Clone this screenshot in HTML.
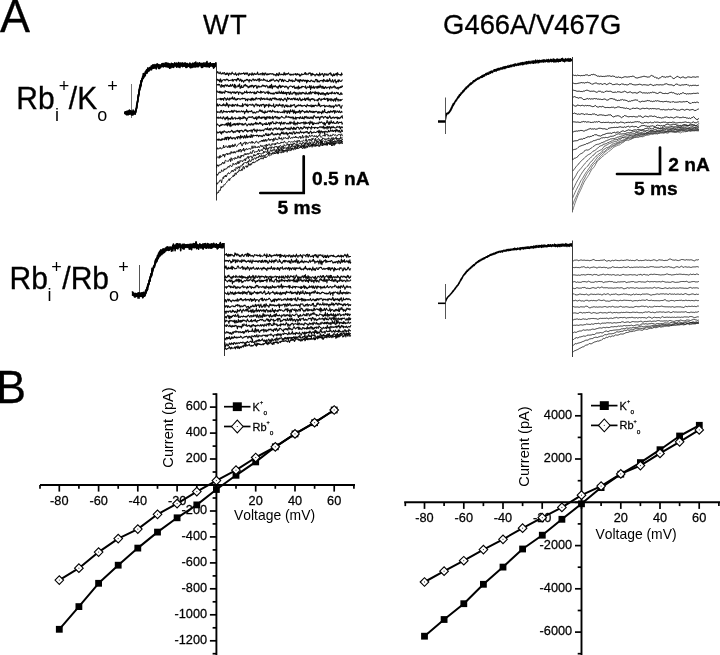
<!DOCTYPE html>
<html><head><meta charset="utf-8"><title>Figure</title>
<style>
html,body{margin:0;padding:0;background:#fff;}
body{width:720px;height:655px;overflow:hidden;position:relative;font-family:"Liberation Sans", sans-serif;}
svg{will-change:transform;position:absolute;left:0;top:0;display:block;}
svg text{font-family:"Liberation Sans", sans-serif;fill:#000;font-kerning:none;}
</style></head>
<body>
<svg width="720" height="655" viewBox="0 0 720 655">
<rect x="0" y="0" width="720" height="655" fill="#fff"/>
<line x1="131.5" y1="84" x2="131.5" y2="118" stroke="#777" stroke-width="1.0"/>
<path d="M124.5 113 L124.8 113.3 L125.2 112.7 L125.5 112 L125.8 112.5 L126.1 111.9 L126.5 113.1 L126.8 114.5 L127.1 112.4 L127.5 112.3 L127.8 113.6 L128.1 113.4 L128.5 113.1 L128.8 111.9 L129.1 113 L129.4 113.8 L129.8 111.5 L130.1 112.5 L130.4 110.8 L130.8 111.5 L131.1 110.9 L131.4 112.7 L131.8 111.5 L132.1 113.3 L132.4 113.2 L132.7 112.8 L133.1 110.1 L133.4 112.4 L133.7 112.9 L134.1 113.1 L134.4 111.2 L134.7 112.5 L135.1 111.9 L135.4 111.5 L135.7 112.6 L136 109 L136.4 108.2 L136.7 107.7 L137 104.2 L137.4 102.7 L137.7 100.7 L138 98.4 L138.4 94.9 L138.7 94.5 L139 94.1 L139.3 89 L139.7 90 L140 87.6 L140.3 85.2 L140.7 86.9 L141 84.1 L141.3 80.6 L141.7 81 L142 80.6 L142.3 78.8 L142.6 79 L143 77.3 L143.3 77.4 L143.6 77.7 L144 74.6 L144.3 75 L144.6 73.7 L145 73.9 L145.3 71.9 L145.6 72.1 L145.9 72.1 L146.3 72.9 L146.6 72.8 L146.9 69.5 L147.3 69.8 L147.6 71.1 L147.9 67.7 L148.3 69.2 L148.6 69.3 L148.9 70.6 L149.2 69.7 L149.6 68.3 L149.9 68 L150.2 68 L150.6 69.8 L150.9 67.4 L151.2 67.4 L151.6 68 L151.9 67.3 L152.2 67.1 L152.5 65.9 L152.9 67.1 L153.2 66.5 L153.5 68.2 L153.9 67.5 L154.2 66.7 L154.5 67.4 L154.9 66.2 L155.2 67.7 L155.5 66.4 L155.8 67 L156.2 64.8 L156.5 66.6 L156.8 64.2 L157.2 63.8 L157.5 65.7 L157.8 65 L158.2 66.2 L158.5 68.5 L158.8 64.9 L159.1 65.1 L159.5 66.1 L159.8 66.3 L160.1 65.5 L160.5 65.5 L160.8 66.5 L161.1 66.2 L161.5 64.4 L161.8 65.5 L162.1 65.6 L162.4 64.3 L162.8 65.8 L163.1 64.5 L163.4 66.6 L163.8 65.7 L164.1 65.6 L164.4 64.8 L164.8 65.3 L165.1 63.1 L165.4 64.1 L165.7 65.8 L166.1 62.9 L166.4 66.4 L166.7 63.4 L167.1 66.2 L167.4 64.4 L167.7 66.2 L168.1 65.5 L168.4 63.6 L168.7 66.8 L169 67 L169.4 65.2 L169.7 65 L170 65.1 L170.4 64.2 L170.7 66.5 L171 64.6 L171.4 65.2 L171.7 64.3 L172 64.5 L172.3 63.8 L172.7 66.7 L173 65 L173.3 66.3 L173.7 65.2 L174 64.4 L174.3 64.8 L174.7 64.6 L175 65.2 L175.3 64.8 L175.6 64.9 L176 63.6 L176.3 64.3 L176.6 67.1 L177 64.4 L177.3 64 L177.6 65.6 L178 66.8 L178.3 63.5 L178.6 65 L178.9 64.5 L179.3 63.2 L179.6 66 L179.9 65.2 L180.3 65.3 L180.6 64.3 L180.9 65.7 L181.3 64.6 L181.6 65 L181.9 63.9 L182.2 63.8 L182.6 66.7 L182.9 64.6 L183.2 65.5 L183.6 65.2 L183.9 64.7 L184.2 64.6 L184.6 65.9 L184.9 64.9 L185.2 65 L185.5 65.2 L185.9 66.6 L186.2 66 L186.5 65.6 L186.9 64.6 L187.2 63.6 L187.5 66.3 L187.9 66.3 L188.2 65 L188.5 65.8 L188.8 66.1 L189.2 66.2 L189.5 66.3 L189.8 64.7 L190.2 66.9 L190.5 63.8 L190.8 66.2 L191.2 65.8 L191.5 66.2 L191.8 67.4 L192.1 66.9 L192.5 63.9 L192.8 63.3 L193.1 66.1 L193.5 64 L193.8 65.2 L194.1 66.2 L194.5 63.3 L194.8 62.8 L195.1 65.5 L195.4 65.3 L195.8 64.9 L196.1 65.2 L196.4 64.2 L196.8 63.5 L197.1 65 L197.4 64.1 L197.8 63.3 L198.1 65.8 L198.4 65.1 L198.7 65.7 L199.1 64.1 L199.4 64.4 L199.7 64.1 L200.1 64.2 L200.4 65.4 L200.7 64.3 L201.1 65.6 L201.4 65.6 L201.7 67.5 L202 63.6 L202.4 66.2 L202.7 65.1 L203 65.2 L203.4 63.5 L203.7 64.7 L204 66.1 L204.4 65.1 L204.7 65.3 L205 64.9 L205.3 66.5 L205.7 65.2 L206 62.7 L206.3 64.4 L206.7 62.9 L207 61.5 L207.3 64.6 L207.7 66.7 L208 65.3 L208.3 63.9 L208.6 64.1 L209 66.5 L209.3 65.4 L209.6 65.3 L210 65.1 L210.3 65.2 L210.6 66.1 L211 65.8 L211.3 65.4 L211.6 64 L211.9 65.8 L212.3 64.4 L212.6 66.5 L212.9 63.7 L213.3 65 L213.6 65.2 L213.9 63.7 L214.3 67.2 L214.6 66.9 L214.9 64.7 L215.2 66.1 L215.6 65.6 L215.9 62.2" fill="none" stroke="#000" stroke-width="1.6" stroke-linejoin="round" />
<path d="M124.5 112.9 L124.8 113.1 L125.2 111.8 L125.5 112.7 L125.8 112.8 L126.1 114.4 L126.5 113.4 L126.8 113 L127.1 114.8 L127.5 112.4 L127.8 112.6 L128.1 110.9 L128.5 114.8 L128.8 114.1 L129.1 114.1 L129.4 113.8 L129.8 113.1 L130.1 113.2 L130.4 112.7 L130.8 112.8 L131.1 113.1 L131.4 114.7 L131.8 113.6 L132.1 112.9 L132.4 112.3 L132.7 112.3 L133.1 114.8 L133.4 113.6 L133.7 113.1 L134.1 112.6 L134.4 111.7 L134.7 112.9 L135.1 114 L135.4 112 L135.7 111.1 L136 109.7 L136.4 108.4 L136.7 104.8 L137 104.6 L137.4 101.8 L137.7 101.6 L138 97.5 L138.4 97 L138.7 96.2 L139 92.2 L139.3 90.1 L139.7 89.3 L140 87.5 L140.3 84.8 L140.7 85.1 L141 85.6 L141.3 81.7 L141.7 80.7 L142 78.7 L142.3 79.4 L142.6 76.7 L143 76.1 L143.3 78.2 L143.6 75 L144 76.6 L144.3 76.6 L144.6 74.5 L145 74.4 L145.3 75.5 L145.6 72.5 L145.9 71.6 L146.3 70.3 L146.6 71.5 L146.9 72.8 L147.3 71.8 L147.6 69.3 L147.9 69 L148.3 69.2 L148.6 69.8 L148.9 69 L149.2 69.2 L149.6 69 L149.9 68.1 L150.2 68.2 L150.6 68.3 L150.9 67.8 L151.2 68.3 L151.6 69.7 L151.9 68.1 L152.2 67.4 L152.5 65.3 L152.9 67.5 L153.2 64.7 L153.5 65.3 L153.9 67.8 L154.2 67.5 L154.5 66.5 L154.9 64.6 L155.2 66 L155.5 65.6 L155.8 67.1 L156.2 68.9 L156.5 66.5 L156.8 65.3 L157.2 64.8 L157.5 66 L157.8 65.8 L158.2 64.7 L158.5 66.1 L158.8 64.6 L159.1 67.1 L159.5 67 L159.8 67 L160.1 65.2 L160.5 66.3 L160.8 65.5 L161.1 65.2 L161.5 65.2 L161.8 64.1 L162.1 63.9 L162.4 66.5 L162.8 65.3 L163.1 65.8 L163.4 66.6 L163.8 63.5 L164.1 64.6 L164.4 65.7 L164.8 65.9 L165.1 65 L165.4 66.6 L165.7 65.7 L166.1 64 L166.4 64.3 L166.7 66.3 L167.1 65.9 L167.4 63.2 L167.7 66.9 L168.1 66 L168.4 66.9 L168.7 64.9 L169 65 L169.4 64 L169.7 68.2 L170 65.1 L170.4 67.1 L170.7 64.5 L171 65.4 L171.4 63.3 L171.7 64.8 L172 66.4 L172.3 63.8 L172.7 66.5 L173 65.6 L173.3 64 L173.7 64.6 L174 64.7 L174.3 65.2 L174.7 64.6 L175 64.3 L175.3 64.9 L175.6 64 L176 63.7 L176.3 65.1 L176.6 66.2 L177 63.4 L177.3 65.2 L177.6 64.5 L178 64.1 L178.3 66.2 L178.6 64.6 L178.9 66.9 L179.3 64.3 L179.6 65.6 L179.9 64.9 L180.3 64.3 L180.6 65.9 L180.9 65 L181.3 65.9 L181.6 65.1 L181.9 64 L182.2 65.1 L182.6 65.3 L182.9 66.3 L183.2 64.2 L183.6 65.2 L183.9 63.2 L184.2 65.9 L184.6 64 L184.9 63.1 L185.2 65.1 L185.5 66.5 L185.9 63.4 L186.2 63.9 L186.5 64.3 L186.9 63.9 L187.2 65.6 L187.5 64.3 L187.9 64.4 L188.2 65.9 L188.5 64.3 L188.8 65.7 L189.2 64.1 L189.5 63.8 L189.8 63.1 L190.2 67.3 L190.5 64.8 L190.8 65.5 L191.2 65.2 L191.5 65.4 L191.8 65.3 L192.1 67.4 L192.5 64 L192.8 63.4 L193.1 64 L193.5 63.7 L193.8 66.1 L194.1 66.1 L194.5 64.1 L194.8 63.6 L195.1 64.8 L195.4 66.8 L195.8 62 L196.1 65.8 L196.4 64 L196.8 66.4 L197.1 64 L197.4 64.9 L197.8 63.5 L198.1 64.1 L198.4 66.8 L198.7 66.1 L199.1 64.7 L199.4 64.2 L199.7 63 L200.1 64.7 L200.4 65.2 L200.7 65.1 L201.1 65.1 L201.4 63.9 L201.7 65.1 L202 65.2 L202.4 66.7 L202.7 67.3 L203 65 L203.4 64.3 L203.7 65.1 L204 64.5 L204.4 64.3 L204.7 65.1 L205 64 L205.3 65.9 L205.7 65.1 L206 65.5 L206.3 65 L206.7 64.4 L207 64.1 L207.3 64.9 L207.7 64.6 L208 65.5 L208.3 65.2 L208.6 63.6 L209 65.3 L209.3 63.7 L209.6 64.5 L210 64.9 L210.3 62.8 L210.6 65.3 L211 65.4 L211.3 65 L211.6 64.7 L211.9 64.8 L212.3 64.1 L212.6 64.9 L212.9 64.6 L213.3 65.3 L213.6 63.8 L213.9 65.5 L214.3 65.4 L214.6 65 L214.9 64.7 L215.2 65.8 L215.6 63.3 L215.9 65.7" fill="none" stroke="#000" stroke-width="1.6" stroke-linejoin="round" />
<path d="M124.5 113.3 L124.8 113.4 L125.2 112.2 L125.5 112.7 L125.8 113.7 L126.1 113.5 L126.5 113.2 L126.8 111.3 L127.1 113.6 L127.5 114.3 L127.8 114.2 L128.1 113.3 L128.5 111.2 L128.8 114.1 L129.1 112.8 L129.4 110.1 L129.8 113.4 L130.1 111.3 L130.4 111.5 L130.8 112.3 L131.1 114.5 L131.4 112.6 L131.8 113.3 L132.1 115 L132.4 114.8 L132.7 112.9 L133.1 112.7 L133.4 111.5 L133.7 112.2 L134.1 113.5 L134.4 113.5 L134.7 113.1 L135.1 114.1 L135.4 111.6 L135.7 111.3 L136 110.8 L136.4 108.9 L136.7 107.9 L137 105.3 L137.4 102.4 L137.7 101 L138 97.2 L138.4 94.5 L138.7 95.1 L139 92.5 L139.3 91.1 L139.7 87.1 L140 87 L140.3 85.3 L140.7 83.6 L141 80.7 L141.3 81.6 L141.7 82 L142 80.4 L142.3 78.3 L142.6 78.1 L143 78.3 L143.3 73.5 L143.6 75.9 L144 76 L144.3 75.6 L144.6 76.2 L145 75 L145.3 73.6 L145.6 73.1 L145.9 73.2 L146.3 71.3 L146.6 71.4 L146.9 72.1 L147.3 72.9 L147.6 70.2 L147.9 70 L148.3 70 L148.6 71 L148.9 69.2 L149.2 70.6 L149.6 67.6 L149.9 68.3 L150.2 68 L150.6 69 L150.9 69.1 L151.2 66 L151.6 66.5 L151.9 67.8 L152.2 66.6 L152.5 65.4 L152.9 68.3 L153.2 67.6 L153.5 67.5 L153.9 66.2 L154.2 67.9 L154.5 66.3 L154.9 67.8 L155.2 65.4 L155.5 65.4 L155.8 66.6 L156.2 65.5 L156.5 67 L156.8 66.5 L157.2 65.1 L157.5 66.2 L157.8 65.6 L158.2 67 L158.5 65.2 L158.8 65.4 L159.1 67.2 L159.5 68.4 L159.8 68.1 L160.1 65.8 L160.5 66 L160.8 67.4 L161.1 65.5 L161.5 64.5 L161.8 65.7 L162.1 66.1 L162.4 64.6 L162.8 63.6 L163.1 63.9 L163.4 66.3 L163.8 64.6 L164.1 65.3 L164.4 65.7 L164.8 66.2 L165.1 65 L165.4 66 L165.7 64.4 L166.1 65 L166.4 64.2 L166.7 66.7 L167.1 65.3 L167.4 64.5 L167.7 64.9 L168.1 65.1 L168.4 66.1 L168.7 63.5 L169 64.1 L169.4 64.9 L169.7 68.2 L170 66.4 L170.4 65.1 L170.7 66.1 L171 67.6 L171.4 65 L171.7 64.8 L172 66.6 L172.3 65.8 L172.7 66 L173 64.6 L173.3 67.4 L173.7 67.2 L174 65.9 L174.3 66 L174.7 62.9 L175 65.9 L175.3 65 L175.6 65.7 L176 66 L176.3 64.8 L176.6 63.3 L177 65.6 L177.3 64.3 L177.6 64.8 L178 64.5 L178.3 64.8 L178.6 62.5 L178.9 66.6 L179.3 65.5 L179.6 66.5 L179.9 67.5 L180.3 65.2 L180.6 63.1 L180.9 64.2 L181.3 63.8 L181.6 64.6 L181.9 65.3 L182.2 62.9 L182.6 65.6 L182.9 63.5 L183.2 65.5 L183.6 65.1 L183.9 64.8 L184.2 65.1 L184.6 64.6 L184.9 64.5 L185.2 63.3 L185.5 65.2 L185.9 67.3 L186.2 67.5 L186.5 66.7 L186.9 66 L187.2 64.4 L187.5 66.9 L187.9 65.1 L188.2 65.1 L188.5 64.9 L188.8 65.3 L189.2 64.7 L189.5 65.1 L189.8 64 L190.2 64.8 L190.5 67.8 L190.8 65.1 L191.2 64.9 L191.5 65.8 L191.8 66 L192.1 63.9 L192.5 65 L192.8 66.3 L193.1 65.5 L193.5 65.3 L193.8 67 L194.1 64.4 L194.5 65.3 L194.8 64.6 L195.1 66.9 L195.4 63 L195.8 64.4 L196.1 64.6 L196.4 66 L196.8 65.9 L197.1 66.8 L197.4 63.4 L197.8 66.1 L198.1 64.9 L198.4 64.4 L198.7 65.8 L199.1 64.1 L199.4 62.8 L199.7 64.8 L200.1 63.5 L200.4 64.5 L200.7 65.6 L201.1 65.6 L201.4 67 L201.7 65 L202 63.4 L202.4 64.3 L202.7 64.1 L203 63.8 L203.4 65.7 L203.7 64.5 L204 62.9 L204.4 66 L204.7 65.1 L205 65.6 L205.3 65.3 L205.7 65.9 L206 65.2 L206.3 66.6 L206.7 65.7 L207 65.7 L207.3 65.7 L207.7 63.5 L208 65 L208.3 64.9 L208.6 65.4 L209 63.6 L209.3 67.1 L209.6 65.3 L210 63.8 L210.3 63.2 L210.6 64.9 L211 65.1 L211.3 64.4 L211.6 65.3 L211.9 64.5 L212.3 65.8 L212.6 64.4 L212.9 65.2 L213.3 66.3 L213.6 68.2 L213.9 64 L214.3 64.7 L214.6 64.2 L214.9 66.1 L215.2 63.9 L215.6 64.6 L215.9 65.2" fill="none" stroke="#000" stroke-width="1.6" stroke-linejoin="round" />
<line x1="216.5" y1="63.5" x2="216.5" y2="200.5" stroke="#333" stroke-width="1.0"/>
<path d="M216.6 72.6 L217.1 73 L217.6 71.6 L218.1 72.2 L218.6 73.1 L219.1 73.6 L219.6 73.3 L220.1 71.9 L220.6 73.1 L221.1 74.1 L221.6 73.9 L222.1 73.4 L222.6 72.7 L223.1 74 L223.6 73 L224.1 72.5 L224.6 72.8 L225.1 74.7 L225.6 73.7 L226.1 74.5 L226.6 73.1 L227.1 74.3 L227.6 73 L228.1 73.4 L228.6 75.7 L229.1 74.2 L229.6 73.1 L230.1 73.5 L230.6 73.9 L231.1 74.6 L231.6 73.2 L232.1 72.1 L232.6 73.4 L233.1 73.6 L233.6 73.7 L234.1 74.8 L234.6 73.9 L235.1 74.3 L235.6 72.7 L236.1 74.4 L236.6 75.4 L237.1 74.3 L237.6 73.9 L238.1 73.8 L238.6 75.2 L239.1 72.9 L239.6 73.6 L240.1 74.1 L240.6 74.3 L241.1 73.3 L241.6 74 L242.1 73.5 L242.6 73.8 L243.1 73.6 L243.6 72.8 L244.1 73.7 L244.6 74.5 L245.1 72.9 L245.6 73.6 L246.1 74.3 L246.6 72.9 L247.1 73.9 L247.6 72.9 L248.1 74.8 L248.6 75.8 L249.1 75.5 L249.6 73.6 L250.1 74.5 L250.6 73.9 L251.1 73.9 L251.6 75.2 L252.1 72.7 L252.6 74.8 L253.1 73.8 L253.6 75.1 L254.1 74 L254.6 73.3 L255.1 74.1 L255.6 74.5 L256.1 73.9 L256.6 74.3 L257.1 73.5 L257.6 72.1 L258.1 74.7 L258.6 74.5 L259.1 74.1 L259.6 74 L260.1 74.8 L260.6 73.6 L261.1 73.4 L261.6 73.8 L262.1 75 L262.6 72.8 L263.1 75 L263.6 73.4 L264.1 73.1 L264.6 75.1 L265.1 73.9 L265.6 72.9 L266.1 73.7 L266.6 74.8 L267.1 75 L267.6 73.7 L268.1 74.4 L268.6 74.6 L269.1 73.5 L269.6 74.3 L270.1 74 L270.6 73.6 L271.1 73.6 L271.6 74.1 L272.1 74.1 L272.6 73.6 L273.1 73.7 L273.6 75 L274.1 74.3 L274.6 74.9 L275.1 75.1 L275.6 74.6 L276.1 76 L276.6 73.4 L277.1 74.8 L277.6 73.9 L278.1 75.7 L278.6 75.6 L279.1 72.5 L279.6 73.3 L280.1 74.7 L280.6 74.8 L281.1 74.8 L281.6 74.1 L282.1 74.6 L282.6 74.7 L283.1 74.1 L283.6 75.1 L284.1 72.3 L284.6 74.7 L285.1 73.3 L285.6 75 L286.1 74 L286.6 73.5 L287.1 74.5 L287.6 73.5 L288.1 73.5 L288.6 72.9 L289.1 74.2 L289.6 74.7 L290.1 75.1 L290.6 74.1 L291.1 75.2 L291.6 74.3 L292.1 74.2 L292.6 74.8 L293.1 75.2 L293.6 74 L294.1 74.1 L294.6 74.2 L295.1 74.4 L295.6 73.5 L296.1 75.2 L296.6 74 L297.1 74.7 L297.6 73.6 L298.1 74.6 L298.6 74.7 L299.1 74 L299.6 76.1 L300.1 74.7 L300.6 75.9 L301.1 75.2 L301.6 73.8 L302.1 74 L302.6 74.7 L303.1 74.4 L303.6 74.4 L304.1 74.1 L304.6 72.9 L305.1 74.2 L305.6 72.5 L306.1 74.7 L306.6 73.8 L307.1 73.8 L307.6 74.2 L308.1 74.7 L308.6 73.2 L309.1 72.9 L309.6 73.5 L310.1 72.7 L310.6 73.6 L311.1 75.8 L311.6 73.6 L312.1 75 L312.6 73.3 L313.1 74.7 L313.6 74.2 L314.1 74.4 L314.6 75 L315.1 76 L315.6 74.6 L316.1 74.6 L316.6 73.7 L317.1 75 L317.6 74.3 L318.1 75.2 L318.6 74.5 L319.1 76 L319.6 72.8 L320.1 74.3 L320.6 75.3 L321.1 74.2 L321.6 73.9 L322.1 74.3 L322.6 73.4 L323.1 74.6 L323.6 76.6 L324.1 75.5 L324.6 73.6 L325.1 73.8 L325.6 74.2 L326.1 75.4 L326.6 73.9 L327.1 74 L327.6 75.3 L328.1 75.3 L328.6 74.3 L329.1 73.6 L329.6 73.3 L330.1 74 L330.6 72.7 L331.1 75.2 L331.6 74.1 L332.1 75 L332.6 76.2 L333.1 75.6 L333.6 73.7 L334.1 75.4 L334.6 75.6 L335.1 74 L335.6 73.8 L336.1 74.6 L336.6 73.3 L337.1 75.9 L337.6 72.6 L338.1 73.7 L338.6 74.4 L339.1 74.5 L339.6 74.8 L340.1 74.9 L340.6 74.5 L341.1 75.7 L341.6 72.9 L342.1 74.7 L342.6 74.1" fill="none" stroke="#0a0a0a" stroke-width="1.05" stroke-linejoin="round" />
<path d="M216.6 80.2 L217.1 79.2 L217.6 79.5 L218.1 80.7 L218.6 80.3 L219.1 79.4 L219.6 81.8 L220.1 82 L220.6 78.8 L221.1 80.3 L221.6 82.2 L222.1 80.7 L222.6 80.2 L223.1 79.9 L223.6 79.6 L224.1 79.9 L224.6 79.6 L225.1 80.7 L225.6 79.7 L226.1 79.7 L226.6 79.1 L227.1 80 L227.6 79.3 L228.1 79.9 L228.6 81 L229.1 80.4 L229.6 80.5 L230.1 80.4 L230.6 80.2 L231.1 80 L231.6 79.9 L232.1 80.8 L232.6 79.2 L233.1 81.3 L233.6 80.2 L234.1 79.5 L234.6 79.7 L235.1 79.6 L235.6 80.3 L236.1 79.5 L236.6 81.1 L237.1 79.5 L237.6 78.2 L238.1 79.6 L238.6 78.5 L239.1 80.1 L239.6 81.1 L240.1 80.7 L240.6 79.1 L241.1 79.5 L241.6 81.7 L242.1 80.5 L242.6 80.2 L243.1 81.1 L243.6 82.3 L244.1 81.3 L244.6 80.3 L245.1 80.5 L245.6 80.8 L246.1 79.7 L246.6 79.3 L247.1 80.3 L247.6 79.4 L248.1 80.2 L248.6 80.3 L249.1 82.2 L249.6 79.5 L250.1 80.2 L250.6 80.1 L251.1 80.6 L251.6 81.2 L252.1 79.9 L252.6 79.6 L253.1 78.9 L253.6 79.5 L254.1 80.7 L254.6 80.3 L255.1 79.4 L255.6 80 L256.1 80.3 L256.6 80.7 L257.1 79.8 L257.6 80.1 L258.1 78.8 L258.6 79.3 L259.1 81.7 L259.6 78.5 L260.1 80 L260.6 80.5 L261.1 80 L261.6 79.7 L262.1 80.3 L262.6 80.3 L263.1 80.3 L263.6 78.8 L264.1 80.2 L264.6 79.6 L265.1 79.9 L265.6 80.6 L266.1 80.9 L266.6 81.1 L267.1 80 L267.6 81.2 L268.1 81.4 L268.6 81.4 L269.1 81.6 L269.6 80.3 L270.1 80.3 L270.6 81.1 L271.1 79.2 L271.6 80.6 L272.1 80 L272.6 80.1 L273.1 78.9 L273.6 79.7 L274.1 80.4 L274.6 81.2 L275.1 81.3 L275.6 80.4 L276.1 80.3 L276.6 79.7 L277.1 80.8 L277.6 80.2 L278.1 81 L278.6 81.9 L279.1 80.4 L279.6 79.2 L280.1 79.7 L280.6 79.2 L281.1 79.5 L281.6 81.6 L282.1 80.7 L282.6 79.2 L283.1 81 L283.6 81.6 L284.1 80.2 L284.6 79.9 L285.1 80.2 L285.6 80.7 L286.1 81 L286.6 81.5 L287.1 81.5 L287.6 81.5 L288.1 81.7 L288.6 81.1 L289.1 79.2 L289.6 80.4 L290.1 80.8 L290.6 80.2 L291.1 81.3 L291.6 80.2 L292.1 79.8 L292.6 81.8 L293.1 81.1 L293.6 80.7 L294.1 81.3 L294.6 81.5 L295.1 80.8 L295.6 78.5 L296.1 80 L296.6 80.2 L297.1 79.7 L297.6 80.7 L298.1 81.6 L298.6 80.2 L299.1 79.6 L299.6 82.3 L300.1 80.2 L300.6 79.5 L301.1 80.8 L301.6 81 L302.1 80 L302.6 81.3 L303.1 80.2 L303.6 79.8 L304.1 80.8 L304.6 81.3 L305.1 80.1 L305.6 80.9 L306.1 80.5 L306.6 83 L307.1 80 L307.6 81.8 L308.1 80.6 L308.6 80.5 L309.1 81.2 L309.6 81.4 L310.1 81.7 L310.6 80.9 L311.1 80.1 L311.6 80.2 L312.1 81.1 L312.6 81.1 L313.1 81.8 L313.6 81 L314.1 81.6 L314.6 82 L315.1 80.8 L315.6 79.4 L316.1 79.7 L316.6 79.4 L317.1 82 L317.6 80 L318.1 81.7 L318.6 81.2 L319.1 82.1 L319.6 81.5 L320.1 80.6 L320.6 80.5 L321.1 80.8 L321.6 80.8 L322.1 80.2 L322.6 80.7 L323.1 82.1 L323.6 79.3 L324.1 80.9 L324.6 79.9 L325.1 80.9 L325.6 81.4 L326.1 80.7 L326.6 81.4 L327.1 79.4 L327.6 81.7 L328.1 80.2 L328.6 81.3 L329.1 80.9 L329.6 78.5 L330.1 80.1 L330.6 80.9 L331.1 82.1 L331.6 81 L332.1 81 L332.6 79.6 L333.1 82 L333.6 82.3 L334.1 80.8 L334.6 80.6 L335.1 79.4 L335.6 81.5 L336.1 83.1 L336.6 81.4 L337.1 81.8 L337.6 81.2 L338.1 79.9 L338.6 81.9 L339.1 79.7 L339.6 80.6 L340.1 81 L340.6 81.5 L341.1 81.1 L341.6 81.1 L342.1 80.1 L342.6 79.7" fill="none" stroke="#0a0a0a" stroke-width="1.05" stroke-linejoin="round" />
<path d="M216.6 85.1 L217.1 84.6 L217.6 84.6 L218.1 85.3 L218.6 84.2 L219.1 84.6 L219.6 84.4 L220.1 85.9 L220.6 86.1 L221.1 87.5 L221.6 84.5 L222.1 85.2 L222.6 86.6 L223.1 85.6 L223.6 85.5 L224.1 87.3 L224.6 85.6 L225.1 84.9 L225.6 84.7 L226.1 86.2 L226.6 86.1 L227.1 84.7 L227.6 85.1 L228.1 86.4 L228.6 86.4 L229.1 85.4 L229.6 86.5 L230.1 86.4 L230.6 84.4 L231.1 85.7 L231.6 86.3 L232.1 85.5 L232.6 84.2 L233.1 85.7 L233.6 86.6 L234.1 87.3 L234.6 84.2 L235.1 88.2 L235.6 85.1 L236.1 86.9 L236.6 87.1 L237.1 86.9 L237.6 86.2 L238.1 85.1 L238.6 86.6 L239.1 85.5 L239.6 83.9 L240.1 88.5 L240.6 86.7 L241.1 87.7 L241.6 85.4 L242.1 87.4 L242.6 87.5 L243.1 87.5 L243.6 86.1 L244.1 85.1 L244.6 86 L245.1 84.3 L245.6 84.7 L246.1 86.3 L246.6 85.4 L247.1 86.1 L247.6 86.1 L248.1 87.9 L248.6 87.3 L249.1 86.2 L249.6 87.3 L250.1 85.6 L250.6 86 L251.1 87 L251.6 85.2 L252.1 86.1 L252.6 85.2 L253.1 86.4 L253.6 87.7 L254.1 85.7 L254.6 86.5 L255.1 85.6 L255.6 85.4 L256.1 85.3 L256.6 87.6 L257.1 88.4 L257.6 86.8 L258.1 85.8 L258.6 87 L259.1 86.1 L259.6 87.1 L260.1 86.7 L260.6 86.7 L261.1 86.9 L261.6 85.9 L262.1 86.1 L262.6 85 L263.1 86.1 L263.6 85.3 L264.1 86.3 L264.6 85.7 L265.1 86.6 L265.6 86.9 L266.1 85.3 L266.6 85.8 L267.1 85.7 L267.6 87.2 L268.1 88 L268.6 87.3 L269.1 86.2 L269.6 87.8 L270.1 85.3 L270.6 87.8 L271.1 86 L271.6 84.2 L272.1 88.8 L272.6 87.9 L273.1 85.7 L273.6 86.7 L274.1 86.4 L274.6 86.7 L275.1 85.4 L275.6 86 L276.1 87 L276.6 86.8 L277.1 87.7 L277.6 86.7 L278.1 88.7 L278.6 86.1 L279.1 86.9 L279.6 85.1 L280.1 85.6 L280.6 87.8 L281.1 85.9 L281.6 87.2 L282.1 86.7 L282.6 85.8 L283.1 86.4 L283.6 86.3 L284.1 86.3 L284.6 87.4 L285.1 87.3 L285.6 86.3 L286.1 86 L286.6 87 L287.1 86.7 L287.6 87.7 L288.1 89 L288.6 87.5 L289.1 86.8 L289.6 86.7 L290.1 86.1 L290.6 86.1 L291.1 86 L291.6 86.5 L292.1 86.5 L292.6 87.5 L293.1 86.5 L293.6 86.7 L294.1 85.8 L294.6 88.3 L295.1 87.3 L295.6 88.4 L296.1 87.6 L296.6 88.2 L297.1 86.7 L297.6 87.5 L298.1 89.2 L298.6 85.9 L299.1 87.9 L299.6 88.4 L300.1 87.3 L300.6 87.6 L301.1 88 L301.6 86.4 L302.1 87.3 L302.6 86.2 L303.1 86.4 L303.6 86.4 L304.1 86.9 L304.6 87.1 L305.1 87.4 L305.6 85.8 L306.1 88.7 L306.6 88 L307.1 87.7 L307.6 86.7 L308.1 87 L308.6 87.5 L309.1 87.4 L309.6 85.6 L310.1 87.7 L310.6 89.6 L311.1 85.5 L311.6 87.9 L312.1 87.4 L312.6 87 L313.1 88.3 L313.6 86.1 L314.1 87.2 L314.6 88.4 L315.1 86.9 L315.6 86.8 L316.1 87.2 L316.6 86.7 L317.1 88.5 L317.6 86.3 L318.1 87.9 L318.6 86.1 L319.1 87.7 L319.6 87.1 L320.1 84.9 L320.6 87.2 L321.1 86.2 L321.6 86.8 L322.1 88.5 L322.6 86.2 L323.1 86.3 L323.6 88.5 L324.1 87.3 L324.6 88.6 L325.1 87.5 L325.6 86.5 L326.1 87.2 L326.6 88.3 L327.1 88.1 L327.6 87.2 L328.1 87.3 L328.6 87.2 L329.1 86.8 L329.6 89 L330.1 87.3 L330.6 86.3 L331.1 86.9 L331.6 87.9 L332.1 87.9 L332.6 87.2 L333.1 86.7 L333.6 87.3 L334.1 85.8 L334.6 86.2 L335.1 88 L335.6 86.9 L336.1 87.7 L336.6 88.4 L337.1 87.9 L337.6 87.4 L338.1 89.2 L338.6 87.9 L339.1 87.1 L339.6 88 L340.1 87.7 L340.6 86.6 L341.1 87.4 L341.6 87.2 L342.1 85.7 L342.6 87.2" fill="none" stroke="#0a0a0a" stroke-width="1.05" stroke-linejoin="round" />
<path d="M216.6 91.9 L217.1 90.9 L217.6 92 L218.1 92.3 L218.6 92.4 L219.1 91.3 L219.6 92.9 L220.1 91.3 L220.6 92.2 L221.1 93.5 L221.6 91.8 L222.1 91.9 L222.6 93.3 L223.1 92 L223.6 92.1 L224.1 92.6 L224.6 93.3 L225.1 90.5 L225.6 91.7 L226.1 91.5 L226.6 91.5 L227.1 91.7 L227.6 91.7 L228.1 92.7 L228.6 91.7 L229.1 92.6 L229.6 92.8 L230.1 91.8 L230.6 92.6 L231.1 93.9 L231.6 92.8 L232.1 91.9 L232.6 92.4 L233.1 91.7 L233.6 92.7 L234.1 93.3 L234.6 91.8 L235.1 92.3 L235.6 93.5 L236.1 92.1 L236.6 92.7 L237.1 91.7 L237.6 91.8 L238.1 92.1 L238.6 94.4 L239.1 92.2 L239.6 92.1 L240.1 92.1 L240.6 92.4 L241.1 93.2 L241.6 92.8 L242.1 94.4 L242.6 92.8 L243.1 93.8 L243.6 92.9 L244.1 93.1 L244.6 91.4 L245.1 92.5 L245.6 92.6 L246.1 92.4 L246.6 90.8 L247.1 93.4 L247.6 92.3 L248.1 92.3 L248.6 92.5 L249.1 92.5 L249.6 93 L250.1 91.6 L250.6 91.9 L251.1 93 L251.6 92.8 L252.1 92.4 L252.6 92.2 L253.1 92 L253.6 92.7 L254.1 93.7 L254.6 91.8 L255.1 94 L255.6 93.5 L256.1 92.4 L256.6 93.4 L257.1 91.5 L257.6 91.3 L258.1 91.7 L258.6 92.4 L259.1 92.5 L259.6 92.4 L260.1 92.9 L260.6 91 L261.1 93.2 L261.6 91.6 L262.1 92.3 L262.6 92.5 L263.1 91.8 L263.6 91.7 L264.1 92 L264.6 92.8 L265.1 93.4 L265.6 93.3 L266.1 92 L266.6 92.2 L267.1 92.1 L267.6 93.3 L268.1 91.1 L268.6 93.9 L269.1 92.5 L269.6 92.2 L270.1 93.2 L270.6 93.8 L271.1 93.2 L271.6 93.8 L272.1 93 L272.6 94 L273.1 94 L273.6 92.9 L274.1 94.2 L274.6 93.1 L275.1 93 L275.6 92.2 L276.1 92.7 L276.6 93.6 L277.1 91.9 L277.6 93.5 L278.1 93.3 L278.6 93.2 L279.1 91.1 L279.6 92.9 L280.1 93.5 L280.6 92.4 L281.1 93.1 L281.6 91 L282.1 93.6 L282.6 92.5 L283.1 93.8 L283.6 91.5 L284.1 93.6 L284.6 92.8 L285.1 93.7 L285.6 92.3 L286.1 92.5 L286.6 95 L287.1 92.4 L287.6 92.5 L288.1 92.8 L288.6 92.2 L289.1 94.1 L289.6 94.5 L290.1 92.5 L290.6 91.6 L291.1 94.1 L291.6 94 L292.1 93.8 L292.6 94.1 L293.1 92.4 L293.6 93 L294.1 91.9 L294.6 91.9 L295.1 94 L295.6 92.6 L296.1 95.1 L296.6 93.2 L297.1 92.6 L297.6 93.8 L298.1 94.7 L298.6 93.6 L299.1 92.1 L299.6 93.5 L300.1 94.3 L300.6 92.8 L301.1 92.5 L301.6 94.1 L302.1 93.3 L302.6 92.3 L303.1 92.9 L303.6 92.6 L304.1 93.5 L304.6 93.3 L305.1 94.2 L305.6 93.8 L306.1 91.9 L306.6 93.6 L307.1 94 L307.6 93.6 L308.1 94.1 L308.6 92.8 L309.1 92.4 L309.6 94 L310.1 92.4 L310.6 91.4 L311.1 94.1 L311.6 92.7 L312.1 93 L312.6 92.1 L313.1 92.2 L313.6 92.3 L314.1 93 L314.6 93.6 L315.1 91.3 L315.6 93.9 L316.1 92.3 L316.6 92.4 L317.1 93.9 L317.6 93.3 L318.1 92 L318.6 94.9 L319.1 92.6 L319.6 93.5 L320.1 93.5 L320.6 94.5 L321.1 93 L321.6 94.2 L322.1 92.7 L322.6 94.3 L323.1 92.7 L323.6 93.1 L324.1 95 L324.6 93.6 L325.1 93.5 L325.6 95.3 L326.1 93.7 L326.6 92.7 L327.1 94 L327.6 92.4 L328.1 94.4 L328.6 94.4 L329.1 92.9 L329.6 92.9 L330.1 93.6 L330.6 93.4 L331.1 92.6 L331.6 93.9 L332.1 91.7 L332.6 93.1 L333.1 93.1 L333.6 93.2 L334.1 93.7 L334.6 92.4 L335.1 93.9 L335.6 93.3 L336.1 92.9 L336.6 92.3 L337.1 92.5 L337.6 93.8 L338.1 92.6 L338.6 93.5 L339.1 94.4 L339.6 94.4 L340.1 94.8 L340.6 93.2 L341.1 92.6 L341.6 94.4 L342.1 93.8 L342.6 94.5" fill="none" stroke="#0a0a0a" stroke-width="1.05" stroke-linejoin="round" />
<path d="M216.6 99.6 L217.1 99.3 L217.6 99.2 L218.1 99 L218.6 99 L219.1 98.8 L219.6 98.8 L220.1 99.5 L220.6 98.2 L221.1 100.1 L221.6 98.6 L222.1 99.5 L222.6 98.6 L223.1 98.5 L223.6 100.4 L224.1 98.4 L224.6 97.6 L225.1 98.1 L225.6 98.4 L226.1 100.5 L226.6 98.9 L227.1 99.5 L227.6 97.9 L228.1 99 L228.6 99.3 L229.1 100.3 L229.6 98.1 L230.1 99.3 L230.6 99 L231.1 97.9 L231.6 98.7 L232.1 98.5 L232.6 96.8 L233.1 99.3 L233.6 99.2 L234.1 98.4 L234.6 97.6 L235.1 100 L235.6 99 L236.1 99.7 L236.6 100 L237.1 98.4 L237.6 99.5 L238.1 98.6 L238.6 98.8 L239.1 98.8 L239.6 98.8 L240.1 99.8 L240.6 98.9 L241.1 98.7 L241.6 98.6 L242.1 99.1 L242.6 98.1 L243.1 98.4 L243.6 98.8 L244.1 98.4 L244.6 98.8 L245.1 98.4 L245.6 100.6 L246.1 100 L246.6 99.3 L247.1 98.9 L247.6 100.8 L248.1 99.2 L248.6 98.8 L249.1 99.2 L249.6 99.2 L250.1 100.1 L250.6 98.9 L251.1 100.7 L251.6 98.2 L252.1 99.5 L252.6 98.1 L253.1 100.5 L253.6 98.7 L254.1 98.9 L254.6 99.8 L255.1 100 L255.6 98 L256.1 98.7 L256.6 97.8 L257.1 99.1 L257.6 98.9 L258.1 98.7 L258.6 98.4 L259.1 98.7 L259.6 98.4 L260.1 99.5 L260.6 100.3 L261.1 97.4 L261.6 98.9 L262.1 98.7 L262.6 99.5 L263.1 98.2 L263.6 98.9 L264.1 98.2 L264.6 99.6 L265.1 99.1 L265.6 98.9 L266.1 99.4 L266.6 98.9 L267.1 97.8 L267.6 99.6 L268.1 99.3 L268.6 99 L269.1 99.9 L269.6 100.1 L270.1 98.2 L270.6 98.4 L271.1 100.4 L271.6 100.3 L272.1 98.5 L272.6 98.1 L273.1 98.6 L273.6 98.7 L274.1 97.8 L274.6 99.2 L275.1 98.1 L275.6 98.1 L276.1 99.9 L276.6 98.6 L277.1 99.1 L277.6 99.7 L278.1 99.9 L278.6 98.9 L279.1 99.2 L279.6 98.5 L280.1 100.7 L280.6 99.7 L281.1 98.3 L281.6 99.2 L282.1 99.8 L282.6 99.6 L283.1 100.8 L283.6 100.4 L284.1 98.8 L284.6 99.1 L285.1 98.1 L285.6 99.4 L286.1 99.4 L286.6 101.5 L287.1 99.3 L287.6 97.5 L288.1 98.7 L288.6 99.3 L289.1 98.2 L289.6 98.5 L290.1 98.9 L290.6 99.6 L291.1 99.1 L291.6 98.5 L292.1 99.9 L292.6 98.8 L293.1 98.9 L293.6 98.1 L294.1 98.6 L294.6 99.8 L295.1 97.9 L295.6 99.2 L296.1 99.9 L296.6 99 L297.1 99.5 L297.6 98.4 L298.1 100.4 L298.6 100.3 L299.1 99.5 L299.6 97.8 L300.1 98.4 L300.6 100.2 L301.1 100.8 L301.6 99.6 L302.1 100.4 L302.6 98.8 L303.1 99.2 L303.6 99.4 L304.1 99.7 L304.6 98.1 L305.1 100.2 L305.6 100.5 L306.1 98.4 L306.6 98.2 L307.1 99.7 L307.6 98.8 L308.1 97.4 L308.6 100.1 L309.1 99.5 L309.6 99 L310.1 101.2 L310.6 99.5 L311.1 98.8 L311.6 99.5 L312.1 98.5 L312.6 98.8 L313.1 99.7 L313.6 98.9 L314.1 99 L314.6 100.8 L315.1 100.2 L315.6 100.1 L316.1 99.9 L316.6 99.9 L317.1 100.7 L317.6 99.4 L318.1 101 L318.6 98.6 L319.1 99.2 L319.6 98.3 L320.1 99.2 L320.6 99.9 L321.1 100.7 L321.6 98.9 L322.1 99.5 L322.6 99.2 L323.1 98.9 L323.6 98.5 L324.1 99.5 L324.6 98 L325.1 99.6 L325.6 99.5 L326.1 98.9 L326.6 98.6 L327.1 98.3 L327.6 101.1 L328.1 98.4 L328.6 100.8 L329.1 100 L329.6 99.2 L330.1 98.5 L330.6 100.4 L331.1 101 L331.6 98.7 L332.1 99.3 L332.6 100.4 L333.1 99.8 L333.6 101.2 L334.1 99.1 L334.6 100 L335.1 98.5 L335.6 101.3 L336.1 98.9 L336.6 97.7 L337.1 99.5 L337.6 99.5 L338.1 101.2 L338.6 99.3 L339.1 99.6 L339.6 100.1 L340.1 100.9 L340.6 99.5 L341.1 100.5 L341.6 100 L342.1 99.3 L342.6 99.7" fill="none" stroke="#0a0a0a" stroke-width="1.05" stroke-linejoin="round" />
<path d="M216.6 104.2 L217.1 106 L217.6 103.8 L218.1 106 L218.6 105.8 L219.1 104.9 L219.6 104.4 L220.1 104.8 L220.6 105.4 L221.1 105.7 L221.6 105.3 L222.1 105.9 L222.6 104.6 L223.1 105.3 L223.6 103.7 L224.1 105.7 L224.6 105.2 L225.1 104.7 L225.6 106.1 L226.1 105.7 L226.6 102.7 L227.1 105.1 L227.6 103.9 L228.1 106 L228.6 107.2 L229.1 104.7 L229.6 105.2 L230.1 104.9 L230.6 105.4 L231.1 105.7 L231.6 106.2 L232.1 104.3 L232.6 106.5 L233.1 104.4 L233.6 105.4 L234.1 106.2 L234.6 105.8 L235.1 104.4 L235.6 104.6 L236.1 104.8 L236.6 105.2 L237.1 106.2 L237.6 104.1 L238.1 105.6 L238.6 105.7 L239.1 105.7 L239.6 105.6 L240.1 106.5 L240.6 105.7 L241.1 106 L241.6 105.7 L242.1 106.8 L242.6 103.6 L243.1 106.4 L243.6 105 L244.1 105 L244.6 104.5 L245.1 103.7 L245.6 105 L246.1 104.7 L246.6 105.7 L247.1 104.1 L247.6 106.5 L248.1 105.5 L248.6 105.1 L249.1 104.7 L249.6 104.7 L250.1 104.4 L250.6 104.9 L251.1 105.3 L251.6 105.2 L252.1 104.1 L252.6 105.1 L253.1 104.6 L253.6 105.5 L254.1 106.9 L254.6 105.9 L255.1 105.1 L255.6 104 L256.1 104.2 L256.6 104 L257.1 106 L257.6 104.7 L258.1 105.5 L258.6 104.9 L259.1 105.5 L259.6 106.6 L260.1 104.8 L260.6 105.1 L261.1 104.7 L261.6 106.2 L262.1 104.6 L262.6 104.5 L263.1 104.3 L263.6 104.2 L264.1 105.9 L264.6 107.6 L265.1 104.6 L265.6 106.3 L266.1 105.7 L266.6 104.5 L267.1 105.2 L267.6 105.3 L268.1 104.9 L268.6 107.1 L269.1 103.9 L269.6 105.8 L270.1 105.8 L270.6 105 L271.1 105.6 L271.6 106.3 L272.1 105.6 L272.6 105.9 L273.1 106.1 L273.6 103.8 L274.1 106.8 L274.6 107.5 L275.1 106.4 L275.6 106.4 L276.1 104.4 L276.6 105.5 L277.1 104.9 L277.6 105.1 L278.1 106.4 L278.6 104.9 L279.1 105.5 L279.6 104 L280.1 105.4 L280.6 105.7 L281.1 105 L281.6 105 L282.1 107.2 L282.6 104.6 L283.1 104.7 L283.6 104.9 L284.1 106.6 L284.6 107.4 L285.1 105.9 L285.6 105 L286.1 105.3 L286.6 106.5 L287.1 104.9 L287.6 106.9 L288.1 106.8 L288.6 105.7 L289.1 106.2 L289.6 106.3 L290.1 107 L290.6 104.8 L291.1 106.7 L291.6 105.3 L292.1 105 L292.6 105.8 L293.1 105.5 L293.6 104.8 L294.1 104.3 L294.6 104.9 L295.1 106.9 L295.6 107.4 L296.1 106.3 L296.6 106.7 L297.1 105.3 L297.6 105.6 L298.1 106 L298.6 104.8 L299.1 104.9 L299.6 105.8 L300.1 105.5 L300.6 104.8 L301.1 106.1 L301.6 105.5 L302.1 106.6 L302.6 105.7 L303.1 105.5 L303.6 105.9 L304.1 105.6 L304.6 105.2 L305.1 105.4 L305.6 106.4 L306.1 106.3 L306.6 106.9 L307.1 104.3 L307.6 105.4 L308.1 105.4 L308.6 105.9 L309.1 105.4 L309.6 105.4 L310.1 106.5 L310.6 106 L311.1 104.8 L311.6 106.9 L312.1 106.7 L312.6 105.3 L313.1 106.5 L313.6 105.2 L314.1 106.8 L314.6 105.6 L315.1 105.1 L315.6 105.5 L316.1 105.2 L316.6 106 L317.1 106 L317.6 105.9 L318.1 105.4 L318.6 102.7 L319.1 105.9 L319.6 104.2 L320.1 106.1 L320.6 106.8 L321.1 106.1 L321.6 105.5 L322.1 105.7 L322.6 105.8 L323.1 105.4 L323.6 105.4 L324.1 105.1 L324.6 106.9 L325.1 105.9 L325.6 106.7 L326.1 105.7 L326.6 106 L327.1 105.8 L327.6 106.3 L328.1 106.6 L328.6 106.1 L329.1 105.3 L329.6 105.3 L330.1 107.3 L330.6 105.7 L331.1 105.7 L331.6 107.2 L332.1 106.9 L332.6 106.4 L333.1 105.6 L333.6 107.9 L334.1 106.3 L334.6 106.4 L335.1 105.8 L335.6 104.8 L336.1 104.8 L336.6 106.3 L337.1 106.3 L337.6 105.8 L338.1 105 L338.6 104.7 L339.1 105.7 L339.6 104.7 L340.1 106.7 L340.6 107 L341.1 108.4 L341.6 106.7 L342.1 105.5 L342.6 105.3" fill="none" stroke="#0a0a0a" stroke-width="1.05" stroke-linejoin="round" />
<path d="M216.6 111.1 L217.1 111.5 L217.6 112.4 L218.1 112.1 L218.6 112.1 L219.1 111.8 L219.6 112.2 L220.1 112.8 L220.6 110.7 L221.1 111.2 L221.6 110.4 L222.1 113 L222.6 112.7 L223.1 112.3 L223.6 110.6 L224.1 111.8 L224.6 111.4 L225.1 111.7 L225.6 111.5 L226.1 112.1 L226.6 111.3 L227.1 112.4 L227.6 111.8 L228.1 111.4 L228.6 111.5 L229.1 111.3 L229.6 112.3 L230.1 111.4 L230.6 111.9 L231.1 111.3 L231.6 110.4 L232.1 112.4 L232.6 110.7 L233.1 112.2 L233.6 112 L234.1 110.2 L234.6 110.8 L235.1 111.2 L235.6 110.9 L236.1 110.6 L236.6 112.3 L237.1 111.4 L237.6 112 L238.1 111.3 L238.6 111.9 L239.1 111 L239.6 111.6 L240.1 112.1 L240.6 111.7 L241.1 111.3 L241.6 110.7 L242.1 111.8 L242.6 111.9 L243.1 111.4 L243.6 111 L244.1 112.1 L244.6 113.8 L245.1 111.4 L245.6 111.9 L246.1 112 L246.6 109.5 L247.1 111.8 L247.6 111.1 L248.1 112.8 L248.6 111.5 L249.1 111 L249.6 111.5 L250.1 111.8 L250.6 111.2 L251.1 111.6 L251.6 110.5 L252.1 111.5 L252.6 112.3 L253.1 113.3 L253.6 112.3 L254.1 111.9 L254.6 112.7 L255.1 112.5 L255.6 113.1 L256.1 112.6 L256.6 111.6 L257.1 111.9 L257.6 111.8 L258.1 111.9 L258.6 111.9 L259.1 111 L259.6 109.9 L260.1 111.1 L260.6 110 L261.1 111.7 L261.6 111.7 L262.1 110.3 L262.6 112.3 L263.1 112.4 L263.6 111.8 L264.1 113.1 L264.6 113.3 L265.1 110.7 L265.6 112.6 L266.1 112.1 L266.6 112.1 L267.1 112.5 L267.6 111.1 L268.1 111.2 L268.6 111 L269.1 111.1 L269.6 111.6 L270.1 110.5 L270.6 110.8 L271.1 112.2 L271.6 111.6 L272.1 112 L272.6 110.1 L273.1 111 L273.6 111.2 L274.1 111.7 L274.6 111.2 L275.1 112.5 L275.6 111.7 L276.1 111.7 L276.6 111.7 L277.1 112.3 L277.6 111.3 L278.1 112.7 L278.6 112.1 L279.1 111.9 L279.6 111.8 L280.1 112.2 L280.6 112.6 L281.1 112.5 L281.6 112 L282.1 112.5 L282.6 111.8 L283.1 112.8 L283.6 111.7 L284.1 110 L284.6 112.9 L285.1 111.8 L285.6 110.7 L286.1 111.6 L286.6 111 L287.1 113.5 L287.6 112.2 L288.1 110.4 L288.6 112.2 L289.1 111.4 L289.6 113.4 L290.1 110.8 L290.6 109.8 L291.1 111.8 L291.6 111.4 L292.1 111.4 L292.6 109.9 L293.1 112.1 L293.6 113.2 L294.1 110.1 L294.6 112.7 L295.1 111.3 L295.6 113.7 L296.1 112.1 L296.6 111.6 L297.1 112.7 L297.6 112.2 L298.1 111.2 L298.6 112.4 L299.1 111.3 L299.6 110.2 L300.1 113.5 L300.6 111.5 L301.1 111.2 L301.6 112 L302.1 110.4 L302.6 110.6 L303.1 111.3 L303.6 111.3 L304.1 111.8 L304.6 112.7 L305.1 111.4 L305.6 112.2 L306.1 112.3 L306.6 110.8 L307.1 112 L307.6 111 L308.1 112.7 L308.6 112.1 L309.1 111.8 L309.6 110.6 L310.1 111.9 L310.6 111.1 L311.1 112.4 L311.6 111.7 L312.1 111.1 L312.6 112.6 L313.1 112.4 L313.6 111.3 L314.1 112.8 L314.6 111.5 L315.1 111.5 L315.6 111.9 L316.1 111.1 L316.6 111.4 L317.1 111.6 L317.6 113.1 L318.1 113 L318.6 111.6 L319.1 113.1 L319.6 111.7 L320.1 112.1 L320.6 112.5 L321.1 112 L321.6 113.8 L322.1 112 L322.6 110.8 L323.1 112.9 L323.6 111.4 L324.1 111.5 L324.6 109.2 L325.1 112.6 L325.6 112.5 L326.1 112.5 L326.6 112.6 L327.1 113.2 L327.6 111.7 L328.1 112.6 L328.6 111.2 L329.1 111.5 L329.6 112.7 L330.1 112.1 L330.6 110.7 L331.1 112.1 L331.6 111.6 L332.1 111.1 L332.6 112.2 L333.1 111.4 L333.6 110.5 L334.1 110.8 L334.6 113.3 L335.1 110.5 L335.6 112 L336.1 112.3 L336.6 112.3 L337.1 110.8 L337.6 111.5 L338.1 111.9 L338.6 112.5 L339.1 111.2 L339.6 110.8 L340.1 112.6 L340.6 112.7 L341.1 112.1 L341.6 111.3 L342.1 112.1 L342.6 111.9" fill="none" stroke="#0a0a0a" stroke-width="1.05" stroke-linejoin="round" />
<path d="M216.6 116.9 L217.1 118.1 L217.6 117.9 L218.1 117 L218.6 118.2 L219.1 118 L219.6 117.6 L220.1 118.3 L220.6 116.8 L221.1 117.9 L221.6 118.3 L222.1 118.2 L222.6 118.9 L223.1 116.9 L223.6 116.7 L224.1 118.2 L224.6 118.3 L225.1 119.8 L225.6 118.5 L226.1 117.2 L226.6 118.6 L227.1 117.2 L227.6 116.7 L228.1 120.1 L228.6 118.2 L229.1 118.5 L229.6 118.4 L230.1 119.5 L230.6 118.2 L231.1 119 L231.6 117 L232.1 116.7 L232.6 119.1 L233.1 119.2 L233.6 118.3 L234.1 118.1 L234.6 118 L235.1 117.3 L235.6 119.2 L236.1 118.4 L236.6 118.3 L237.1 118.2 L237.6 118.8 L238.1 118.3 L238.6 118.5 L239.1 116.9 L239.6 118.3 L240.1 119.7 L240.6 117.4 L241.1 117.8 L241.6 118.6 L242.1 118.7 L242.6 118.4 L243.1 116.5 L243.6 118.3 L244.1 116.8 L244.6 117.1 L245.1 118.3 L245.6 117.6 L246.1 118.5 L246.6 120.5 L247.1 118.5 L247.6 118.4 L248.1 117.1 L248.6 117.3 L249.1 116.9 L249.6 117.4 L250.1 116.9 L250.6 117.3 L251.1 117.6 L251.6 117 L252.1 116.6 L252.6 116.6 L253.1 118.2 L253.6 117.9 L254.1 118.7 L254.6 118.7 L255.1 117.5 L255.6 118.4 L256.1 116.6 L256.6 119.7 L257.1 118.8 L257.6 117.6 L258.1 116.8 L258.6 118.1 L259.1 116.2 L259.6 117.1 L260.1 118.4 L260.6 117.8 L261.1 117.3 L261.6 118.6 L262.1 116.9 L262.6 118 L263.1 117.3 L263.6 117 L264.1 118.1 L264.6 116.9 L265.1 119.4 L265.6 117.3 L266.1 119.4 L266.6 116.8 L267.1 118.3 L267.6 116.7 L268.1 116.6 L268.6 117.9 L269.1 118.3 L269.6 116.6 L270.1 118.7 L270.6 117 L271.1 117.8 L271.6 118 L272.1 118.2 L272.6 116.2 L273.1 119.1 L273.6 118.2 L274.1 117.4 L274.6 116.8 L275.1 116.3 L275.6 116.5 L276.1 118.2 L276.6 117.4 L277.1 116.7 L277.6 117.3 L278.1 119 L278.6 117.4 L279.1 117.2 L279.6 118.8 L280.1 118.1 L280.6 117.7 L281.1 117.2 L281.6 116.4 L282.1 116.7 L282.6 117.3 L283.1 117.5 L283.6 118 L284.1 118.1 L284.6 117.9 L285.1 117.9 L285.6 116.8 L286.1 115.8 L286.6 117.2 L287.1 116.9 L287.6 117.1 L288.1 117.4 L288.6 116.6 L289.1 116.7 L289.6 117.6 L290.1 117.8 L290.6 117.1 L291.1 118.1 L291.6 117.5 L292.1 116.8 L292.6 117.7 L293.1 119.2 L293.6 117.1 L294.1 118.6 L294.6 118.8 L295.1 118.9 L295.6 116.9 L296.1 119.3 L296.6 117.7 L297.1 117.4 L297.6 117.4 L298.1 118.1 L298.6 117.7 L299.1 117.5 L299.6 118.7 L300.1 117 L300.6 116.7 L301.1 118.3 L301.6 118.2 L302.1 118.5 L302.6 116.7 L303.1 118.5 L303.6 118 L304.1 119.1 L304.6 116.5 L305.1 117.8 L305.6 117.4 L306.1 116.2 L306.6 117 L307.1 118.6 L307.6 117.2 L308.1 117 L308.6 118.3 L309.1 118.4 L309.6 118.4 L310.1 116.9 L310.6 117.5 L311.1 118.5 L311.6 117 L312.1 116.9 L312.6 118.3 L313.1 118.9 L313.6 116.6 L314.1 115.4 L314.6 116.3 L315.1 116.7 L315.6 117.5 L316.1 118.1 L316.6 117.4 L317.1 117 L317.6 117.7 L318.1 116.7 L318.6 117.5 L319.1 117 L319.6 119.8 L320.1 118.3 L320.6 116.8 L321.1 116.7 L321.6 117.2 L322.1 116.2 L322.6 116.9 L323.1 116.9 L323.6 118.3 L324.1 117.2 L324.6 116.9 L325.1 116.4 L325.6 116.5 L326.1 117.5 L326.6 117.4 L327.1 118.5 L327.6 117 L328.1 118.4 L328.6 117.8 L329.1 117.5 L329.6 115.8 L330.1 116.4 L330.6 118.2 L331.1 118.7 L331.6 117.7 L332.1 118.2 L332.6 117.2 L333.1 117.2 L333.6 117 L334.1 118.4 L334.6 117.8 L335.1 117.3 L335.6 117.2 L336.1 118 L336.6 117.8 L337.1 116.8 L337.6 119 L338.1 117.7 L338.6 117.5 L339.1 118.8 L339.6 118.4 L340.1 117.4 L340.6 118 L341.1 116.6 L341.6 117 L342.1 115.6 L342.6 118.5" fill="none" stroke="#0a0a0a" stroke-width="1.05" stroke-linejoin="round" />
<path d="M216.6 125.6 L217.1 124.3 L217.6 124.1 L218.1 124.8 L218.6 125.2 L219.1 125.4 L219.6 126.4 L220.1 125.2 L220.6 125.6 L221.1 124.3 L221.6 125.4 L222.1 125 L222.6 124.4 L223.1 124.7 L223.6 124.7 L224.1 124.9 L224.6 125.1 L225.1 124.3 L225.6 124.1 L226.1 125.3 L226.6 123.2 L227.1 124.1 L227.6 126 L228.1 122.3 L228.6 124 L229.1 125.2 L229.6 123.2 L230.1 126.8 L230.6 122.4 L231.1 125.8 L231.6 125.9 L232.1 125.3 L232.6 124.3 L233.1 124.8 L233.6 123.7 L234.1 125.1 L234.6 123.5 L235.1 124.2 L235.6 125.3 L236.1 123.5 L236.6 124.1 L237.1 124.5 L237.6 123.2 L238.1 125.3 L238.6 124.6 L239.1 123 L239.6 124.3 L240.1 123.6 L240.6 123.7 L241.1 124.3 L241.6 123.7 L242.1 125.1 L242.6 123.6 L243.1 125.1 L243.6 124.2 L244.1 124.9 L244.6 123.7 L245.1 123.7 L245.6 123.2 L246.1 124.6 L246.6 124.9 L247.1 125.9 L247.6 125.2 L248.1 124.3 L248.6 123.9 L249.1 124.4 L249.6 124 L250.1 125.3 L250.6 124.8 L251.1 123.3 L251.6 123.4 L252.1 125.2 L252.6 124.2 L253.1 123.8 L253.6 125 L254.1 123.6 L254.6 123.7 L255.1 123.5 L255.6 122.2 L256.1 124.6 L256.6 122.9 L257.1 123.4 L257.6 123.2 L258.1 124.5 L258.6 123.8 L259.1 123.8 L259.6 122.4 L260.1 123.7 L260.6 122.5 L261.1 124 L261.6 124.1 L262.1 123.7 L262.6 125.5 L263.1 124.2 L263.6 124.2 L264.1 123.8 L264.6 123.5 L265.1 124.5 L265.6 124.6 L266.1 122.6 L266.6 124.6 L267.1 124.1 L267.6 124.5 L268.1 124 L268.6 122.6 L269.1 122.6 L269.6 125.2 L270.1 123.8 L270.6 122.4 L271.1 123.9 L271.6 123.3 L272.1 122 L272.6 121.6 L273.1 122.2 L273.6 123.8 L274.1 123.5 L274.6 123.3 L275.1 123.7 L275.6 124 L276.1 121.7 L276.6 123.2 L277.1 122.7 L277.6 122.4 L278.1 123 L278.6 123.3 L279.1 123.2 L279.6 122.2 L280.1 123 L280.6 125.1 L281.1 122.5 L281.6 121.9 L282.1 123.6 L282.6 123.9 L283.1 123.7 L283.6 122.4 L284.1 124.2 L284.6 122.6 L285.1 122.3 L285.6 122.8 L286.1 123.2 L286.6 123.9 L287.1 123.8 L287.6 123.2 L288.1 124 L288.6 123.3 L289.1 124 L289.6 122 L290.1 121.9 L290.6 123.9 L291.1 122 L291.6 122.9 L292.1 123.1 L292.6 122.8 L293.1 122.8 L293.6 124.3 L294.1 121 L294.6 123.9 L295.1 125.1 L295.6 123.1 L296.1 123.1 L296.6 123.7 L297.1 124.7 L297.6 122.1 L298.1 123.2 L298.6 122.9 L299.1 123.5 L299.6 123.2 L300.1 123.6 L300.6 122.7 L301.1 123.1 L301.6 122.5 L302.1 122.5 L302.6 122.9 L303.1 122.9 L303.6 122 L304.1 124.3 L304.6 122.9 L305.1 121.8 L305.6 123.9 L306.1 122.3 L306.6 123.4 L307.1 122.9 L307.6 123.2 L308.1 123.1 L308.6 122.4 L309.1 123 L309.6 124.6 L310.1 121 L310.6 123 L311.1 123.3 L311.6 122 L312.1 121.7 L312.6 124.7 L313.1 122.5 L313.6 124.6 L314.1 123.3 L314.6 122.9 L315.1 123.2 L315.6 123.4 L316.1 123.8 L316.6 123.2 L317.1 122.9 L317.6 123 L318.1 123.9 L318.6 123.5 L319.1 121.9 L319.6 122.2 L320.1 123 L320.6 122.2 L321.1 122.4 L321.6 121.9 L322.1 122.5 L322.6 123.1 L323.1 123.6 L323.6 122.7 L324.1 124.5 L324.6 122.6 L325.1 125.4 L325.6 123.6 L326.1 123.1 L326.6 122.3 L327.1 120.3 L327.6 122.5 L328.1 122.8 L328.6 124.3 L329.1 121.5 L329.6 124.3 L330.1 122.4 L330.6 123.3 L331.1 120.5 L331.6 122.7 L332.1 122.3 L332.6 123.2 L333.1 122.7 L333.6 121.6 L334.1 123.4 L334.6 123.2 L335.1 123.1 L335.6 123.4 L336.1 123.5 L336.6 122.6 L337.1 121.4 L337.6 121.4 L338.1 123.7 L338.6 123.2 L339.1 122.6 L339.6 122.2 L340.1 122.6 L340.6 122.5 L341.1 122.2 L341.6 121.9 L342.1 124.3 L342.6 122.7" fill="none" stroke="#0a0a0a" stroke-width="1.05" stroke-linejoin="round" />
<path d="M216.6 131.4 L217.1 131.8 L217.6 133 L218.1 133 L218.6 132.2 L219.1 132.4 L219.6 132 L220.1 131.3 L220.6 133.3 L221.1 132.5 L221.6 134.2 L222.1 131.4 L222.6 131.9 L223.1 132.8 L223.6 131.8 L224.1 130.8 L224.6 131.1 L225.1 132 L225.6 132.1 L226.1 131.7 L226.6 132.6 L227.1 132.6 L227.6 132 L228.1 131.7 L228.6 131.4 L229.1 132.1 L229.6 132.3 L230.1 131.6 L230.6 131.9 L231.1 131.2 L231.6 130.2 L232.1 130.5 L232.6 132 L233.1 131.7 L233.6 132.7 L234.1 131.3 L234.6 132 L235.1 132.3 L235.6 132 L236.1 130.6 L236.6 131 L237.1 131.2 L237.6 130.2 L238.1 131.4 L238.6 131.9 L239.1 130.5 L239.6 132.6 L240.1 130.6 L240.6 130.7 L241.1 130.6 L241.6 130.2 L242.1 131.1 L242.6 130.8 L243.1 132.1 L243.6 131.2 L244.1 131.1 L244.6 130.4 L245.1 129.4 L245.6 130.5 L246.1 129.8 L246.6 131.3 L247.1 130.5 L247.6 131.9 L248.1 131.1 L248.6 131.1 L249.1 130.6 L249.6 130.5 L250.1 130.9 L250.6 131.1 L251.1 129.7 L251.6 130.7 L252.1 132.4 L252.6 130.1 L253.1 129.9 L253.6 129.5 L254.1 128.9 L254.6 131.1 L255.1 130.1 L255.6 130.3 L256.1 131.6 L256.6 132.1 L257.1 129.2 L257.6 130.8 L258.1 130.4 L258.6 130.2 L259.1 130.3 L259.6 129.8 L260.1 131.1 L260.6 130.3 L261.1 130 L261.6 130.8 L262.1 130.5 L262.6 130.1 L263.1 129.9 L263.6 131.1 L264.1 130 L264.6 129.5 L265.1 128.8 L265.6 129.2 L266.1 128.6 L266.6 129.6 L267.1 129.7 L267.6 127.7 L268.1 129.4 L268.6 129.9 L269.1 129.5 L269.6 128.5 L270.1 130.4 L270.6 128.7 L271.1 128.2 L271.6 128.3 L272.1 129.2 L272.6 130.1 L273.1 130.2 L273.6 129.3 L274.1 128.1 L274.6 128.6 L275.1 128.3 L275.6 128.9 L276.1 127.6 L276.6 129.1 L277.1 129.6 L277.6 128.9 L278.1 129.4 L278.6 128.2 L279.1 127.7 L279.6 128.4 L280.1 129.9 L280.6 129.8 L281.1 128.5 L281.6 129.9 L282.1 128.5 L282.6 130.1 L283.1 129.2 L283.6 128.4 L284.1 129.4 L284.6 128.1 L285.1 127.9 L285.6 127.4 L286.1 128.9 L286.6 128.6 L287.1 128.6 L287.6 128.3 L288.1 129.8 L288.6 128.2 L289.1 127.9 L289.6 129.6 L290.1 129.7 L290.6 128.8 L291.1 127 L291.6 127.9 L292.1 129 L292.6 128.4 L293.1 129.7 L293.6 127.2 L294.1 128.9 L294.6 127.8 L295.1 129.5 L295.6 128.2 L296.1 129.2 L296.6 127.7 L297.1 127.1 L297.6 127.3 L298.1 127.7 L298.6 127.3 L299.1 129.2 L299.6 129.3 L300.1 128.4 L300.6 127.3 L301.1 128 L301.6 127.5 L302.1 129.3 L302.6 128.3 L303.1 128.5 L303.6 127.7 L304.1 126.3 L304.6 127.4 L305.1 127 L305.6 128.3 L306.1 128 L306.6 127.3 L307.1 127.6 L307.6 129.3 L308.1 127.1 L308.6 127.1 L309.1 127.7 L309.6 127.3 L310.1 127.5 L310.6 128.3 L311.1 129.3 L311.6 126.3 L312.1 127.8 L312.6 127.8 L313.1 127.7 L313.6 127.6 L314.1 127.4 L314.6 128.6 L315.1 127.3 L315.6 127.6 L316.1 127.7 L316.6 127.7 L317.1 127.5 L317.6 128.5 L318.1 127.6 L318.6 127.7 L319.1 127.5 L319.6 126.7 L320.1 126.9 L320.6 126.7 L321.1 127.7 L321.6 126.9 L322.1 126.6 L322.6 127.7 L323.1 127.9 L323.6 126 L324.1 128.9 L324.6 127.5 L325.1 127.3 L325.6 128.3 L326.1 127.5 L326.6 126.9 L327.1 129.2 L327.6 126.4 L328.1 127.3 L328.6 128.1 L329.1 126.4 L329.6 127.2 L330.1 127.6 L330.6 129.3 L331.1 126.5 L331.6 127.2 L332.1 127.8 L332.6 127.3 L333.1 126.2 L333.6 127.6 L334.1 127.3 L334.6 127.6 L335.1 128.1 L335.6 128 L336.1 127.5 L336.6 127.4 L337.1 126.2 L337.6 127 L338.1 127.3 L338.6 126.8 L339.1 127.2 L339.6 126.4 L340.1 128.4 L340.6 128.9 L341.1 126.7 L341.6 127.4 L342.1 126.8 L342.6 128.1" fill="none" stroke="#0a0a0a" stroke-width="1.05" stroke-linejoin="round" />
<path d="M216.6 140.1 L217.1 139.7 L217.6 140 L218.1 139 L218.6 140.3 L219.1 139.1 L219.6 140.1 L220.1 139.7 L220.6 140.4 L221.1 139.4 L221.6 140.2 L222.1 138.5 L222.6 139.7 L223.1 139 L223.6 139.3 L224.1 139.1 L224.6 139.8 L225.1 137.2 L225.6 139.1 L226.1 137.5 L226.6 139.8 L227.1 137 L227.6 137.8 L228.1 137.1 L228.6 139.9 L229.1 137.4 L229.6 138.5 L230.1 137.9 L230.6 136.8 L231.1 137.9 L231.6 138.7 L232.1 138 L232.6 138.9 L233.1 137.7 L233.6 138 L234.1 137.6 L234.6 138.1 L235.1 139.4 L235.6 138 L236.1 137.8 L236.6 137.1 L237.1 136.9 L237.6 138.8 L238.1 136.5 L238.6 136.6 L239.1 137.3 L239.6 136.9 L240.1 138.9 L240.6 135.2 L241.1 137.5 L241.6 137.7 L242.1 136.1 L242.6 136.5 L243.1 137.3 L243.6 138.3 L244.1 136.1 L244.6 135.5 L245.1 137.6 L245.6 138 L246.1 136.4 L246.6 134.7 L247.1 137.8 L247.6 136.4 L248.1 137.4 L248.6 136.4 L249.1 136.1 L249.6 136 L250.1 137.5 L250.6 137.5 L251.1 134.4 L251.6 135.4 L252.1 137.6 L252.6 135.8 L253.1 134.9 L253.6 136 L254.1 135.8 L254.6 135.8 L255.1 135.4 L255.6 135.5 L256.1 135.4 L256.6 136 L257.1 135 L257.6 135.4 L258.1 135.5 L258.6 136.7 L259.1 135.8 L259.6 135.4 L260.1 135.9 L260.6 135.7 L261.1 136.3 L261.6 135.7 L262.1 136.8 L262.6 136.4 L263.1 135.2 L263.6 134.8 L264.1 135.9 L264.6 135.5 L265.1 135 L265.6 133.7 L266.1 133.4 L266.6 135.2 L267.1 135.5 L267.6 135.5 L268.1 133.7 L268.6 135.6 L269.1 134.3 L269.6 135 L270.1 135 L270.6 133.9 L271.1 134.1 L271.6 132.8 L272.1 133.7 L272.6 132.9 L273.1 134.8 L273.6 134.5 L274.1 135.1 L274.6 134.6 L275.1 133.8 L275.6 134.6 L276.1 133.9 L276.6 134.7 L277.1 134.4 L277.6 133.3 L278.1 134.1 L278.6 134.1 L279.1 133.8 L279.6 134.8 L280.1 135.4 L280.6 133.6 L281.1 133.6 L281.6 132 L282.1 133.7 L282.6 133.4 L283.1 131.9 L283.6 134 L284.1 134.2 L284.6 133.1 L285.1 133.3 L285.6 132.8 L286.1 134.2 L286.6 132.3 L287.1 133.3 L287.6 135.1 L288.1 133.5 L288.6 133.8 L289.1 133.3 L289.6 132.4 L290.1 133.3 L290.6 133.7 L291.1 132.4 L291.6 133.5 L292.1 134.3 L292.6 134.1 L293.1 131.8 L293.6 132.3 L294.1 131.7 L294.6 134 L295.1 133.6 L295.6 133.6 L296.1 132.3 L296.6 132 L297.1 133 L297.6 133 L298.1 132.2 L298.6 133 L299.1 133.4 L299.6 133 L300.1 131.9 L300.6 131 L301.1 132.5 L301.6 132.9 L302.1 132.5 L302.6 132.3 L303.1 132 L303.6 133.2 L304.1 132.5 L304.6 132.7 L305.1 131.7 L305.6 132 L306.1 132.6 L306.6 131.6 L307.1 131.4 L307.6 132.1 L308.1 133.4 L308.6 132.5 L309.1 133.6 L309.6 132.2 L310.1 132 L310.6 131.1 L311.1 131.8 L311.6 133.4 L312.1 132.5 L312.6 132.8 L313.1 132.8 L313.6 132.1 L314.1 131.9 L314.6 132.2 L315.1 132.6 L315.6 132.4 L316.1 132.4 L316.6 132.1 L317.1 131.3 L317.6 131.7 L318.1 131.1 L318.6 132.8 L319.1 130.1 L319.6 131.7 L320.1 133.9 L320.6 131.5 L321.1 130.8 L321.6 131.8 L322.1 132.9 L322.6 131.6 L323.1 132.2 L323.6 131.8 L324.1 131.4 L324.6 134.3 L325.1 131.7 L325.6 131.2 L326.1 131.2 L326.6 131.9 L327.1 131.9 L327.6 132.2 L328.1 131.6 L328.6 130.3 L329.1 131.9 L329.6 131.2 L330.1 131.2 L330.6 130.2 L331.1 130.9 L331.6 130.8 L332.1 131.3 L332.6 130.1 L333.1 131.4 L333.6 131.4 L334.1 130.4 L334.6 130.8 L335.1 130.5 L335.6 132 L336.1 129.1 L336.6 130.9 L337.1 129.8 L337.6 130.8 L338.1 131.9 L338.6 130.6 L339.1 131.2 L339.6 130.4 L340.1 132.7 L340.6 131.9 L341.1 132 L341.6 129.9 L342.1 130.1 L342.6 131.9" fill="none" stroke="#0a0a0a" stroke-width="1.05" stroke-linejoin="round" />
<path d="M216.6 148.8 L217.1 149.2 L217.6 147.7 L218.1 149.3 L218.6 148.6 L219.1 148.8 L219.6 147.7 L220.1 148.6 L220.6 147.5 L221.1 148.8 L221.6 148.8 L222.1 148.5 L222.6 148.1 L223.1 148.1 L223.6 145.1 L224.1 148 L224.6 147 L225.1 147.2 L225.6 146.8 L226.1 145.7 L226.6 146.3 L227.1 147.3 L227.6 147.8 L228.1 146 L228.6 145.6 L229.1 147.5 L229.6 145.4 L230.1 147.9 L230.6 146 L231.1 145.1 L231.6 146.6 L232.1 147.1 L232.6 144.4 L233.1 146.8 L233.6 145.2 L234.1 146.6 L234.6 144.9 L235.1 143.8 L235.6 145.5 L236.1 145.7 L236.6 146.6 L237.1 146.2 L237.6 145.3 L238.1 144.4 L238.6 144.1 L239.1 144.2 L239.6 143.6 L240.1 144 L240.6 142 L241.1 144.2 L241.6 144 L242.1 146.1 L242.6 144.5 L243.1 143.3 L243.6 144.1 L244.1 142.5 L244.6 143 L245.1 141.8 L245.6 144.6 L246.1 143.8 L246.6 142.2 L247.1 143 L247.6 143.8 L248.1 143.4 L248.6 143.2 L249.1 142.1 L249.6 142.2 L250.1 142.7 L250.6 143.3 L251.1 141.8 L251.6 141.5 L252.1 143.3 L252.6 141.5 L253.1 143.1 L253.6 142.3 L254.1 142.8 L254.6 143.5 L255.1 142.5 L255.6 142.5 L256.1 141 L256.6 141.1 L257.1 142.2 L257.6 142.9 L258.1 142.7 L258.6 143.4 L259.1 141.6 L259.6 141.5 L260.1 142.1 L260.6 141.2 L261.1 141 L261.6 140.1 L262.1 141.8 L262.6 140 L263.1 141.3 L263.6 139.6 L264.1 141.6 L264.6 139.8 L265.1 141.3 L265.6 139.2 L266.1 140.1 L266.6 141.4 L267.1 139.7 L267.6 140.3 L268.1 139.8 L268.6 138.2 L269.1 140.4 L269.6 140.4 L270.1 139 L270.6 140.4 L271.1 139.2 L271.6 139 L272.1 139.8 L272.6 139.1 L273.1 141.6 L273.6 138.3 L274.1 140.2 L274.6 140.3 L275.1 137.7 L275.6 137.9 L276.1 139.8 L276.6 138.9 L277.1 139.5 L277.6 140.1 L278.1 138.8 L278.6 138.2 L279.1 136.7 L279.6 139.1 L280.1 138.1 L280.6 139.1 L281.1 139 L281.6 137.6 L282.1 140.2 L282.6 139.6 L283.1 139.3 L283.6 137.6 L284.1 138.2 L284.6 138 L285.1 138.1 L285.6 137.4 L286.1 138.7 L286.6 138.5 L287.1 138.5 L287.6 137.8 L288.1 139.2 L288.6 138.3 L289.1 135.7 L289.6 137.5 L290.1 137.9 L290.6 138.7 L291.1 137.6 L291.6 137.6 L292.1 137.2 L292.6 138.3 L293.1 137.3 L293.6 137.1 L294.1 137 L294.6 138 L295.1 137.1 L295.6 136.1 L296.1 138 L296.6 136.8 L297.1 137.7 L297.6 137.6 L298.1 138.3 L298.6 138.1 L299.1 136.7 L299.6 137 L300.1 136 L300.6 138.5 L301.1 137.4 L301.6 138.2 L302.1 136.7 L302.6 135.2 L303.1 138.2 L303.6 136.9 L304.1 136.9 L304.6 136.8 L305.1 137.3 L305.6 137.2 L306.1 135.3 L306.6 137.6 L307.1 136.2 L307.6 136.2 L308.1 138 L308.6 137.3 L309.1 136.2 L309.6 134.9 L310.1 136.5 L310.6 136.8 L311.1 136.3 L311.6 135.2 L312.1 135.6 L312.6 135.2 L313.1 136.4 L313.6 136.9 L314.1 137 L314.6 135.5 L315.1 136.3 L315.6 136.5 L316.1 135.6 L316.6 135.9 L317.1 137.8 L317.6 136.1 L318.1 136.6 L318.6 135.5 L319.1 135.9 L319.6 134.3 L320.1 135.7 L320.6 136.8 L321.1 137.5 L321.6 136.7 L322.1 136.2 L322.6 135.7 L323.1 135.1 L323.6 135.4 L324.1 136.1 L324.6 134.8 L325.1 136.3 L325.6 134.6 L326.1 133.9 L326.6 134.5 L327.1 134 L327.6 134.2 L328.1 136.3 L328.6 135.1 L329.1 135.5 L329.6 136.2 L330.1 136.3 L330.6 134.8 L331.1 136.3 L331.6 135.5 L332.1 135.1 L332.6 135.5 L333.1 133.9 L333.6 134.4 L334.1 134.9 L334.6 135.5 L335.1 134.6 L335.6 134.8 L336.1 135.7 L336.6 136.1 L337.1 135.5 L337.6 135.9 L338.1 134.5 L338.6 134.5 L339.1 135 L339.6 134.5 L340.1 134.3 L340.6 136.1 L341.1 134.5 L341.6 133.8 L342.1 135.1 L342.6 136.2" fill="none" stroke="#0a0a0a" stroke-width="0.9" stroke-linejoin="round" />
<path d="M216.6 158.7 L217.1 157.1 L217.6 156.9 L218.1 156.6 L218.6 156.9 L219.1 158.4 L219.6 155.7 L220.1 157.9 L220.6 155.5 L221.1 155.9 L221.6 156.7 L222.1 156.4 L222.6 155.9 L223.1 154.1 L223.6 155.6 L224.1 154.3 L224.6 157.2 L225.1 154.7 L225.6 154.9 L226.1 153.6 L226.6 154 L227.1 153.1 L227.6 154.9 L228.1 153.7 L228.6 154.3 L229.1 153.1 L229.6 153.1 L230.1 154.4 L230.6 152.4 L231.1 151.5 L231.6 153.3 L232.1 151.8 L232.6 152.3 L233.1 153.3 L233.6 151.7 L234.1 153 L234.6 151.5 L235.1 153.2 L235.6 152.9 L236.1 151.3 L236.6 151.4 L237.1 150.7 L237.6 151.5 L238.1 152.1 L238.6 149.8 L239.1 151.7 L239.6 149.7 L240.1 149.9 L240.6 149 L241.1 152.2 L241.6 150.3 L242.1 150.4 L242.6 149.5 L243.1 150.8 L243.6 148 L244.1 149.7 L244.6 151.4 L245.1 149.1 L245.6 149.4 L246.1 149.8 L246.6 148.4 L247.1 149 L247.6 149.7 L248.1 148.9 L248.6 149 L249.1 148.3 L249.6 148.7 L250.1 148.4 L250.6 149.5 L251.1 148.8 L251.6 147.8 L252.1 145.8 L252.6 148.4 L253.1 148.4 L253.6 146.8 L254.1 145.8 L254.6 146.4 L255.1 148.1 L255.6 146.3 L256.1 146.7 L256.6 147.2 L257.1 148 L257.6 146.8 L258.1 146.7 L258.6 146.2 L259.1 147.9 L259.6 147.4 L260.1 146.3 L260.6 145.1 L261.1 145.5 L261.6 146.6 L262.1 145.4 L262.6 146.7 L263.1 146.1 L263.6 146 L264.1 146.2 L264.6 146 L265.1 144.8 L265.6 145.1 L266.1 147.3 L266.6 144.2 L267.1 144.8 L267.6 146 L268.1 144.9 L268.6 144.2 L269.1 143.7 L269.6 145.2 L270.1 145.5 L270.6 145.8 L271.1 144.6 L271.6 145.3 L272.1 143.5 L272.6 144.4 L273.1 143.6 L273.6 144.3 L274.1 144.7 L274.6 144.9 L275.1 143.1 L275.6 144.9 L276.1 143.4 L276.6 142.8 L277.1 143.5 L277.6 142.3 L278.1 143.5 L278.6 143.7 L279.1 143.2 L279.6 143.7 L280.1 143 L280.6 143.2 L281.1 141.9 L281.6 143.1 L282.1 142.2 L282.6 142.5 L283.1 142.7 L283.6 142.9 L284.1 141.3 L284.6 141.3 L285.1 142.3 L285.6 142.9 L286.1 142.8 L286.6 143.1 L287.1 143.4 L287.6 142.7 L288.1 142.2 L288.6 141.3 L289.1 141.3 L289.6 141.6 L290.1 142.2 L290.6 142.1 L291.1 141.9 L291.6 141.7 L292.1 142.3 L292.6 141.9 L293.1 141.9 L293.6 141.8 L294.1 141.1 L294.6 140.6 L295.1 141.8 L295.6 141.7 L296.1 141.1 L296.6 140.9 L297.1 143.1 L297.6 140.5 L298.1 140.9 L298.6 141.3 L299.1 140 L299.6 141.1 L300.1 142.4 L300.6 141.6 L301.1 141.3 L301.6 141.3 L302.1 140.8 L302.6 141.5 L303.1 140.5 L303.6 140.2 L304.1 140.6 L304.6 141.2 L305.1 140.7 L305.6 141 L306.1 138.6 L306.6 141.3 L307.1 142.2 L307.6 141.3 L308.1 139.9 L308.6 139.4 L309.1 140.3 L309.6 139.2 L310.1 140.6 L310.6 139.5 L311.1 140.7 L311.6 141 L312.1 138.1 L312.6 140 L313.1 139.1 L313.6 138.5 L314.1 139.1 L314.6 139.4 L315.1 140.5 L315.6 138.2 L316.1 140.4 L316.6 141.2 L317.1 139.9 L317.6 139.9 L318.1 139.3 L318.6 138.3 L319.1 139.7 L319.6 139.6 L320.1 139.8 L320.6 141.4 L321.1 139.7 L321.6 139.5 L322.1 140.4 L322.6 137.9 L323.1 138 L323.6 138.6 L324.1 138.4 L324.6 139.5 L325.1 138.6 L325.6 140.3 L326.1 140.1 L326.6 139.4 L327.1 138.4 L327.6 139.2 L328.1 139.3 L328.6 137.7 L329.1 138.9 L329.6 139.2 L330.1 138.7 L330.6 139.8 L331.1 139.5 L331.6 137.7 L332.1 138.5 L332.6 137.7 L333.1 138.8 L333.6 137.6 L334.1 139.1 L334.6 138.6 L335.1 139.1 L335.6 138.1 L336.1 136.9 L336.6 139.6 L337.1 138 L337.6 139.3 L338.1 138.4 L338.6 138.6 L339.1 139.6 L339.6 138.3 L340.1 139.1 L340.6 136.7 L341.1 138.6 L341.6 137.7 L342.1 137.7 L342.6 137.8" fill="none" stroke="#0a0a0a" stroke-width="0.9" stroke-linejoin="round" />
<path d="M216.6 167.8 L217.1 164.6 L217.6 165.9 L218.1 165 L218.6 166.4 L219.1 164.8 L219.6 165.3 L220.1 164.3 L220.6 164.9 L221.1 165 L221.6 163.5 L222.1 163.7 L222.6 162.2 L223.1 163.4 L223.6 163.7 L224.1 162.2 L224.6 163.4 L225.1 160.5 L225.6 160.4 L226.1 160.6 L226.6 161.2 L227.1 161.4 L227.6 161.1 L228.1 160.9 L228.6 161.3 L229.1 160.1 L229.6 159.2 L230.1 159 L230.6 161.7 L231.1 157.7 L231.6 159.3 L232.1 160.5 L232.6 159.5 L233.1 158.2 L233.6 158.7 L234.1 159.2 L234.6 159.3 L235.1 157.3 L235.6 158.6 L236.1 157.9 L236.6 158.5 L237.1 158.5 L237.6 156.9 L238.1 155.8 L238.6 157.2 L239.1 158.2 L239.6 157.1 L240.1 156.5 L240.6 158.2 L241.1 155.1 L241.6 156.6 L242.1 155.1 L242.6 155.5 L243.1 155.4 L243.6 156.4 L244.1 154.2 L244.6 154.3 L245.1 153.3 L245.6 154.9 L246.1 153.9 L246.6 154.5 L247.1 153.1 L247.6 153.6 L248.1 154.6 L248.6 153.4 L249.1 153.9 L249.6 153.7 L250.1 152.8 L250.6 151.7 L251.1 153.7 L251.6 152.8 L252.1 153.4 L252.6 150.7 L253.1 150.9 L253.6 150.3 L254.1 151.3 L254.6 152.8 L255.1 152.2 L255.6 151.6 L256.1 151.6 L256.6 152 L257.1 151 L257.6 151.4 L258.1 151.1 L258.6 149 L259.1 150.4 L259.6 151.8 L260.1 150.1 L260.6 150.2 L261.1 149.7 L261.6 149.7 L262.1 151 L262.6 149.7 L263.1 148.9 L263.6 147 L264.1 149.1 L264.6 147.8 L265.1 147.8 L265.6 149.9 L266.1 149.7 L266.6 147.4 L267.1 149.6 L267.6 149.2 L268.1 148 L268.6 149.2 L269.1 147.1 L269.6 147.3 L270.1 147 L270.6 147.2 L271.1 148.8 L271.6 146.8 L272.1 146.9 L272.6 147 L273.1 147.8 L273.6 147.3 L274.1 148.2 L274.6 146.8 L275.1 146.2 L275.6 146.8 L276.1 147.1 L276.6 146.2 L277.1 147.2 L277.6 148.4 L278.1 146.2 L278.6 146.7 L279.1 147.7 L279.6 145.9 L280.1 145.7 L280.6 145.4 L281.1 146.6 L281.6 146.6 L282.1 145.9 L282.6 146 L283.1 147 L283.6 146.5 L284.1 144.5 L284.6 145.6 L285.1 145.7 L285.6 146.1 L286.1 145.2 L286.6 144.8 L287.1 144.9 L287.6 143.7 L288.1 145.1 L288.6 144.5 L289.1 145.4 L289.6 144 L290.1 144.5 L290.6 143.9 L291.1 143.8 L291.6 145.2 L292.1 144.1 L292.6 144.9 L293.1 143.5 L293.6 144.4 L294.1 142.8 L294.6 143.8 L295.1 143.7 L295.6 144.6 L296.1 144.2 L296.6 143.8 L297.1 144.6 L297.6 144 L298.1 144.2 L298.6 144.3 L299.1 143.6 L299.6 143.3 L300.1 143.8 L300.6 143.1 L301.1 143.7 L301.6 144.3 L302.1 144 L302.6 142.9 L303.1 142.1 L303.6 143.1 L304.1 142.9 L304.6 143.9 L305.1 142.6 L305.6 142.7 L306.1 143.5 L306.6 142.4 L307.1 142.6 L307.6 144.1 L308.1 143.9 L308.6 143.1 L309.1 142.8 L309.6 141.7 L310.1 142.9 L310.6 142.4 L311.1 142.5 L311.6 141.8 L312.1 142.2 L312.6 142 L313.1 142.4 L313.6 143.3 L314.1 142.4 L314.6 140.6 L315.1 141.1 L315.6 140.6 L316.1 141.2 L316.6 142.3 L317.1 142.1 L317.6 141.2 L318.1 141.9 L318.6 141 L319.1 140.4 L319.6 140.4 L320.1 140.8 L320.6 142.7 L321.1 140.3 L321.6 142.4 L322.1 142.5 L322.6 141.2 L323.1 141.2 L323.6 140.7 L324.1 141.2 L324.6 141.7 L325.1 141.1 L325.6 141.9 L326.1 142.1 L326.6 141.3 L327.1 141.2 L327.6 140.9 L328.1 141.2 L328.6 139.9 L329.1 141.2 L329.6 141 L330.1 140 L330.6 142.5 L331.1 139.9 L331.6 139.9 L332.1 140.9 L332.6 138.9 L333.1 139.9 L333.6 139.2 L334.1 139.7 L334.6 140.3 L335.1 140.7 L335.6 141.3 L336.1 141 L336.6 141.3 L337.1 140.8 L337.6 139.9 L338.1 141.2 L338.6 139.8 L339.1 139.7 L339.6 141.4 L340.1 140.8 L340.6 140.3 L341.1 140.7 L341.6 140.8 L342.1 138.8 L342.6 139.9" fill="none" stroke="#0a0a0a" stroke-width="0.9" stroke-linejoin="round" />
<path d="M216.6 175.1 L217.1 174 L217.6 175.4 L218.1 174.3 L218.6 172.8 L219.1 173.2 L219.6 171.8 L220.1 172.5 L220.6 172.6 L221.1 172 L221.6 169.8 L222.1 170.9 L222.6 171.3 L223.1 170.8 L223.6 171.2 L224.1 168.8 L224.6 170 L225.1 168.7 L225.6 169.1 L226.1 169 L226.6 168.9 L227.1 167.6 L227.6 167.9 L228.1 166.5 L228.6 166 L229.1 167.4 L229.6 166.6 L230.1 165 L230.6 165.3 L231.1 165.8 L231.6 166.8 L232.1 166.1 L232.6 165.7 L233.1 163.2 L233.6 164.4 L234.1 164.6 L234.6 164.3 L235.1 164 L235.6 163.2 L236.1 164.7 L236.6 164.2 L237.1 162.6 L237.6 161.6 L238.1 164 L238.6 161.5 L239.1 162.8 L239.6 163.1 L240.1 160.5 L240.6 161.3 L241.1 160.6 L241.6 161.1 L242.1 160.7 L242.6 161.8 L243.1 160.5 L243.6 159.8 L244.1 160.5 L244.6 159.1 L245.1 158.8 L245.6 160.8 L246.1 158 L246.6 158.1 L247.1 158.4 L247.6 157.2 L248.1 156.1 L248.6 158.6 L249.1 156.9 L249.6 156.9 L250.1 156.9 L250.6 156.2 L251.1 155.9 L251.6 156.8 L252.1 158.5 L252.6 156.9 L253.1 156.7 L253.6 154.6 L254.1 155.7 L254.6 154.6 L255.1 156.1 L255.6 155 L256.1 155.1 L256.6 154.8 L257.1 154.2 L257.6 153.3 L258.1 154.9 L258.6 153.1 L259.1 153.1 L259.6 153.7 L260.1 153.2 L260.6 153.9 L261.1 154.4 L261.6 153.6 L262.1 153.4 L262.6 153.1 L263.1 153.6 L263.6 151.2 L264.1 152.9 L264.6 151.7 L265.1 151.3 L265.6 152.2 L266.1 151.7 L266.6 152.4 L267.1 152.7 L267.6 149.7 L268.1 151.5 L268.6 153.1 L269.1 152 L269.6 152.4 L270.1 151.1 L270.6 149.7 L271.1 149.8 L271.6 151.3 L272.1 151.4 L272.6 149.8 L273.1 150.1 L273.6 150.4 L274.1 148.6 L274.6 149.7 L275.1 151.2 L275.6 151.6 L276.1 149.5 L276.6 151.1 L277.1 149 L277.6 148.6 L278.1 147.3 L278.6 149.9 L279.1 148.7 L279.6 150.9 L280.1 149.1 L280.6 148.8 L281.1 147 L281.6 149.7 L282.1 148.1 L282.6 148.1 L283.1 146.3 L283.6 148.9 L284.1 148.8 L284.6 147.4 L285.1 147.9 L285.6 148 L286.1 148.4 L286.6 147.6 L287.1 148.9 L287.6 147.1 L288.1 146.7 L288.6 146.8 L289.1 144.9 L289.6 146.3 L290.1 147.8 L290.6 147.1 L291.1 146.1 L291.6 147 L292.1 144.9 L292.6 146.3 L293.1 146.9 L293.6 146.9 L294.1 145.6 L294.6 147 L295.1 147.7 L295.6 145.7 L296.1 146.6 L296.6 144.6 L297.1 144.2 L297.6 146.3 L298.1 145.7 L298.6 145.8 L299.1 145 L299.6 145.2 L300.1 146.1 L300.6 146.8 L301.1 145.1 L301.6 143.8 L302.1 146.2 L302.6 145.6 L303.1 145.6 L303.6 145.1 L304.1 146.9 L304.6 144.9 L305.1 145.2 L305.6 143.1 L306.1 144.1 L306.6 144 L307.1 144.5 L307.6 144.7 L308.1 143.8 L308.6 145.8 L309.1 143.4 L309.6 143.8 L310.1 144.4 L310.6 143 L311.1 144.5 L311.6 144.5 L312.1 143.7 L312.6 145.5 L313.1 143.9 L313.6 144 L314.1 142.9 L314.6 142.3 L315.1 143.1 L315.6 143.3 L316.1 143.1 L316.6 144.1 L317.1 141.4 L317.6 142.4 L318.1 141.8 L318.6 144.4 L319.1 142.8 L319.6 142.8 L320.1 142.2 L320.6 143.9 L321.1 142.7 L321.6 143.2 L322.1 141.2 L322.6 143.9 L323.1 143.2 L323.6 143.3 L324.1 143.8 L324.6 142.6 L325.1 142.6 L325.6 143.3 L326.1 143 L326.6 142.4 L327.1 142.6 L327.6 142.1 L328.1 143.1 L328.6 143.2 L329.1 142.4 L329.6 144 L330.1 141 L330.6 142.1 L331.1 143.7 L331.6 141.8 L332.1 140.8 L332.6 143.3 L333.1 142.6 L333.6 141 L334.1 142.7 L334.6 141.1 L335.1 140.8 L335.6 141.8 L336.1 141.5 L336.6 140.9 L337.1 141.5 L337.6 140.9 L338.1 141.8 L338.6 141.7 L339.1 142.3 L339.6 141.3 L340.1 140.5 L340.6 140.5 L341.1 141.4 L341.6 142.9 L342.1 142.2 L342.6 140.9" fill="none" stroke="#0a0a0a" stroke-width="0.9" stroke-linejoin="round" />
<path d="M216.6 183 L217.1 184.3 L217.6 182.7 L218.1 183.2 L218.6 182.6 L219.1 181.4 L219.6 181.4 L220.1 179.8 L220.6 180.2 L221.1 180.8 L221.6 182.9 L222.1 179.6 L222.6 178.6 L223.1 177.3 L223.6 178.6 L224.1 175.9 L224.6 176.2 L225.1 176.8 L225.6 175.1 L226.1 177 L226.6 176.2 L227.1 174.4 L227.6 174.1 L228.1 173 L228.6 172.6 L229.1 173.8 L229.6 173.6 L230.1 173 L230.6 172.6 L231.1 171.5 L231.6 171.9 L232.1 170 L232.6 170.9 L233.1 171.9 L233.6 171.4 L234.1 169.5 L234.6 169.3 L235.1 170.5 L235.6 170.5 L236.1 167.4 L236.6 168 L237.1 168.2 L237.6 168.7 L238.1 166.7 L238.6 167.7 L239.1 166.6 L239.6 168.5 L240.1 166.6 L240.6 165.8 L241.1 165.4 L241.6 166.3 L242.1 165.7 L242.6 163.9 L243.1 164.7 L243.6 163.1 L244.1 163.4 L244.6 162.6 L245.1 162.4 L245.6 162.6 L246.1 162.1 L246.6 163.2 L247.1 163.1 L247.6 162 L248.1 161 L248.6 162.4 L249.1 159.8 L249.6 159.6 L250.1 161.6 L250.6 161.4 L251.1 161.4 L251.6 160.2 L252.1 159 L252.6 159.5 L253.1 160.2 L253.6 158.8 L254.1 158.6 L254.6 157.8 L255.1 157.8 L255.6 159.3 L256.1 158.8 L256.6 157.2 L257.1 157.1 L257.6 157.3 L258.1 158.1 L258.6 156.4 L259.1 157.1 L259.6 155.2 L260.1 155.8 L260.6 157 L261.1 157.2 L261.6 155.3 L262.1 155.5 L262.6 156.6 L263.1 155.4 L263.6 155.1 L264.1 155.9 L264.6 155.4 L265.1 156 L265.6 155.6 L266.1 154.2 L266.6 154.5 L267.1 154.4 L267.6 153.1 L268.1 153.3 L268.6 154.8 L269.1 152.4 L269.6 154.5 L270.1 153.7 L270.6 153.2 L271.1 153.6 L271.6 153.4 L272.1 153.9 L272.6 152.4 L273.1 152.4 L273.6 152.3 L274.1 153.9 L274.6 153 L275.1 151.3 L275.6 151.6 L276.1 151.2 L276.6 151.7 L277.1 151.7 L277.6 153.4 L278.1 149.7 L278.6 152 L279.1 151.4 L279.6 150.3 L280.1 150.6 L280.6 150.2 L281.1 150.6 L281.6 151.3 L282.1 149 L282.6 151.3 L283.1 149.8 L283.6 151.2 L284.1 150.2 L284.6 150.8 L285.1 150.1 L285.6 150.4 L286.1 149.5 L286.6 148.6 L287.1 149.8 L287.6 149.7 L288.1 150.8 L288.6 147.2 L289.1 148.6 L289.6 149.6 L290.1 147.5 L290.6 148.3 L291.1 150.2 L291.6 149.5 L292.1 147.5 L292.6 149.3 L293.1 149 L293.6 148.6 L294.1 148.2 L294.6 148 L295.1 146.9 L295.6 147.2 L296.1 148.1 L296.6 147.5 L297.1 148.9 L297.6 147 L298.1 145.1 L298.6 146.8 L299.1 147.2 L299.6 147.3 L300.1 146.9 L300.6 146.1 L301.1 148 L301.6 146.1 L302.1 147.2 L302.6 146.2 L303.1 145.4 L303.6 147.5 L304.1 144.1 L304.6 145.5 L305.1 146.5 L305.6 145.7 L306.1 146.6 L306.6 145.8 L307.1 145.5 L307.6 147.6 L308.1 145.5 L308.6 145.5 L309.1 144.7 L309.6 144.9 L310.1 146 L310.6 145.9 L311.1 145.3 L311.6 144.7 L312.1 145.8 L312.6 143.7 L313.1 144.8 L313.6 144.8 L314.1 144.2 L314.6 145 L315.1 144.3 L315.6 144.1 L316.1 146.3 L316.6 145.3 L317.1 145.7 L317.6 144.6 L318.1 145.3 L318.6 145.1 L319.1 145.5 L319.6 146.4 L320.1 144.1 L320.6 144.5 L321.1 144.2 L321.6 141.2 L322.1 142.9 L322.6 144.1 L323.1 144.6 L323.6 143.5 L324.1 144.9 L324.6 145 L325.1 143.5 L325.6 145 L326.1 145.2 L326.6 144.1 L327.1 142.8 L327.6 144.9 L328.1 143.4 L328.6 143.2 L329.1 143.6 L329.6 143 L330.1 144.3 L330.6 144 L331.1 144.4 L331.6 143.8 L332.1 142.6 L332.6 143.1 L333.1 143.9 L333.6 142.8 L334.1 145.6 L334.6 142.9 L335.1 142.5 L335.6 144 L336.1 143.6 L336.6 142.9 L337.1 142.7 L337.6 143.2 L338.1 143.5 L338.6 143.4 L339.1 142.5 L339.6 143.1 L340.1 143.4 L340.6 143.3 L341.1 140 L341.6 141.8 L342.1 141.9 L342.6 142.3" fill="none" stroke="#0a0a0a" stroke-width="0.9" stroke-linejoin="round" />
<path d="M216.6 194.5 L217.1 193.6 L217.6 192.3 L218.1 191.8 L218.6 192.7 L219.1 190.1 L219.6 190.2 L220.1 190.7 L220.6 189.1 L221.1 186.5 L221.6 188 L222.1 186.7 L222.6 186.4 L223.1 186.8 L223.6 185.8 L224.1 184.6 L224.6 185.1 L225.1 184.2 L225.6 183.4 L226.1 183 L226.6 182.5 L227.1 181.5 L227.6 180.9 L228.1 180.8 L228.6 179.5 L229.1 178.7 L229.6 180.5 L230.1 178.7 L230.6 178.4 L231.1 177.9 L231.6 177.5 L232.1 177.1 L232.6 176.7 L233.1 175.5 L233.6 176.6 L234.1 174.8 L234.6 175.8 L235.1 172.9 L235.6 173.2 L236.1 174.6 L236.6 173.2 L237.1 172.3 L237.6 172.8 L238.1 171.3 L238.6 171.8 L239.1 169.5 L239.6 170.6 L240.1 170.1 L240.6 170.8 L241.1 170.7 L241.6 168.9 L242.1 170.6 L242.6 168.4 L243.1 166.8 L243.6 166.2 L244.1 169.2 L244.6 167.5 L245.1 166.7 L245.6 166.3 L246.1 165.7 L246.6 167.4 L247.1 165.9 L247.6 167.2 L248.1 165.2 L248.6 163.1 L249.1 165.5 L249.6 164.2 L250.1 164 L250.6 165.3 L251.1 163.4 L251.6 164.4 L252.1 163.1 L252.6 162.2 L253.1 163 L253.6 161.8 L254.1 163.1 L254.6 162.6 L255.1 161.6 L255.6 161.8 L256.1 161.5 L256.6 160.6 L257.1 161.3 L257.6 160.1 L258.1 160.6 L258.6 159 L259.1 159.7 L259.6 159.7 L260.1 158.5 L260.6 158.6 L261.1 158.3 L261.6 159.1 L262.1 157.7 L262.6 158.5 L263.1 159.2 L263.6 158 L264.1 156.1 L264.6 157.4 L265.1 158 L265.6 156.6 L266.1 157.6 L266.6 157 L267.1 156.7 L267.6 155.9 L268.1 155.5 L268.6 155.5 L269.1 155.6 L269.6 155.8 L270.1 155.6 L270.6 154.8 L271.1 154.9 L271.6 155 L272.1 153.2 L272.6 153.7 L273.1 153.5 L273.6 153.9 L274.1 153.6 L274.6 153.5 L275.1 152.8 L275.6 154 L276.1 153.5 L276.6 151.7 L277.1 153 L277.6 151.9 L278.1 154.1 L278.6 152.1 L279.1 152.1 L279.6 152.3 L280.1 151.9 L280.6 151.9 L281.1 153.2 L281.6 151.9 L282.1 152.3 L282.6 152.4 L283.1 150.5 L283.6 152.6 L284.1 151.7 L284.6 151.8 L285.1 150.1 L285.6 151.4 L286.1 150.9 L286.6 150 L287.1 152.3 L287.6 150.7 L288.1 149.9 L288.6 150.2 L289.1 150.7 L289.6 150.8 L290.1 150.2 L290.6 150.6 L291.1 150.7 L291.6 148.3 L292.1 148.9 L292.6 148.4 L293.1 149.2 L293.6 150.2 L294.1 149.4 L294.6 147.9 L295.1 148.4 L295.6 149.5 L296.1 148 L296.6 148.3 L297.1 148.6 L297.6 146.7 L298.1 148.8 L298.6 148.3 L299.1 148.4 L299.6 147 L300.1 147.1 L300.6 147.2 L301.1 147.8 L301.6 147.6 L302.1 147.6 L302.6 148.9 L303.1 148.4 L303.6 146.6 L304.1 146.6 L304.6 148.5 L305.1 146.7 L305.6 148.1 L306.1 148.2 L306.6 146.3 L307.1 146.5 L307.6 146.7 L308.1 145.8 L308.6 145.7 L309.1 146.1 L309.6 147.1 L310.1 145.9 L310.6 146.1 L311.1 145.8 L311.6 144.9 L312.1 147.3 L312.6 144 L313.1 145.4 L313.6 146.3 L314.1 144.6 L314.6 146.2 L315.1 146.7 L315.6 144.9 L316.1 145.7 L316.6 144.6 L317.1 145.9 L317.6 145.5 L318.1 145.5 L318.6 146.4 L319.1 145.6 L319.6 146.3 L320.1 145.7 L320.6 144.1 L321.1 145.2 L321.6 145.4 L322.1 143.7 L322.6 146 L323.1 144.9 L323.6 145.1 L324.1 144 L324.6 144.7 L325.1 144.9 L325.6 144.3 L326.1 144.6 L326.6 142.7 L327.1 145.6 L327.6 143.5 L328.1 142.5 L328.6 143.5 L329.1 143.6 L329.6 144.7 L330.1 143.4 L330.6 144.4 L331.1 143.3 L331.6 146 L332.1 144.5 L332.6 145.7 L333.1 143.1 L333.6 144.5 L334.1 143.1 L334.6 144.4 L335.1 144.4 L335.6 142.4 L336.1 142.8 L336.6 142.7 L337.1 142.4 L337.6 143 L338.1 142.8 L338.6 142.4 L339.1 143.6 L339.6 144 L340.1 142.4 L340.6 143 L341.1 143.4 L341.6 143.2 L342.1 142.8 L342.6 144" fill="none" stroke="#0a0a0a" stroke-width="0.9" stroke-linejoin="round" />
<line x1="445.5" y1="97.5" x2="445.5" y2="134" stroke="#555" stroke-width="1.0"/>
<line x1="438" y1="121.5" x2="445.5" y2="121.5" stroke="#000" stroke-width="2.5"/>
<path d="M445.8 113.9 L446.3 112.3 L446.8 113 L447.3 112.6 L447.8 111.9 L448.3 111.6 L448.8 111.4 L449.3 110.2 L449.8 109.6 L450.3 108.5 L450.8 107.3 L451.3 106.4 L451.8 105.1 L452.3 104.3 L452.8 103.1 L453.3 103.1 L453.8 102.2 L454.3 101.4 L454.8 100.5 L455.3 99.8 L455.8 99.2 L456.3 98.4 L456.8 97.7 L457.3 96.6 L457.8 96.3 L458.3 95.4 L458.8 94.6 L459.3 94 L459.8 93.7 L460.3 93.2 L460.8 92.1 L461.3 92.2 L461.8 91.5 L462.3 90.5 L462.8 90 L463.3 89.5 L463.8 89.2 L464.3 88.4 L464.8 87.7 L465.3 87.5 L465.8 86.4 L466.3 86.4 L466.8 86.1 L467.3 85.5 L467.8 85.1 L468.3 84.6 L468.8 84.2 L469.3 83.6 L469.8 82.9 L470.3 82.6 L470.8 82.2 L471.3 82.2 L471.8 81.9 L472.3 81.2 L472.8 80.5 L473.3 80.1 L473.8 79.9 L474.3 79.9 L474.8 79.3 L475.3 78.9 L475.8 78.4 L476.3 78.4 L476.8 78 L477.3 77.6 L477.8 77.3 L478.3 77.4 L478.8 76.7 L479.3 76.9 L479.8 76.5 L480.3 75.9 L480.8 75.9 L481.3 75.4 L481.8 75 L482.3 74.9 L482.8 74.4 L483.3 74.6 L483.8 74.2 L484.3 74.1 L484.8 73.9 L485.3 72.7 L485.8 73.3 L486.3 72.5 L486.8 72.8 L487.3 72.3 L487.8 72.3 L488.3 72.4 L488.8 71.3 L489.3 71.6 L489.8 71.3 L490.3 70.5 L490.8 71 L491.3 70.6 L491.8 70.3 L492.3 70 L492.8 70.9 L493.3 69.7 L493.8 69.1 L494.3 69.1 L494.8 69.1 L495.3 68.9 L495.8 68.8 L496.3 68.4 L496.8 68.6 L497.3 68.2 L497.8 67.7 L498.3 67.7 L498.8 67.7 L499.3 67.9 L499.8 67.6 L500.3 67.2 L500.8 67.2 L501.3 67.1 L501.8 67.5 L502.3 66.5 L502.8 66.7 L503.3 66.6 L503.8 66 L504.3 66.2 L504.8 66.1 L505.3 65.7 L505.8 65.9 L506.3 65.9 L506.8 65.8 L507.3 65.3 L507.8 65.3 L508.3 65.8 L508.8 64.6 L509.3 64.9 L509.8 65 L510.3 64.6 L510.8 64.6 L511.3 64.4 L511.8 64.4 L512.3 64.5 L512.8 63.9 L513.3 63.9 L513.8 63.7 L514.3 63.5 L514.8 63.5 L515.3 63 L515.8 63.5 L516.3 63.7 L516.8 63.6 L517.3 63.4 L517.8 62.5 L518.3 63.3 L518.8 62.4 L519.3 62.6 L519.8 63.1 L520.3 62 L520.8 62.6 L521.3 62.3 L521.8 62.1 L522.3 61.8 L522.8 62.1 L523.3 61.7 L523.8 62.2 L524.3 62.2 L524.8 61.2 L525.3 61.4 L525.8 61.4 L526.3 61 L526.8 61 L527.3 61.3 L527.8 61.2 L528.3 60.6 L528.8 60.9 L529.3 61.2 L529.8 60.5 L530.3 60.6 L530.8 61.4 L531.3 61.3 L531.8 60.1 L532.3 60.2 L532.8 60.7 L533.3 60.1 L533.8 60.4 L534.3 60.2 L534.8 60.5 L535.3 59.3 L535.8 59.4 L536.3 59.7 L536.8 60.5 L537.3 60 L537.8 59.3 L538.3 60.1 L538.8 60.1 L539.3 59.7 L539.8 59.6 L540.3 59.9 L540.8 60.1 L541.3 59.7 L541.8 59.8 L542.3 59.5 L542.8 59.4 L543.3 59.1 L543.8 59.5 L544.3 59.3 L544.8 59.3 L545.3 59.7 L545.8 59.5 L546.3 59.6 L546.8 58.6 L547.3 59.4 L547.8 58.9 L548.3 58.8 L548.8 58.8 L549.3 59.6 L549.8 59.4 L550.3 58.7 L550.8 58.5 L551.3 59 L551.8 58.7 L552.3 59.6 L552.8 58.3 L553.3 58.1 L553.8 58.7 L554.3 58.8 L554.8 58.8 L555.3 59 L555.8 59.6 L556.3 58.5 L556.8 58.4 L557.3 57.9 L557.8 58.7 L558.3 58.9 L558.8 58.4 L559.3 59 L559.8 58.5 L560.3 59.1 L560.8 58.6 L561.3 58 L561.8 58.1 L562.3 57.7 L562.8 57.6 L563.3 58.5 L563.8 58.7 L564.3 59.2 L564.8 58.3 L565.3 58.2 L565.8 57.8 L566.3 58.7 L566.8 58.4 L567.3 58 L567.8 58.5 L568.3 58.5 L568.8 57.4 L569.3 58.5 L569.8 58.2 L570.3 58 L570.8 58 L571.3 58.9 L571.8 58.8 L572.3 59 L572.3 61.9 L571.8 61.1 L571.3 61.6 L570.8 61.5 L570.3 61.9 L569.8 61.7 L569.3 62.1 L568.8 61.8 L568.3 61.9 L567.8 60.9 L567.3 61.9 L566.8 61.5 L566.3 61.4 L565.8 61.6 L565.3 62 L564.8 62.6 L564.3 62.4 L563.8 62 L563.3 62 L562.8 61.3 L562.3 62.1 L561.8 61.1 L561.3 61.5 L560.8 62.1 L560.3 62 L559.8 61.9 L559.3 61.9 L558.8 62.1 L558.3 63.1 L557.8 62.2 L557.3 62.1 L556.8 62.3 L556.3 62.5 L555.8 62.5 L555.3 62.4 L554.8 62.6 L554.3 62.5 L553.8 62.7 L553.3 62.6 L552.8 62.1 L552.3 62.1 L551.8 62.6 L551.3 62.2 L550.8 62.3 L550.3 61.8 L549.8 62.3 L549.3 62.7 L548.8 62.3 L548.3 62.7 L547.8 62.2 L547.3 62.7 L546.8 61.9 L546.3 62.1 L545.8 62.6 L545.3 62.6 L544.8 61.9 L544.3 62.7 L543.8 62.5 L543.3 63 L542.8 62.7 L542.3 62.3 L541.8 62.6 L541.3 62.8 L540.8 62.8 L540.3 62.6 L539.8 62.8 L539.3 63.2 L538.8 63.2 L538.3 63.5 L537.8 64 L537.3 62.5 L536.8 63.1 L536.3 63.6 L535.8 63.7 L535.3 63.5 L534.8 63.4 L534.3 63.5 L533.8 63.9 L533.3 64 L532.8 63.7 L532.3 63.7 L531.8 63.6 L531.3 63.4 L530.8 64.5 L530.3 63.6 L529.8 63.9 L529.3 63.8 L528.8 63.8 L528.3 64.4 L527.8 63.9 L527.3 64.4 L526.8 64.4 L526.3 64.9 L525.8 63.8 L525.3 65.1 L524.8 64.8 L524.3 64.4 L523.8 65.6 L523.3 64.7 L522.8 65.4 L522.3 65.5 L521.8 64.8 L521.3 65.3 L520.8 65.8 L520.3 64.9 L519.8 65.7 L519.3 65.2 L518.8 65.8 L518.3 65.9 L517.8 66 L517.3 65.4 L516.8 66.3 L516.3 66.3 L515.8 65.8 L515.3 66.3 L514.8 66.5 L514.3 67.1 L513.8 67.1 L513.3 66.5 L512.8 66.3 L512.3 67.2 L511.8 67.1 L511.3 67.5 L510.8 67.5 L510.3 67.3 L509.8 67.7 L509.3 67.7 L508.8 68 L508.3 68 L507.8 68.2 L507.3 67.7 L506.8 68.1 L506.3 68.7 L505.8 68.6 L505.3 69.2 L504.8 69.5 L504.3 69.1 L503.8 68.8 L503.3 69.5 L502.8 69.7 L502.3 69.4 L501.8 69.8 L501.3 69.8 L500.8 69.6 L500.3 70.2 L499.8 70.5 L499.3 70.4 L498.8 70.5 L498.3 70.7 L497.8 71 L497.3 70.8 L496.8 71.2 L496.3 72.3 L495.8 71.6 L495.3 71.7 L494.8 72.1 L494.3 72.1 L493.8 71.6 L493.3 72.7 L492.8 73.1 L492.3 73.5 L491.8 73.2 L491.3 73 L490.8 73.9 L490.3 73.9 L489.8 73.6 L489.3 74.8 L488.8 74.7 L488.3 74.9 L487.8 74.9 L487.3 74.8 L486.8 76 L486.3 75.6 L485.8 75.2 L485.3 76.3 L484.8 76.4 L484.3 77 L483.8 77.2 L483.3 76.9 L482.8 77.8 L482.3 77.9 L481.8 78.1 L481.3 78.3 L480.8 78.1 L480.3 78.6 L479.8 79.4 L479.3 79.1 L478.8 79.4 L478.3 79.8 L477.8 79.9 L477.3 80.1 L476.8 80.7 L476.3 80.7 L475.8 81.5 L475.3 81.4 L474.8 82.2 L474.3 82.2 L473.8 82.3 L473.3 83.5 L472.8 83.5 L472.3 84.1 L471.8 84.4 L471.3 84.9 L470.8 85.1 L470.3 85.7 L469.8 85.8 L469.3 86.5 L468.8 87.2 L468.3 87.7 L467.8 87.6 L467.3 88.6 L466.8 88.9 L466.3 89.4 L465.8 89.8 L465.3 90.2 L464.8 91.2 L464.3 91.7 L463.8 92 L463.3 92.9 L462.8 93.2 L462.3 93.7 L461.8 94.4 L461.3 94.8 L460.8 95.9 L460.3 96.1 L459.8 97 L459.3 97.7 L458.8 98.4 L458.3 98.6 L457.8 99.3 L457.3 100.6 L456.8 100.8 L456.3 101.9 L455.8 102.1 L455.3 103.3 L454.8 104.3 L454.3 104.9 L453.8 106.1 L453.3 106.6 L452.8 107.7 L452.3 109 L451.8 109.7 L451.3 110.9 L450.8 111.5 L450.3 112.3 L449.8 113 L449.3 113.5 L448.8 114 L448.3 114.4 L447.8 114.2 L447.3 115.1 L446.8 116 L446.3 119.1 L445.8 121.1Z" fill="#000"/>
<line x1="572.5" y1="57" x2="572.5" y2="160" stroke="#333" stroke-width="1.0"/>
<line x1="572.5" y1="160" x2="572.5" y2="212.4" stroke="#666" stroke-width="1.0"/>
<path d="M572.8 75.3 L573.5 75.1 L574.3 75.5 L575 75.3 L575.8 75.4 L576.5 75.7 L577.3 75.1 L578 75.6 L578.8 75.4 L579.5 75.5 L580.3 75.8 L581 75.6 L581.8 75.5 L582.5 75.6 L583.3 75.4 L584 75.5 L584.8 75.4 L585.5 74.9 L586.3 74.9 L587 74.8 L587.8 75 L588.5 75.6 L589.3 75.4 L590 75.6 L590.8 75 L591.5 74.5 L592.3 74.8 L593 74.2 L593.8 74.4 L594.5 74.7 L595.3 74.8 L596 75.4 L596.8 75.7 L597.5 76.2 L598.3 76.1 L599 76 L599.8 76.6 L600.5 76.2 L601.3 76.2 L602 76.7 L602.8 76.4 L603.5 76.4 L604.3 76.6 L605 76 L605.8 76.3 L606.5 76.2 L607.3 75.9 L608 75.9 L608.8 76 L609.5 75.8 L610.3 76.1 L611 76.5 L611.8 76.3 L612.5 76 L613.3 76.2 L614 76.3 L614.8 76.5 L615.5 77.3 L616.3 77.2 L617 77.2 L617.8 77.4 L618.5 76.9 L619.3 77.3 L620 77.5 L620.8 77.4 L621.5 77.9 L622.3 77.7 L623 77.1 L623.8 77.2 L624.5 76.8 L625.3 76.7 L626 77 L626.8 77 L627.5 77.1 L628.3 76.9 L629 76.9 L629.8 76.8 L630.5 76.5 L631.3 76.6 L632 76.4 L632.8 76.1 L633.5 76.3 L634.3 76.7 L635 77.3 L635.8 77.8 L636.5 77.9 L637.3 78 L638 77.9 L638.8 77.5 L639.5 77.4 L640.3 77.2 L641 76.9 L641.8 76.9 L642.5 76.6 L643.3 76.4 L644 76.2 L644.8 76.4 L645.5 76.6 L646.3 76.7 L647 77.1 L647.8 77.1 L648.5 77 L649.3 77 L650 76.5 L650.8 75.8 L651.5 75.4 L652.3 75.9 L653 75.8 L653.8 76.5 L654.5 77.4 L655.3 76.9 L656 77.7 L656.8 78.1 L657.5 78 L658.3 78.7 L659 78.5 L659.8 77.8 L660.5 77.7 L661.3 77 L662 76.6 L662.8 76.4 L663.5 76.9 L664.3 76.9 L665 77.2 L665.8 77.4 L666.5 76.8 L667.3 76.9 L668 76.9 L668.8 76.7 L669.5 76.3 L670.3 76.2 L671 76.4 L671.8 77.3 L672.5 77.9 L673.3 78.5 L674 78.6 L674.8 78.1 L675.5 77.5 L676.3 77 L677 76.4 L677.8 76.3 L678.5 77.1 L679.3 77.2 L680 78 L680.8 78 L681.5 77.3 L682.3 77.1 L683 76.7 L683.8 77.1 L684.5 77.9 L685.3 77.9 L686 77.9 L686.8 77.6 L687.5 77 L688.3 76.9 L689 77 L689.8 77.1 L690.5 77.3 L691.3 77.4 L692 77.3 L692.8 76.8 L693.5 76.9 L694.3 77 L695 77 L695.8 77.3 L696.5 76.9 L697.3 76.9 L698 76.6 L698.8 77.1" fill="none" stroke="#111" stroke-width="0.95" stroke-linejoin="round" />
<path d="M572.8 83.1 L573.5 83.2 L574.3 83.5 L575 83.7 L575.8 83.6 L576.5 83.6 L577.3 83.4 L578 83.6 L578.8 83 L579.5 83 L580.3 82.9 L581 82.5 L581.8 82.6 L582.5 82.8 L583.3 82.7 L584 82.8 L584.8 83.2 L585.5 82.6 L586.3 82.7 L587 82.3 L587.8 82.2 L588.5 82.6 L589.3 82.7 L590 83.2 L590.8 83.4 L591.5 84.1 L592.3 84.2 L593 83.9 L593.8 83.8 L594.5 83.1 L595.3 83 L596 83.1 L596.8 83.1 L597.5 83.7 L598.3 83.8 L599 83.9 L599.8 84 L600.5 83.6 L601.3 83.9 L602 84.1 L602.8 84.5 L603.5 83.8 L604.3 83.6 L605 83.7 L605.8 83.9 L606.5 84.7 L607.3 84.3 L608 84.2 L608.8 83.5 L609.5 83.1 L610.3 83.4 L611 83.5 L611.8 84 L612.5 84.6 L613.3 84.5 L614 84.9 L614.8 84.3 L615.5 84.2 L616.3 84.1 L617 83.8 L617.8 84.2 L618.5 84.5 L619.3 84.9 L620 84.5 L620.8 84.5 L621.5 83.8 L622.3 84 L623 84.3 L623.8 84.2 L624.5 84.7 L625.3 84.5 L626 84.7 L626.8 84.9 L627.5 84.9 L628.3 84.7 L629 84 L629.8 83.7 L630.5 83.8 L631.3 83.8 L632 84.2 L632.8 84.6 L633.5 84.7 L634.3 84.8 L635 85 L635.8 84.9 L636.5 84.8 L637.3 84.8 L638 84.3 L638.8 84.5 L639.5 84.2 L640.3 84.3 L641 84.8 L641.8 84.8 L642.5 85.1 L643.3 84.7 L644 84.9 L644.8 84.7 L645.5 84.8 L646.3 85 L647 85 L647.8 85.2 L648.5 85.2 L649.3 84.8 L650 84.5 L650.8 84.3 L651.5 84.7 L652.3 85.2 L653 85.3 L653.8 85.6 L654.5 85.1 L655.3 85.1 L656 85.1 L656.8 84.5 L657.5 84.7 L658.3 84.9 L659 84.8 L659.8 84.9 L660.5 84.7 L661.3 84.9 L662 84.9 L662.8 84.9 L663.5 85 L664.3 84.2 L665 83.8 L665.8 84 L666.5 83.7 L667.3 84.1 L668 84.5 L668.8 84.7 L669.5 84.8 L670.3 84.8 L671 84.8 L671.8 84.9 L672.5 85.2 L673.3 85.6 L674 85.9 L674.8 84.9 L675.5 84.4 L676.3 84.1 L677 84 L677.8 84.4 L678.5 85.1 L679.3 85.2 L680 85 L680.8 85.5 L681.5 85 L682.3 84.8 L683 85.1 L683.8 84.9 L684.5 84.7 L685.3 84.7 L686 84.6 L686.8 84.4 L687.5 85.1 L688.3 85 L689 85.5 L689.8 86 L690.5 85.4 L691.3 85.7 L692 85.6 L692.8 85.3 L693.5 85.3 L694.3 85.3 L695 85.5 L695.8 85.2 L696.5 85.6 L697.3 85.6 L698 85.1 L698.8 85.4" fill="none" stroke="#111" stroke-width="0.95" stroke-linejoin="round" />
<path d="M572.8 90.5 L573.5 90.2 L574.3 90.4 L575 90.7 L575.8 90.7 L576.5 91.1 L577.3 91.3 L578 91.2 L578.8 91.2 L579.5 91.2 L580.3 91.5 L581 91.4 L581.8 91.5 L582.5 91.6 L583.3 91.1 L584 91.2 L584.8 91 L585.5 90.5 L586.3 90.2 L587 90.5 L587.8 90.1 L588.5 90.8 L589.3 91.1 L590 91 L590.8 91.5 L591.5 91.2 L592.3 91.3 L593 91.1 L593.8 91.1 L594.5 91.3 L595.3 91.7 L596 92.1 L596.8 92.3 L597.5 92 L598.3 91.3 L599 91.2 L599.8 91.3 L600.5 91.3 L601.3 92 L602 92.1 L602.8 92 L603.5 92.4 L604.3 92.3 L605 91.5 L605.8 91.4 L606.5 91.1 L607.3 91.2 L608 91.4 L608.8 91.4 L609.5 91.3 L610.3 91.2 L611 91.5 L611.8 91.8 L612.5 92.3 L613.3 92.4 L614 92.4 L614.8 92.2 L615.5 92.1 L616.3 92.5 L617 91.8 L617.8 91.8 L618.5 91.8 L619.3 91.8 L620 92.1 L620.8 92.3 L621.5 92.4 L622.3 92.1 L623 91.9 L623.8 91.7 L624.5 91.2 L625.3 91.5 L626 91.8 L626.8 92.4 L627.5 92.7 L628.3 92.4 L629 92.5 L629.8 91.8 L630.5 91.9 L631.3 92.5 L632 92.6 L632.8 93.1 L633.5 92.8 L634.3 92.5 L635 93.1 L635.8 92.6 L636.5 93.1 L637.3 93.4 L638 92.3 L638.8 92.4 L639.5 91.8 L640.3 91.8 L641 92.2 L641.8 92.5 L642.5 93 L643.3 92.8 L644 92.9 L644.8 92.9 L645.5 93 L646.3 92.8 L647 93.2 L647.8 93.2 L648.5 92.8 L649.3 93.1 L650 92.8 L650.8 92.5 L651.5 92.7 L652.3 92.2 L653 91.9 L653.8 92.6 L654.5 92.4 L655.3 92.8 L656 93 L656.8 93.3 L657.5 93.5 L658.3 93.1 L659 92.9 L659.8 92.2 L660.5 92.3 L661.3 92.6 L662 93.2 L662.8 93.4 L663.5 93.5 L664.3 93.6 L665 93.3 L665.8 93.3 L666.5 93.5 L667.3 93.6 L668 93.6 L668.8 93.1 L669.5 92.7 L670.3 92.6 L671 92.1 L671.8 92.4 L672.5 92.8 L673.3 92.6 L674 92.9 L674.8 93.5 L675.5 93.7 L676.3 93.8 L677 94.4 L677.8 94.3 L678.5 93.7 L679.3 94.5 L680 93.9 L680.8 93.5 L681.5 93.6 L682.3 92.9 L683 92.8 L683.8 92.9 L684.5 93.5 L685.3 93.5 L686 93.8 L686.8 94.2 L687.5 93.7 L688.3 93.9 L689 93.9 L689.8 93.6 L690.5 93.8 L691.3 93.7 L692 93.7 L692.8 93.5 L693.5 93.3 L694.3 93.4 L695 93.4 L695.8 93.4 L696.5 93.3 L697.3 93.1 L698 93.1 L698.8 93.4" fill="none" stroke="#111" stroke-width="0.95" stroke-linejoin="round" />
<path d="M572.8 97 L573.5 97 L574.3 96.6 L575 96.8 L575.8 97.2 L576.5 97.5 L577.3 97.6 L578 98 L578.8 98.2 L579.5 97.7 L580.3 97.7 L581 97.8 L581.8 98 L582.5 98.6 L583.3 99.5 L584 99.5 L584.8 99.5 L585.5 99.3 L586.3 98.9 L587 98.8 L587.8 98.5 L588.5 99.1 L589.3 98.6 L590 98.8 L590.8 99.2 L591.5 98.8 L592.3 99 L593 98.9 L593.8 98.8 L594.5 98.5 L595.3 98.8 L596 98.7 L596.8 98.7 L597.5 99.2 L598.3 99 L599 99.2 L599.8 99.3 L600.5 99.2 L601.3 99.5 L602 99.5 L602.8 99.5 L603.5 99.2 L604.3 99 L605 99 L605.8 99.5 L606.5 100 L607.3 100.1 L608 100.1 L608.8 99.6 L609.5 98.8 L610.3 98.7 L611 98.5 L611.8 98.6 L612.5 98.7 L613.3 99.1 L614 99.1 L614.8 99.1 L615.5 100.2 L616.3 100.1 L617 100.2 L617.8 100.9 L618.5 100.1 L619.3 100.5 L620 100.2 L620.8 99.8 L621.5 99.9 L622.3 99.4 L623 100.1 L623.8 100.1 L624.5 100 L625.3 100.3 L626 100.1 L626.8 100.7 L627.5 101 L628.3 101.6 L629 101.3 L629.8 101.1 L630.5 101.3 L631.3 100.7 L632 100.8 L632.8 100.6 L633.5 100.3 L634.3 100.1 L635 100.1 L635.8 99.8 L636.5 100.1 L637.3 100 L638 100.7 L638.8 101.5 L639.5 101.7 L640.3 102.1 L641 101.5 L641.8 101.4 L642.5 101.2 L643.3 101.4 L644 101.4 L644.8 101.3 L645.5 101.1 L646.3 101 L647 100.8 L647.8 100.4 L648.5 100.7 L649.3 100.6 L650 101 L650.8 101.4 L651.5 101.2 L652.3 101.7 L653 101.2 L653.8 101.2 L654.5 101.3 L655.3 100.7 L656 101 L656.8 101.1 L657.5 100.7 L658.3 100.9 L659 101.4 L659.8 101.2 L660.5 101.6 L661.3 101.5 L662 101.5 L662.8 101.8 L663.5 101.8 L664.3 101.5 L665 101.6 L665.8 101.4 L666.5 101.1 L667.3 102 L668 101.4 L668.8 101.9 L669.5 102 L670.3 102.1 L671 102.5 L671.8 101.7 L672.5 101.9 L673.3 101.6 L674 101.8 L674.8 102.4 L675.5 102.2 L676.3 102.2 L677 102.3 L677.8 102 L678.5 102 L679.3 101.7 L680 101.7 L680.8 102 L681.5 102 L682.3 101.9 L683 102.1 L683.8 101.5 L684.5 101.8 L685.3 101.9 L686 101.2 L686.8 101.6 L687.5 101.5 L688.3 102.1 L689 103.1 L689.8 103.1 L690.5 103.4 L691.3 103.3 L692 102.6 L692.8 102.5 L693.5 102.6 L694.3 102.3 L695 102.5 L695.8 102.6 L696.5 102.2 L697.3 102.1 L698 102.4 L698.8 102.8" fill="none" stroke="#111" stroke-width="0.95" stroke-linejoin="round" />
<path d="M572.8 104.7 L573.5 105.1 L574.3 105.7 L575 106.2 L575.8 106.1 L576.5 106.1 L577.3 105 L578 104.8 L578.8 105.5 L579.5 105.5 L580.3 105.8 L581 105.6 L581.8 105.4 L582.5 105.3 L583.3 105.5 L584 106.1 L584.8 105.8 L585.5 105.4 L586.3 105.8 L587 105.5 L587.8 105.5 L588.5 105.7 L589.3 105.6 L590 105.6 L590.8 106 L591.5 106.3 L592.3 106.6 L593 106.7 L593.8 106.4 L594.5 106 L595.3 105.5 L596 105.9 L596.8 106.8 L597.5 107 L598.3 107.1 L599 107 L599.8 106.4 L600.5 106.6 L601.3 106.9 L602 106.5 L602.8 106.3 L603.5 106.7 L604.3 107.2 L605 107.6 L605.8 107.6 L606.5 107.5 L607.3 107.4 L608 107.6 L608.8 107.5 L609.5 107.6 L610.3 107.6 L611 107.3 L611.8 107.2 L612.5 107.3 L613.3 107.1 L614 107.6 L614.8 108 L615.5 107.7 L616.3 107.6 L617 107.1 L617.8 106.9 L618.5 106.9 L619.3 106.9 L620 107.5 L620.8 107.5 L621.5 107.6 L622.3 107.6 L623 107.7 L623.8 108.1 L624.5 108.1 L625.3 108.5 L626 108.1 L626.8 108 L627.5 108.5 L628.3 108.5 L629 108.9 L629.8 109.4 L630.5 109.2 L631.3 109.1 L632 108.4 L632.8 108.3 L633.5 108.2 L634.3 108.4 L635 108.7 L635.8 108.3 L636.5 108.1 L637.3 108.1 L638 108.5 L638.8 108.6 L639.5 109 L640.3 109.2 L641 108.7 L641.8 108.7 L642.5 108.3 L643.3 108.3 L644 108.6 L644.8 108.6 L645.5 108.5 L646.3 108.2 L647 108.4 L647.8 108.4 L648.5 108.8 L649.3 109 L650 108.5 L650.8 108.6 L651.5 108.8 L652.3 108.5 L653 108.6 L653.8 108.7 L654.5 108.6 L655.3 108.7 L656 109 L656.8 109 L657.5 108.8 L658.3 108.7 L659 108.8 L659.8 109.1 L660.5 109.7 L661.3 109.6 L662 109.8 L662.8 109.7 L663.5 109.4 L664.3 109.8 L665 109.7 L665.8 110 L666.5 109.8 L667.3 109.8 L668 109.6 L668.8 109.1 L669.5 109.7 L670.3 109.8 L671 109.6 L671.8 109.6 L672.5 109.3 L673.3 108.8 L674 109.3 L674.8 109.4 L675.5 109.4 L676.3 109.8 L677 110.1 L677.8 110.1 L678.5 110 L679.3 110.4 L680 109.8 L680.8 109.7 L681.5 109.4 L682.3 109.3 L683 109.5 L683.8 109.8 L684.5 110.2 L685.3 109.9 L686 109.6 L686.8 109.3 L687.5 109.4 L688.3 109.5 L689 110.1 L689.8 110.1 L690.5 109.9 L691.3 109.7 L692 109.6 L692.8 109.5 L693.5 109.8 L694.3 110.5 L695 110.1 L695.8 110.6 L696.5 109.9 L697.3 109.5 L698 109.1 L698.8 109" fill="none" stroke="#111" stroke-width="0.95" stroke-linejoin="round" />
<path d="M572.8 113.5 L573.5 113.5 L574.3 113.1 L575 113.1 L575.8 113.8 L576.5 113.8 L577.3 114.3 L578 114.2 L578.8 113.9 L579.5 114.3 L580.3 114.2 L581 113.9 L581.8 113.6 L582.5 113.8 L583.3 113.9 L584 114.5 L584.8 114.6 L585.5 113.9 L586.3 114.1 L587 114 L587.8 114.1 L588.5 114.5 L589.3 114.5 L590 114.3 L590.8 114.6 L591.5 114.6 L592.3 114 L593 114.2 L593.8 114 L594.5 113.9 L595.3 114.6 L596 114.5 L596.8 114.8 L597.5 115.4 L598.3 115.3 L599 115.1 L599.8 114.8 L600.5 114.8 L601.3 114.8 L602 115 L602.8 115.2 L603.5 115.1 L604.3 115.3 L605 115.7 L605.8 115.5 L606.5 115.4 L607.3 115.3 L608 115.1 L608.8 114.8 L609.5 114.9 L610.3 114.7 L611 115 L611.8 116 L612.5 116.5 L613.3 117 L614 116.6 L614.8 116.5 L615.5 116.1 L616.3 116 L617 116 L617.8 115.6 L618.5 115.8 L619.3 116.1 L620 116.4 L620.8 117.1 L621.5 117.7 L622.3 117 L623 117 L623.8 116.2 L624.5 115.5 L625.3 115.8 L626 115.8 L626.8 116.3 L627.5 116.6 L628.3 116.8 L629 116.8 L629.8 116.6 L630.5 116.5 L631.3 116.6 L632 116.6 L632.8 116.7 L633.5 116.4 L634.3 116.5 L635 116.9 L635.8 116.9 L636.5 116.9 L637.3 117 L638 116.5 L638.8 115.8 L639.5 116.1 L640.3 115.9 L641 116.1 L641.8 117.2 L642.5 117.4 L643.3 117.3 L644 116.8 L644.8 116.2 L645.5 116.1 L646.3 116.3 L647 116.5 L647.8 116.7 L648.5 116.8 L649.3 116.2 L650 116 L650.8 116.1 L651.5 116 L652.3 116.4 L653 116.4 L653.8 116.4 L654.5 116.1 L655.3 116.4 L656 116.9 L656.8 117 L657.5 117.5 L658.3 117.2 L659 117.5 L659.8 117.7 L660.5 117.7 L661.3 118.2 L662 117.8 L662.8 117.8 L663.5 117.8 L664.3 117.2 L665 117.4 L665.8 117 L666.5 116.8 L667.3 117.1 L668 117.4 L668.8 117.5 L669.5 117.7 L670.3 117.3 L671 117.1 L671.8 117.5 L672.5 117.6 L673.3 118.1 L674 118 L674.8 117.5 L675.5 117.3 L676.3 116.9 L677 116.7 L677.8 117.2 L678.5 117 L679.3 117.8 L680 117.7 L680.8 117.6 L681.5 117.6 L682.3 117.2 L683 117.3 L683.8 117.2 L684.5 117.5 L685.3 117.4 L686 117.8 L686.8 118.1 L687.5 118 L688.3 118.4 L689 118.3 L689.8 117.9 L690.5 118.6 L691.3 117.9 L692 117.7 L692.8 117.3 L693.5 116.7 L694.3 117.2 L695 118.3 L695.8 118.8 L696.5 119.4 L697.3 119.8 L698 118.7 L698.8 118.8" fill="none" stroke="#111" stroke-width="0.95" stroke-linejoin="round" />
<path d="M572.8 122 L573.5 121.8 L574.3 121.9 L575 121.9 L575.8 122.1 L576.5 122.2 L577.3 122.1 L578 121.9 L578.8 122.3 L579.5 122.4 L580.3 122.5 L581 122.2 L581.8 121.8 L582.5 121.8 L583.3 121.4 L584 121.8 L584.8 121.9 L585.5 121.6 L586.3 122.2 L587 122 L587.8 121.9 L588.5 121.9 L589.3 121.8 L590 122.6 L590.8 122.3 L591.5 122.5 L592.3 122.4 L593 122 L593.8 122.4 L594.5 121.8 L595.3 122.2 L596 121.7 L596.8 121.8 L597.5 122.1 L598.3 121.5 L599 121.6 L599.8 121.8 L600.5 122.4 L601.3 122.5 L602 122.8 L602.8 122.4 L603.5 122.3 L604.3 122.5 L605 122.5 L605.8 122.4 L606.5 122.4 L607.3 122.4 L608 122.3 L608.8 122.2 L609.5 122.7 L610.3 122.5 L611 122.7 L611.8 122.9 L612.5 122.8 L613.3 122.4 L614 122.7 L614.8 122.6 L615.5 122 L616.3 122.6 L617 122.6 L617.8 122.8 L618.5 122.8 L619.3 122.6 L620 122.4 L620.8 121.9 L621.5 122.2 L622.3 122.3 L623 122.5 L623.8 122.7 L624.5 123.1 L625.3 123 L626 122.3 L626.8 122.6 L627.5 122.4 L628.3 122.2 L629 122.5 L629.8 122.4 L630.5 122.1 L631.3 122.6 L632 122.5 L632.8 122.3 L633.5 122.3 L634.3 122 L635 121.9 L635.8 121.7 L636.5 121.8 L637.3 121.6 L638 121.7 L638.8 122 L639.5 121.8 L640.3 122.4 L641 122.8 L641.8 123.2 L642.5 123.1 L643.3 123.2 L644 122.8 L644.8 122.4 L645.5 122.6 L646.3 122.3 L647 122.6 L647.8 122.8 L648.5 122.8 L649.3 122.6 L650 122.2 L650.8 122.2 L651.5 122.8 L652.3 122.7 L653 122.8 L653.8 122.5 L654.5 121.9 L655.3 122.2 L656 122.4 L656.8 122.1 L657.5 122.1 L658.3 122.3 L659 122.2 L659.8 122.7 L660.5 122.8 L661.3 122.4 L662 122.5 L662.8 122.2 L663.5 122.1 L664.3 122.2 L665 122.3 L665.8 122.1 L666.5 122.7 L667.3 122.8 L668 122.4 L668.8 122.7 L669.5 122.4 L670.3 122.4 L671 122.8 L671.8 122.4 L672.5 122.1 L673.3 122.2 L674 122.1 L674.8 122.5 L675.5 122.9 L676.3 123 L677 122.7 L677.8 122.9 L678.5 122.6 L679.3 122.4 L680 123 L680.8 122.4 L681.5 122.7 L682.3 122.5 L683 122.1 L683.8 122.4 L684.5 122.1 L685.3 121.9 L686 122.1 L686.8 122.3 L687.5 122.5 L688.3 122.3 L689 122.7 L689.8 122.8 L690.5 123 L691.3 123.1 L692 122.4 L692.8 122.2 L693.5 121.9 L694.3 122.5 L695 122.7 L695.8 122.8 L696.5 122.7 L697.3 122.1 L698 121.9 L698.8 121.9" fill="none" stroke="#111" stroke-width="0.95" stroke-linejoin="round" />
<path d="M572.8 131.9 L573.5 131.8 L574.3 131.4 L575 131.3 L575.8 131.2 L576.5 131 L577.3 131.2 L578 131 L578.8 130.7 L579.5 130.8 L580.3 130.5 L581 130.4 L581.8 130.5 L582.5 130.6 L583.3 131 L584 131.2 L584.8 130.8 L585.5 130.3 L586.3 130.3 L587 129.7 L587.8 129.7 L588.5 129.2 L589.3 128.9 L590 128.9 L590.8 128.5 L591.5 129.1 L592.3 128.9 L593 128.9 L593.8 129.1 L594.5 128.7 L595.3 129.2 L596 129.1 L596.8 129.1 L597.5 128.9 L598.3 128.4 L599 128.4 L599.8 128.2 L600.5 128.3 L601.3 128.4 L602 128.8 L602.8 128.8 L603.5 128.8 L604.3 128.7 L605 128.8 L605.8 129.2 L606.5 129.3 L607.3 129.5 L608 128.7 L608.8 128.2 L609.5 128.1 L610.3 127.9 L611 127.8 L611.8 127.6 L612.5 127.6 L613.3 127.6 L614 127.2 L614.8 127.4 L615.5 127.5 L616.3 127.2 L617 127.8 L617.8 127.3 L618.5 127.2 L619.3 127 L620 126.6 L620.8 126.9 L621.5 127.2 L622.3 127.3 L623 127.2 L623.8 127.4 L624.5 126.8 L625.3 127.3 L626 127.3 L626.8 126.7 L627.5 126.5 L628.3 126.2 L629 126.6 L629.8 127.2 L630.5 126.8 L631.3 126.5 L632 126.3 L632.8 126.3 L633.5 126.7 L634.3 126.8 L635 126.5 L635.8 126.5 L636.5 126.6 L637.3 127.3 L638 127.5 L638.8 127.6 L639.5 127 L640.3 126.2 L641 126.1 L641.8 125.5 L642.5 125.6 L643.3 125.5 L644 125.6 L644.8 125.6 L645.5 126 L646.3 126 L647 126 L647.8 126.5 L648.5 126.3 L649.3 126.4 L650 126.3 L650.8 126 L651.5 126 L652.3 125.7 L653 126 L653.8 126.3 L654.5 126.4 L655.3 126.5 L656 125.8 L656.8 125.3 L657.5 125 L658.3 125.3 L659 125.6 L659.8 125.6 L660.5 125.9 L661.3 125.5 L662 125.8 L662.8 126.1 L663.5 125.4 L664.3 125.6 L665 125.2 L665.8 124.7 L666.5 124.5 L667.3 124.1 L668 124.3 L668.8 124.4 L669.5 124.9 L670.3 125 L671 124.8 L671.8 124.8 L672.5 124.3 L673.3 124.2 L674 124.3 L674.8 124.4 L675.5 124.5 L676.3 124.9 L677 124.9 L677.8 125.3 L678.5 125.3 L679.3 125.5 L680 125.8 L680.8 125.3 L681.5 125.9 L682.3 125.1 L683 124.9 L683.8 124.9 L684.5 124 L685.3 124.9 L686 124.7 L686.8 125 L687.5 125.8 L688.3 125.5 L689 125.1 L689.8 124.7 L690.5 124.3 L691.3 124.4 L692 124.5 L692.8 124.6 L693.5 124.8 L694.3 124.8 L695 125.4 L695.8 125.9 L696.5 125.4 L697.3 125.2 L698 124.3 L698.8 123.4" fill="none" stroke="#111" stroke-width="0.95" stroke-linejoin="round" />
<path d="M572.8 141.5 L573.5 141.2 L574.3 140.9 L575 141 L575.8 140.7 L576.5 140.7 L577.3 140.8 L578 140.1 L578.8 139.8 L579.5 139.4 L580.3 139.2 L581 139.4 L581.8 138.9 L582.5 139.2 L583.3 138.5 L584 138.4 L584.8 138.5 L585.5 137.8 L586.3 137.6 L587 137.1 L587.8 136.9 L588.5 136.7 L589.3 137 L590 136.5 L590.8 136.4 L591.5 136.4 L592.3 135.6 L593 135.9 L593.8 135.4 L594.5 134.7 L595.3 134.8 L596 134.5 L596.8 134.9 L597.5 135.3 L598.3 135.6 L599 135.9 L599.8 135.8 L600.5 136.1 L601.3 135.7 L602 135.1 L602.8 134.8 L603.5 134.6 L604.3 134.4 L605 134.4 L605.8 133.7 L606.5 133.5 L607.3 133.4 L608 133 L608.8 133.3 L609.5 133.2 L610.3 133 L611 133.4 L611.8 133.4 L612.5 132.8 L613.3 132.6 L614 132.4 L614.8 132.3 L615.5 132.9 L616.3 132.4 L617 132.2 L617.8 132 L618.5 131.9 L619.3 132.7 L620 132.3 L620.8 132 L621.5 131.3 L622.3 131 L623 130.8 L623.8 131.1 L624.5 131.5 L625.3 131.3 L626 131 L626.8 130.5 L627.5 130.3 L628.3 129.8 L629 130.2 L629.8 130.2 L630.5 130.2 L631.3 130.5 L632 130.6 L632.8 130.4 L633.5 130.1 L634.3 129.9 L635 129.9 L635.8 129.9 L636.5 130.1 L637.3 129.6 L638 129.7 L638.8 129.6 L639.5 129.6 L640.3 129.9 L641 129.8 L641.8 130.1 L642.5 129.6 L643.3 129.6 L644 129.2 L644.8 128.8 L645.5 128.5 L646.3 128.4 L647 128.3 L647.8 128 L648.5 128.3 L649.3 127.9 L650 128.2 L650.8 128.5 L651.5 128.9 L652.3 129 L653 128.3 L653.8 128.2 L654.5 127.3 L655.3 127.5 L656 127.6 L656.8 127.4 L657.5 127.8 L658.3 127.7 L659 128.3 L659.8 128.5 L660.5 128 L661.3 128.2 L662 127.4 L662.8 127.2 L663.5 127.1 L664.3 126.6 L665 127.2 L665.8 127 L666.5 127.1 L667.3 127.2 L668 126.7 L668.8 127.2 L669.5 127 L670.3 126.8 L671 127 L671.8 126.2 L672.5 126.3 L673.3 126.9 L674 126.7 L674.8 126.9 L675.5 126.8 L676.3 126.2 L677 126.1 L677.8 126.2 L678.5 126.6 L679.3 127 L680 127 L680.8 126.8 L681.5 126.6 L682.3 125.9 L683 125.9 L683.8 125.9 L684.5 125.4 L685.3 125.6 L686 125.8 L686.8 125.4 L687.5 125.4 L688.3 125.5 L689 125.4 L689.8 125.4 L690.5 125.9 L691.3 125.9 L692 125.8 L692.8 126 L693.5 125.6 L694.3 125.4 L695 125.7 L695.8 125.8 L696.5 125.9 L697.3 126.4 L698 125.9 L698.8 125.9" fill="none" stroke="#111" stroke-width="0.95" stroke-linejoin="round" />
<path d="M572.8 150.3 L573.5 149.7 L574.3 149.4 L575 149.5 L575.8 149.1 L576.5 148.8 L577.3 148.3 L578 147.6 L578.8 146.9 L579.5 146.4 L580.3 146.1 L581 145.9 L581.8 145.5 L582.5 145.3 L583.3 145.1 L584 144.7 L584.8 144.5 L585.5 144.4 L586.3 143.7 L587 143.5 L587.8 143.8 L588.5 142.8 L589.3 142.8 L590 142.5 L590.8 141.9 L591.5 141.9 L592.3 141.5 L593 140.9 L593.8 140.6 L594.5 140.6 L595.3 140.3 L596 140.2 L596.8 139.8 L597.5 139.4 L598.3 139.3 L599 139.3 L599.8 139.1 L600.5 138.7 L601.3 137.9 L602 137.8 L602.8 137.9 L603.5 137.6 L604.3 137.8 L605 137.6 L605.8 137.3 L606.5 137.5 L607.3 137.7 L608 137.4 L608.8 137.1 L609.5 136.9 L610.3 136.3 L611 136.4 L611.8 136.3 L612.5 136.2 L613.3 136.1 L614 135.9 L614.8 135.4 L615.5 135.1 L616.3 134.5 L617 133.9 L617.8 134.1 L618.5 133.8 L619.3 134.2 L620 133.9 L620.8 133.9 L621.5 134 L622.3 133.8 L623 134.1 L623.8 133.7 L624.5 133.7 L625.3 133.7 L626 133.2 L626.8 132.9 L627.5 132.8 L628.3 132.7 L629 132.8 L629.8 132.9 L630.5 132.5 L631.3 132.4 L632 132.1 L632.8 131.7 L633.5 131.7 L634.3 131.4 L635 131.7 L635.8 132.1 L636.5 131.8 L637.3 131.8 L638 131.5 L638.8 130.9 L639.5 130.9 L640.3 130.5 L641 130.1 L641.8 130.4 L642.5 130.3 L643.3 130.7 L644 131 L644.8 130.7 L645.5 130.8 L646.3 130.6 L647 130.3 L647.8 130.4 L648.5 130 L649.3 129.8 L650 130.5 L650.8 130.2 L651.5 130.6 L652.3 130.5 L653 130 L653.8 129.9 L654.5 129.6 L655.3 129.5 L656 129.1 L656.8 129.1 L657.5 128.6 L658.3 128.6 L659 128.8 L659.8 128.6 L660.5 128.6 L661.3 128.5 L662 128.4 L662.8 128.4 L663.5 128.5 L664.3 128.6 L665 128.9 L665.8 128.8 L666.5 128.4 L667.3 128.4 L668 128 L668.8 128 L669.5 128.1 L670.3 128.2 L671 128.2 L671.8 128.1 L672.5 128 L673.3 127.9 L674 127.8 L674.8 128 L675.5 128.2 L676.3 127.8 L677 127.8 L677.8 127.4 L678.5 127.5 L679.3 127.5 L680 127.4 L680.8 127.5 L681.5 127.4 L682.3 127.4 L683 127.3 L683.8 127.3 L684.5 127.1 L685.3 127.2 L686 127.3 L686.8 126.8 L687.5 126.9 L688.3 127.1 L689 127.2 L689.8 127.7 L690.5 127.8 L691.3 127.4 L692 127 L692.8 127 L693.5 127.1 L694.3 127.3 L695 127.6 L695.8 127.5 L696.5 127.3 L697.3 127.2 L698 127.1 L698.8 127" fill="none" stroke="#1a1a1a" stroke-width="0.9" stroke-linejoin="round" />
<path d="M572.8 159.9 L573.5 159.3 L574.3 158.2 L575 158 L575.8 158 L576.5 157.5 L577.3 157.2 L578 156 L578.8 155.2 L579.5 154.6 L580.3 154 L581 153.7 L581.8 153.3 L582.5 152.9 L583.3 152.4 L584 151.4 L584.8 150.8 L585.5 150.1 L586.3 149.9 L587 150.2 L587.8 150 L588.5 149.8 L589.3 149.4 L590 149 L590.8 148.3 L591.5 147.9 L592.3 147.4 L593 146.7 L593.8 146.2 L594.5 145.7 L595.3 145.1 L596 144.6 L596.8 144.5 L597.5 144.3 L598.3 144.2 L599 144.2 L599.8 143.5 L600.5 143.4 L601.3 142.8 L602 142.5 L602.8 142.5 L603.5 142 L604.3 141.9 L605 141.3 L605.8 140.9 L606.5 140.7 L607.3 140.3 L608 140.2 L608.8 139.7 L609.5 139.5 L610.3 139 L611 138.8 L611.8 138.9 L612.5 138.7 L613.3 138.6 L614 138.8 L614.8 138.5 L615.5 138.1 L616.3 137.9 L617 137.4 L617.8 137.1 L618.5 137.1 L619.3 136.8 L620 136.4 L620.8 136.3 L621.5 136.1 L622.3 136 L623 135.6 L623.8 135.6 L624.5 135 L625.3 134.7 L626 134.9 L626.8 134.3 L627.5 134.5 L628.3 134.4 L629 134 L629.8 134.2 L630.5 134 L631.3 133.9 L632 133.9 L632.8 133.8 L633.5 133.7 L634.3 133.7 L635 133.4 L635.8 133 L636.5 132.6 L637.3 132.6 L638 132.7 L638.8 132.9 L639.5 133.1 L640.3 132.8 L641 132.5 L641.8 132.3 L642.5 132.3 L643.3 131.9 L644 131.9 L644.8 131.9 L645.5 131.5 L646.3 132.2 L647 132.3 L647.8 132.3 L648.5 132 L649.3 131.6 L650 131.2 L650.8 130.9 L651.5 131.1 L652.3 130.8 L653 130.9 L653.8 131.1 L654.5 131.2 L655.3 131.3 L656 130.7 L656.8 130.5 L657.5 130.5 L658.3 130.3 L659 130.5 L659.8 130.4 L660.5 130 L661.3 130.1 L662 129.9 L662.8 129.5 L663.5 129.6 L664.3 129.2 L665 129.3 L665.8 129.5 L666.5 129.2 L667.3 129.6 L668 129.4 L668.8 129.4 L669.5 129.6 L670.3 129.3 L671 129.3 L671.8 128.8 L672.5 128.6 L673.3 128.5 L674 128.8 L674.8 129.3 L675.5 129.1 L676.3 129.4 L677 129.1 L677.8 128.8 L678.5 129.1 L679.3 129 L680 128.8 L680.8 128.8 L681.5 128.7 L682.3 128.4 L683 128.5 L683.8 128.5 L684.5 128.3 L685.3 128.3 L686 128.2 L686.8 128.4 L687.5 128.5 L688.3 128.5 L689 128.6 L689.8 128.4 L690.5 128.4 L691.3 128.8 L692 128.4 L692.8 128.3 L693.5 128.1 L694.3 127.7 L695 128.2 L695.8 128.4 L696.5 128.1 L697.3 128.4 L698 127.8 L698.8 127.9" fill="none" stroke="#222" stroke-width="0.85" stroke-linejoin="round" />
<path d="M572.8 171.1 L573.5 170.1 L574.3 169.1 L575 168.2 L575.8 167.1 L576.5 166.2 L577.3 165.4 L578 164.3 L578.8 163.9 L579.5 162.8 L580.3 162 L581 161.1 L581.8 160.3 L582.5 159.7 L583.3 159.1 L584 158.6 L584.8 157.5 L585.5 157 L586.3 156.2 L587 155.5 L587.8 155.1 L588.5 154.6 L589.3 154.2 L590 154 L590.8 153.5 L591.5 152.7 L592.3 151.9 L593 151.2 L593.8 150.9 L594.5 150.6 L595.3 150.1 L596 149.5 L596.8 148.8 L597.5 148.2 L598.3 147.7 L599 146.8 L599.8 146.2 L600.5 145.9 L601.3 145.7 L602 145.4 L602.8 145.1 L603.5 144.1 L604.3 144.1 L605 144.2 L605.8 143.6 L606.5 143.7 L607.3 142.8 L608 142.6 L608.8 142.5 L609.5 141.8 L610.3 141.7 L611 141.1 L611.8 141 L612.5 140.9 L613.3 140.3 L614 139.9 L614.8 139.7 L615.5 139.7 L616.3 139.4 L617 139.8 L617.8 139.3 L618.5 138.7 L619.3 138.7 L620 138.1 L620.8 138.1 L621.5 137.9 L622.3 137.4 L623 137.6 L623.8 137.3 L624.5 136.9 L625.3 136.9 L626 136.2 L626.8 135.8 L627.5 135.9 L628.3 135.8 L629 135.7 L629.8 135.4 L630.5 135.3 L631.3 135.1 L632 135.4 L632.8 135.3 L633.5 135.1 L634.3 135 L635 134.3 L635.8 134.5 L636.5 134.3 L637.3 133.9 L638 133.9 L638.8 133.7 L639.5 133.3 L640.3 133.6 L641 133.7 L641.8 133.3 L642.5 133.7 L643.3 133.6 L644 133.5 L644.8 133.5 L645.5 133.4 L646.3 133.3 L647 132.9 L647.8 132.7 L648.5 132.2 L649.3 131.8 L650 131.6 L650.8 131.7 L651.5 131.7 L652.3 131.7 L653 132.1 L653.8 131.8 L654.5 131.6 L655.3 131.6 L656 131.2 L656.8 131.2 L657.5 131.3 L658.3 131.1 L659 131.4 L659.8 131.2 L660.5 131 L661.3 130.7 L662 130.4 L662.8 130.3 L663.5 130.4 L664.3 130.8 L665 130.9 L665.8 131.3 L666.5 131.2 L667.3 131.2 L668 130.9 L668.8 130.2 L669.5 129.9 L670.3 129.6 L671 129.6 L671.8 129.8 L672.5 129.4 L673.3 129.7 L674 129.6 L674.8 129.4 L675.5 129.8 L676.3 129.2 L677 129.5 L677.8 129.8 L678.5 129.6 L679.3 129.7 L680 129.4 L680.8 128.8 L681.5 129.1 L682.3 129.3 L683 129.2 L683.8 129.3 L684.5 129.1 L685.3 129.4 L686 129.2 L686.8 129.3 L687.5 128.8 L688.3 128.6 L689 128.8 L689.8 129.4 L690.5 129.6 L691.3 129.4 L692 129.2 L692.8 128.9 L693.5 128.6 L694.3 128.8 L695 129 L695.8 128.7 L696.5 128.8 L697.3 128.8 L698 129.1 L698.8 129.1" fill="none" stroke="#282828" stroke-width="0.8" stroke-linejoin="round" />
<path d="M572.8 180.7 L573.5 179.4 L574.3 178.1 L575 176.9 L575.8 175.8 L576.5 174.3 L577.3 172.9 L578 171.7 L578.8 170.9 L579.5 170 L580.3 169.1 L581 168.4 L581.8 167.4 L582.5 166.4 L583.3 165.5 L584 164.6 L584.8 163.7 L585.5 162.8 L586.3 162.1 L587 161.1 L587.8 160.5 L588.5 159.7 L589.3 159 L590 158.4 L590.8 157.3 L591.5 156.9 L592.3 156.2 L593 155.2 L593.8 155.1 L594.5 154.1 L595.3 153.1 L596 152.7 L596.8 151.8 L597.5 151.6 L598.3 151.2 L599 151 L599.8 150.3 L600.5 150 L601.3 150 L602 149.3 L602.8 148.2 L603.5 147.4 L604.3 146.2 L605 145.7 L605.8 145.8 L606.5 145.2 L607.3 144.8 L608 144.3 L608.8 143.9 L609.5 143.2 L610.3 143.2 L611 142.9 L611.8 142.6 L612.5 142.8 L613.3 142.1 L614 141.7 L614.8 141.6 L615.5 141.4 L616.3 141.4 L617 141 L617.8 140.4 L618.5 140.2 L619.3 139.9 L620 139.6 L620.8 139 L621.5 138.4 L622.3 137.6 L623 137.7 L623.8 137.9 L624.5 137.7 L625.3 137.8 L626 137.8 L626.8 137.8 L627.5 137.5 L628.3 137.3 L629 136.4 L629.8 135.6 L630.5 135.7 L631.3 136 L632 136.4 L632.8 136.5 L633.5 136.2 L634.3 135.6 L635 135.4 L635.8 134.9 L636.5 134.5 L637.3 134.6 L638 134.3 L638.8 134.8 L639.5 135.1 L640.3 134.8 L641 134.5 L641.8 134.2 L642.5 134.3 L643.3 134.1 L644 134 L644.8 134 L645.5 133.4 L646.3 132.8 L647 132.9 L647.8 132.9 L648.5 133.1 L649.3 133 L650 133 L650.8 132.7 L651.5 132.4 L652.3 132 L653 132 L653.8 131.9 L654.5 132 L655.3 132.1 L656 131.5 L656.8 131.5 L657.5 131.4 L658.3 131.8 L659 132 L659.8 131.8 L660.5 131.5 L661.3 131.2 L662 131 L662.8 130.9 L663.5 130.9 L664.3 131.1 L665 131.3 L665.8 131.1 L666.5 131.5 L667.3 131 L668 130.9 L668.8 131.2 L669.5 131 L670.3 130.8 L671 130.8 L671.8 130.8 L672.5 130.8 L673.3 130.7 L674 130.4 L674.8 130.1 L675.5 129.6 L676.3 130.3 L677 130.3 L677.8 130.5 L678.5 130.7 L679.3 130.1 L680 130 L680.8 129.6 L681.5 129.5 L682.3 129.9 L683 130 L683.8 130.3 L684.5 129.9 L685.3 129.1 L686 129 L686.8 128.9 L687.5 129.1 L688.3 129.5 L689 129.6 L689.8 129.9 L690.5 129.9 L691.3 129.9 L692 129.7 L692.8 129.6 L693.5 129.6 L694.3 129.9 L695 130.3 L695.8 130.1 L696.5 129.9 L697.3 129.9 L698 129.8 L698.8 129.7" fill="none" stroke="#2e2e2e" stroke-width="0.75" stroke-linejoin="round" />
<path d="M572.8 190 L573.5 188.3 L574.3 186.9 L575 185.3 L575.8 183.6 L576.5 182.3 L577.3 180.8 L578 179.7 L578.8 178.3 L579.5 177.1 L580.3 175.5 L581 174.4 L581.8 173.2 L582.5 172 L583.3 171.1 L584 170 L584.8 168.9 L585.5 168 L586.3 167.4 L587 166.6 L587.8 166 L588.5 165.1 L589.3 163.7 L590 162.8 L590.8 161.9 L591.5 161.1 L592.3 160.7 L593 159.6 L593.8 158.5 L594.5 157.8 L595.3 157.2 L596 156.2 L596.8 155.8 L597.5 155 L598.3 154.2 L599 153.9 L599.8 153.3 L600.5 152.8 L601.3 152.2 L602 151.3 L602.8 150.7 L603.5 149.9 L604.3 149 L605 148.9 L605.8 147.9 L606.5 147.6 L607.3 147.7 L608 147 L608.8 147 L609.5 146.4 L610.3 145.8 L611 145.2 L611.8 144.7 L612.5 144.3 L613.3 143.9 L614 143.8 L614.8 143.5 L615.5 143.2 L616.3 142.8 L617 142.7 L617.8 142.2 L618.5 142 L619.3 141.6 L620 141.2 L620.8 140.7 L621.5 140.4 L622.3 140.3 L623 139.9 L623.8 139.9 L624.5 139.6 L625.3 138.8 L626 138.7 L626.8 138.5 L627.5 138.1 L628.3 137.8 L629 137.5 L629.8 136.9 L630.5 137.2 L631.3 137.3 L632 137 L632.8 136.9 L633.5 136.3 L634.3 136 L635 135.7 L635.8 135.6 L636.5 135.2 L637.3 135.4 L638 135.2 L638.8 135.1 L639.5 134.9 L640.3 134.2 L641 134.7 L641.8 134.1 L642.5 134.4 L643.3 134.2 L644 133.8 L644.8 134.5 L645.5 133.7 L646.3 133.6 L647 133.7 L647.8 133.2 L648.5 133.4 L649.3 133.5 L650 133 L650.8 132.9 L651.5 133.2 L652.3 133 L653 133.1 L653.8 133.2 L654.5 133.2 L655.3 133.1 L656 133 L656.8 132.6 L657.5 132 L658.3 132 L659 131.7 L659.8 131.4 L660.5 131.1 L661.3 130.9 L662 131 L662.8 131.5 L663.5 131.7 L664.3 131.8 L665 131.8 L665.8 131.7 L666.5 131.7 L667.3 131.7 L668 131.8 L668.8 131.6 L669.5 131.4 L670.3 131.1 L671 130.7 L671.8 130.7 L672.5 131.1 L673.3 131.3 L674 131.4 L674.8 131.5 L675.5 131.5 L676.3 131.2 L677 131.3 L677.8 131.1 L678.5 130.7 L679.3 130.9 L680 130.5 L680.8 130.4 L681.5 129.9 L682.3 130 L683 130.1 L683.8 129.9 L684.5 130.3 L685.3 130.6 L686 130.7 L686.8 130.8 L687.5 131.1 L688.3 130.4 L689 130.3 L689.8 130.2 L690.5 129.8 L691.3 130.1 L692 130.2 L692.8 130.2 L693.5 130.2 L694.3 130 L695 129.8 L695.8 129.9 L696.5 129.8 L697.3 129.6 L698 129.7 L698.8 129.5" fill="none" stroke="#333" stroke-width="0.75" stroke-linejoin="round" />
<path d="M572.8 197.8 L573.5 195.9 L574.3 194.2 L575 192.5 L575.8 190.7 L576.5 189.4 L577.3 187.9 L578 186.4 L578.8 185.3 L579.5 183.6 L580.3 181.9 L581 180.5 L581.8 179.5 L582.5 178.3 L583.3 177.2 L584 175.9 L584.8 174.3 L585.5 173.3 L586.3 172.1 L587 171.2 L587.8 170.2 L588.5 168.9 L589.3 168 L590 166.9 L590.8 165.7 L591.5 164.5 L592.3 163.8 L593 162.9 L593.8 162 L594.5 161.5 L595.3 160.1 L596 159.2 L596.8 158.2 L597.5 157.2 L598.3 156.5 L599 155.8 L599.8 155.3 L600.5 154.5 L601.3 153.8 L602 153 L602.8 152.3 L603.5 152 L604.3 151.6 L605 151 L605.8 150.3 L606.5 149.7 L607.3 148.8 L608 148.3 L608.8 148 L609.5 147.3 L610.3 146.9 L611 146.2 L611.8 146.2 L612.5 145.8 L613.3 145.5 L614 145.4 L614.8 144.7 L615.5 144.5 L616.3 143.9 L617 143.1 L617.8 143.3 L618.5 142.8 L619.3 142.6 L620 142.5 L620.8 141.7 L621.5 141.2 L622.3 141 L623 140.6 L623.8 140.3 L624.5 140.3 L625.3 139.8 L626 139.4 L626.8 138.5 L627.5 138.4 L628.3 138 L629 137.8 L629.8 138.4 L630.5 137.9 L631.3 138.1 L632 137.9 L632.8 137.5 L633.5 137.4 L634.3 136.9 L635 137 L635.8 136.7 L636.5 136.2 L637.3 136.1 L638 135.7 L638.8 135.4 L639.5 135.6 L640.3 135.7 L641 135.8 L641.8 135.8 L642.5 135.6 L643.3 135 L644 134.4 L644.8 134.4 L645.5 134.2 L646.3 134.4 L647 134.3 L647.8 134 L648.5 133.7 L649.3 133.7 L650 133.7 L650.8 133.8 L651.5 134 L652.3 134.1 L653 133.5 L653.8 133.2 L654.5 132.9 L655.3 132.4 L656 132.9 L656.8 133 L657.5 133 L658.3 133 L659 133 L659.8 132.7 L660.5 132.6 L661.3 132.7 L662 132.4 L662.8 132.7 L663.5 132.8 L664.3 132.7 L665 132.4 L665.8 131.9 L666.5 131.7 L667.3 131 L668 131.2 L668.8 131.5 L669.5 131.4 L670.3 131.8 L671 131.9 L671.8 131.7 L672.5 131.8 L673.3 132.2 L674 132.1 L674.8 132.2 L675.5 132.1 L676.3 131.7 L677 131.5 L677.8 131.3 L678.5 131.4 L679.3 131 L680 130.9 L680.8 130.9 L681.5 130.5 L682.3 130.8 L683 130.7 L683.8 130.6 L684.5 130.9 L685.3 131.2 L686 131.4 L686.8 131.1 L687.5 131 L688.3 130.8 L689 130.9 L689.8 130.6 L690.5 130.6 L691.3 130.1 L692 130 L692.8 130.4 L693.5 130.4 L694.3 130.9 L695 130.9 L695.8 130.6 L696.5 130.6 L697.3 130.6 L698 130.5 L698.8 130.6" fill="none" stroke="#383838" stroke-width="0.7" stroke-linejoin="round" />
<path d="M572.8 204.8 L573.5 202.6 L574.3 200.5 L575 199 L575.8 197.3 L576.5 195.9 L577.3 194.4 L578 192.3 L578.8 190.5 L579.5 188.9 L580.3 187.5 L581 185.8 L581.8 183.9 L582.5 182.2 L583.3 180.3 L584 179 L584.8 178 L585.5 176.4 L586.3 174.8 L587 173.7 L587.8 172.4 L588.5 171.5 L589.3 171 L590 169.9 L590.8 168.8 L591.5 167.5 L592.3 165.9 L593 164.8 L593.8 164.1 L594.5 163.4 L595.3 163.2 L596 162.3 L596.8 160.9 L597.5 160.1 L598.3 159.1 L599 158.1 L599.8 157.4 L600.5 156.5 L601.3 155.7 L602 155 L602.8 154.5 L603.5 153.7 L604.3 152.6 L605 152 L605.8 151.4 L606.5 150.9 L607.3 150.4 L608 149.6 L608.8 149.3 L609.5 148.7 L610.3 148.3 L611 148 L611.8 147.3 L612.5 146.7 L613.3 146.3 L614 146 L614.8 145.6 L615.5 145.3 L616.3 144.7 L617 144.3 L617.8 144.1 L618.5 143.7 L619.3 143.5 L620 143 L620.8 142.3 L621.5 142.4 L622.3 142 L623 141.8 L623.8 141.5 L624.5 141 L625.3 140.6 L626 139.9 L626.8 139.5 L627.5 139.2 L628.3 138.9 L629 139.1 L629.8 139 L630.5 139 L631.3 139 L632 138.2 L632.8 138 L633.5 137.7 L634.3 137.2 L635 137.2 L635.8 137 L636.5 137 L637.3 137.1 L638 137.1 L638.8 136.9 L639.5 136.7 L640.3 136.7 L641 136.8 L641.8 136.5 L642.5 136.2 L643.3 135.7 L644 135.4 L644.8 135.1 L645.5 135.1 L646.3 134.8 L647 134.5 L647.8 134.5 L648.5 134.1 L649.3 134.1 L650 133.7 L650.8 133.7 L651.5 133.7 L652.3 133.6 L653 134 L653.8 133.7 L654.5 133.5 L655.3 133.8 L656 133.5 L656.8 133.6 L657.5 134 L658.3 133.4 L659 133.4 L659.8 133 L660.5 132.8 L661.3 132.7 L662 132.4 L662.8 132.8 L663.5 132.7 L664.3 132.5 L665 132.8 L665.8 132.6 L666.5 132.8 L667.3 133.3 L668 132.9 L668.8 132.7 L669.5 132 L670.3 131.6 L671 131.7 L671.8 131.8 L672.5 132 L673.3 131.6 L674 131.4 L674.8 131.5 L675.5 131.6 L676.3 131.8 L677 131.9 L677.8 131.6 L678.5 131.3 L679.3 131 L680 131.1 L680.8 131 L681.5 131 L682.3 130.8 L683 130.6 L683.8 131 L684.5 130.5 L685.3 131.2 L686 131.2 L686.8 130.8 L687.5 130.9 L688.3 130.8 L689 130.7 L689.8 131 L690.5 131.2 L691.3 130.8 L692 130.9 L692.8 130.6 L693.5 130.8 L694.3 130.6 L695 130.2 L695.8 130.1 L696.5 130.1 L697.3 130.1 L698 130 L698.8 130.4" fill="none" stroke="#3c3c3c" stroke-width="0.7" stroke-linejoin="round" />
<path d="M572.8 210.2 L573.5 207.7 L574.3 205.4 L575 203.2 L575.8 201 L576.5 199.1 L577.3 197.2 L578 195.3 L578.8 193.7 L579.5 192.3 L580.3 190.7 L581 189.1 L581.8 187.4 L582.5 185.6 L583.3 184.1 L584 182.3 L584.8 181 L585.5 179.9 L586.3 178.6 L587 177.7 L587.8 176.4 L588.5 175.3 L589.3 174.1 L590 172.5 L590.8 171.1 L591.5 169.7 L592.3 168.8 L593 168.2 L593.8 167.5 L594.5 166.4 L595.3 164.9 L596 163.7 L596.8 162.2 L597.5 161.2 L598.3 160.4 L599 159.7 L599.8 159.2 L600.5 158.1 L601.3 157.7 L602 157.1 L602.8 156.1 L603.5 155.8 L604.3 155.1 L605 154.2 L605.8 153.9 L606.5 153.3 L607.3 152.8 L608 152.2 L608.8 151.4 L609.5 150.9 L610.3 150.3 L611 149.8 L611.8 149.2 L612.5 148.4 L613.3 147.7 L614 147.1 L614.8 146.7 L615.5 146.4 L616.3 146 L617 145.7 L617.8 145.3 L618.5 145.1 L619.3 145 L620 144.5 L620.8 144.1 L621.5 143.4 L622.3 142.8 L623 142.5 L623.8 142 L624.5 141.4 L625.3 140.7 L626 140.4 L626.8 140.5 L627.5 140.3 L628.3 140.6 L629 140.2 L629.8 139.7 L630.5 139.5 L631.3 139.1 L632 138.9 L632.8 138.1 L633.5 138.1 L634.3 137.9 L635 137.2 L635.8 137.5 L636.5 137.3 L637.3 137.1 L638 137.5 L638.8 137.1 L639.5 136.7 L640.3 136.4 L641 136.1 L641.8 136.4 L642.5 136.8 L643.3 136.6 L644 136.5 L644.8 135.9 L645.5 135.5 L646.3 135.3 L647 135.1 L647.8 135.3 L648.5 135.2 L649.3 134.9 L650 134.6 L650.8 134 L651.5 133.7 L652.3 134 L653 134.1 L653.8 133.9 L654.5 133.8 L655.3 133.7 L656 133.6 L656.8 133.8 L657.5 133.7 L658.3 133.5 L659 133.2 L659.8 133.2 L660.5 132.8 L661.3 132.9 L662 133.1 L662.8 132.8 L663.5 133 L664.3 133 L665 132.4 L665.8 132.5 L666.5 132.7 L667.3 132.1 L668 132.4 L668.8 132.1 L669.5 131.7 L670.3 131.5 L671 131.2 L671.8 131.3 L672.5 131.3 L673.3 131.7 L674 132.1 L674.8 132.4 L675.5 132.4 L676.3 132.4 L677 132.1 L677.8 131.8 L678.5 132.3 L679.3 132.5 L680 132.8 L680.8 133 L681.5 132.5 L682.3 131.9 L683 132.1 L683.8 131.9 L684.5 131.6 L685.3 132.1 L686 131.3 L686.8 131.4 L687.5 131 L688.3 130.4 L689 130.8 L689.8 130.6 L690.5 131 L691.3 130.9 L692 130.9 L692.8 130.7 L693.5 130.6 L694.3 130.4 L695 130.5 L695.8 130.5 L696.5 130.7 L697.3 130.9 L698 130.6 L698.8 131.1" fill="none" stroke="#404040" stroke-width="0.7" stroke-linejoin="round" />
<line x1="139.5" y1="265" x2="139.5" y2="299" stroke="#555" stroke-width="1.0"/>
<path d="M132.5 291.2 L132.8 295 L133.2 294.2 L133.5 293 L133.8 294.8 L134.2 294.3 L134.5 297 L134.8 294.1 L135.1 297 L135.5 296.3 L135.8 293.9 L136.1 293.7 L136.5 296.2 L136.8 294.5 L137.1 294.9 L137.5 294.4 L137.8 293.2 L138.1 294.2 L138.4 293.5 L138.8 292.8 L139.1 294.3 L139.4 296.8 L139.8 296.6 L140.1 294.6 L140.4 294.8 L140.8 295.3 L141.1 296.3 L141.4 295 L141.7 294.1 L142.1 294.2 L142.4 296 L142.7 297.8 L143.1 293.9 L143.4 292.2 L143.7 295.6 L144.1 294.6 L144.4 294.8 L144.7 295.8 L145 294 L145.4 291.7 L145.7 290.1 L146 291.6 L146.4 289.4 L146.7 290.3 L147 287.6 L147.4 287.7 L147.7 285.3 L148 285.5 L148.3 284.2 L148.7 284.2 L149 284 L149.3 281 L149.7 279.1 L150 281.3 L150.3 278.3 L150.7 277.5 L151 276.3 L151.3 276.3 L151.6 274.7 L152 273.2 L152.3 272.3 L152.6 269.3 L153 268.6 L153.3 268.3 L153.6 267.5 L154 266.5 L154.3 265.9 L154.6 264.6 L154.9 263.2 L155.3 260.8 L155.6 262.8 L155.9 261.7 L156.3 259.1 L156.6 260 L156.9 259.2 L157.3 258.2 L157.6 255.3 L157.9 255.4 L158.2 255.6 L158.6 257.8 L158.9 254.3 L159.2 254.5 L159.6 253.2 L159.9 253.6 L160.2 254.2 L160.6 251 L160.9 249.8 L161.2 253.7 L161.5 252.6 L161.9 251.6 L162.2 253.2 L162.5 252.9 L162.9 249 L163.2 251 L163.5 252.3 L163.9 249.9 L164.2 250.1 L164.5 251.4 L164.8 249.7 L165.2 248.4 L165.5 248.9 L165.8 248 L166.2 250 L166.5 247.2 L166.8 250.3 L167.2 247 L167.5 248.9 L167.8 246.9 L168.1 248.2 L168.5 249.7 L168.8 249.7 L169.1 249.8 L169.5 248 L169.8 248.2 L170.1 248.2 L170.5 248.6 L170.8 247.3 L171.1 249 L171.4 248 L171.8 248.9 L172.1 248 L172.4 248.2 L172.8 246.4 L173.1 246.7 L173.4 245.6 L173.8 246.7 L174.1 246.8 L174.4 248 L174.7 245.4 L175.1 250.7 L175.4 246.7 L175.7 248.3 L176.1 248 L176.4 243.7 L176.7 246.4 L177.1 248.4 L177.4 243.7 L177.7 247.5 L178 245.5 L178.4 246 L178.7 246.8 L179 244.3 L179.4 246.7 L179.7 245.7 L180 245.5 L180.4 247.2 L180.7 250.6 L181 246.8 L181.3 247 L181.7 246.3 L182 245.4 L182.3 246.6 L182.7 248.1 L183 246.5 L183.3 247.3 L183.7 246 L184 249.3 L184.3 244.2 L184.6 246.9 L185 246.8 L185.3 246.5 L185.6 244.8 L186 244.8 L186.3 245.9 L186.6 246.3 L187 244.7 L187.3 244.9 L187.6 246.8 L187.9 247.4 L188.3 245.5 L188.6 245.3 L188.9 245.3 L189.3 249.1 L189.6 246.7 L189.9 246 L190.3 247.3 L190.6 248.9 L190.9 247.5 L191.2 244.4 L191.6 246 L191.9 245.6 L192.2 245.7 L192.6 244.6 L192.9 245.6 L193.2 244.8 L193.6 246.5 L193.9 246.1 L194.2 244.4 L194.5 244 L194.9 245.5 L195.2 246.9 L195.5 246.7 L195.9 246 L196.2 242.1 L196.5 245.5 L196.9 245.2 L197.2 245.6 L197.5 244.6 L197.8 245.5 L198.2 245.2 L198.5 249.3 L198.8 246.9 L199.2 245.8 L199.5 246 L199.8 245.9 L200.2 246.3 L200.5 245.5 L200.8 246 L201.1 247.3 L201.5 247 L201.8 246.4 L202.1 247.6 L202.5 246.3 L202.8 244.8 L203.1 243.9 L203.5 245.2 L203.8 245.9 L204.1 246.5 L204.4 247.3 L204.8 245.3 L205.1 245 L205.4 246.9 L205.8 247.4 L206.1 245.4 L206.4 246.4 L206.8 247.6 L207.1 246.4 L207.4 245.9 L207.7 243.5 L208.1 247.6 L208.4 246.8 L208.7 246.1 L209.1 245.4 L209.4 244.5 L209.7 245.9 L210.1 245.8 L210.4 247.3 L210.7 244.5 L211 247.7 L211.4 246 L211.7 247.4 L212 244.8 L212.4 246.4 L212.7 247.4 L213 246.1 L213.4 244.2 L213.7 245.6 L214 246.6 L214.3 244.3 L214.7 244.2 L215 246.2 L215.3 244.8 L215.7 246.8 L216 244.5 L216.3 243.8 L216.7 245 L217 247.8 L217.3 244.9 L217.6 246 L218 246.3 L218.3 244.8 L218.6 247.3 L219 246.2 L219.3 246.5 L219.6 243.9 L220 243.9 L220.3 242.6 L220.6 245.7 L220.9 245.7 L221.3 246.8 L221.6 247.7 L221.9 245.6 L222.3 245.6 L222.6 246.5 L222.9 247.8 L223.3 245 L223.6 246.7 L223.9 245.7" fill="none" stroke="#000" stroke-width="1.6" stroke-linejoin="round" />
<path d="M132.5 295.6 L132.8 293.7 L133.2 293.4 L133.5 295.5 L133.8 294.6 L134.2 294.3 L134.5 294.5 L134.8 295.3 L135.1 294.2 L135.5 295.6 L135.8 295.2 L136.1 296.4 L136.5 296.2 L136.8 295.7 L137.1 294.4 L137.5 294.8 L137.8 293.9 L138.1 298.1 L138.4 294.4 L138.8 295.3 L139.1 296.3 L139.4 293 L139.8 293.7 L140.1 294.2 L140.4 293.5 L140.8 293.1 L141.1 294 L141.4 296.2 L141.7 295.5 L142.1 294.7 L142.4 294.7 L142.7 292.7 L143.1 295.5 L143.4 295.2 L143.7 293.4 L144.1 294.9 L144.4 294.4 L144.7 293.7 L145 292.7 L145.4 292.4 L145.7 291.3 L146 292.2 L146.4 291.2 L146.7 290.4 L147 288.9 L147.4 287.6 L147.7 289.5 L148 283.7 L148.3 286.1 L148.7 283.9 L149 282.4 L149.3 280.6 L149.7 279.8 L150 277.6 L150.3 276.2 L150.7 276.6 L151 273.6 L151.3 275.5 L151.6 274.8 L152 268.3 L152.3 269.5 L152.6 270.7 L153 269.6 L153.3 268.5 L153.6 267.9 L154 267.4 L154.3 266.6 L154.6 266.8 L154.9 263.7 L155.3 263.8 L155.6 259.9 L155.9 260.8 L156.3 258.7 L156.6 261.1 L156.9 261.5 L157.3 258.7 L157.6 255.9 L157.9 256.8 L158.2 256.4 L158.6 256.1 L158.9 256.7 L159.2 256.1 L159.6 251.4 L159.9 255.8 L160.2 253.2 L160.6 252.8 L160.9 254.9 L161.2 252.6 L161.5 251 L161.9 250.7 L162.2 252.1 L162.5 252.8 L162.9 253.3 L163.2 251 L163.5 250.4 L163.9 252.7 L164.2 249.9 L164.5 252 L164.8 250.3 L165.2 250.2 L165.5 249.4 L165.8 249.9 L166.2 248.8 L166.5 248.4 L166.8 248.9 L167.2 248.2 L167.5 249.2 L167.8 248.8 L168.1 248.2 L168.5 248.2 L168.8 248.1 L169.1 250.3 L169.5 248.1 L169.8 247.3 L170.1 247.6 L170.5 248.6 L170.8 247.5 L171.1 247.5 L171.4 247.3 L171.8 247.7 L172.1 247.9 L172.4 247.9 L172.8 245.3 L173.1 245.9 L173.4 244 L173.8 248.1 L174.1 248.4 L174.4 248.5 L174.7 247.1 L175.1 248.2 L175.4 246.8 L175.7 246.6 L176.1 244.9 L176.4 245.8 L176.7 246 L177.1 247.7 L177.4 248.6 L177.7 246 L178 247 L178.4 246.9 L178.7 245.6 L179 244.4 L179.4 245.6 L179.7 244.7 L180 246 L180.4 246.2 L180.7 246.2 L181 246.2 L181.3 246.9 L181.7 245.2 L182 247.4 L182.3 244.3 L182.7 246.4 L183 246.7 L183.3 245.3 L183.7 244.3 L184 247 L184.3 245.4 L184.6 247.1 L185 247.1 L185.3 246.2 L185.6 246.2 L186 247.4 L186.3 246.6 L186.6 245.1 L187 246.4 L187.3 246.8 L187.6 246.4 L187.9 246.4 L188.3 246 L188.6 246 L188.9 245 L189.3 244.4 L189.6 247.5 L189.9 245.4 L190.3 246.4 L190.6 244.3 L190.9 246.3 L191.2 245.1 L191.6 249.7 L191.9 244.9 L192.2 245 L192.6 247.2 L192.9 247.5 L193.2 243.6 L193.6 246.4 L193.9 247.1 L194.2 244.6 L194.5 246.9 L194.9 245.5 L195.2 244.9 L195.5 245.7 L195.9 245.5 L196.2 244.4 L196.5 248.7 L196.9 245.5 L197.2 245.2 L197.5 247.1 L197.8 246 L198.2 247.6 L198.5 245.7 L198.8 246.5 L199.2 246.2 L199.5 246.2 L199.8 245.8 L200.2 245.9 L200.5 248 L200.8 245.2 L201.1 245.4 L201.5 245.6 L201.8 246.7 L202.1 246.5 L202.5 247.1 L202.8 244.4 L203.1 246.3 L203.5 245.8 L203.8 245.7 L204.1 246.2 L204.4 243.7 L204.8 246.3 L205.1 246.2 L205.4 244.3 L205.8 245.9 L206.1 247.9 L206.4 245.5 L206.8 246.7 L207.1 245.7 L207.4 245 L207.7 244.9 L208.1 245.5 L208.4 247.5 L208.7 247 L209.1 245.2 L209.4 247.2 L209.7 245.8 L210.1 245.2 L210.4 246.5 L210.7 244.9 L211 244.1 L211.4 247.5 L211.7 243.8 L212 246.6 L212.4 244.2 L212.7 245.9 L213 245.7 L213.4 245.5 L213.7 243.4 L214 245.9 L214.3 245.9 L214.7 244.9 L215 245.9 L215.3 247.2 L215.7 245.1 L216 246.3 L216.3 244.6 L216.7 246.4 L217 246.7 L217.3 248.9 L217.6 247 L218 246.5 L218.3 247.6 L218.6 244.8 L219 247.2 L219.3 245.3 L219.6 245.2 L220 247.3 L220.3 246.2 L220.6 247.5 L220.9 244.3 L221.3 246.3 L221.6 245.4 L221.9 245.7 L222.3 243.7 L222.6 247.1 L222.9 246.2 L223.3 244.8 L223.6 244.4 L223.9 244.9" fill="none" stroke="#000" stroke-width="1.6" stroke-linejoin="round" />
<path d="M132.5 294.6 L132.8 294.3 L133.2 295.3 L133.5 294.7 L133.8 295 L134.2 295.6 L134.5 295.1 L134.8 295.7 L135.1 293.3 L135.5 294.8 L135.8 294.3 L136.1 294.8 L136.5 294.6 L136.8 293.9 L137.1 294.3 L137.5 295.8 L137.8 294 L138.1 293.2 L138.4 295.4 L138.8 295.8 L139.1 294.4 L139.4 294.8 L139.8 293.7 L140.1 294.5 L140.4 296 L140.8 295.6 L141.1 294.9 L141.4 294.4 L141.7 292.8 L142.1 295.1 L142.4 295.2 L142.7 295.9 L143.1 297.1 L143.4 295.1 L143.7 295.8 L144.1 293.4 L144.4 296.1 L144.7 295.4 L145 295.5 L145.4 294.1 L145.7 293 L146 293.4 L146.4 290.1 L146.7 290.8 L147 290.4 L147.4 287.3 L147.7 285.7 L148 286.4 L148.3 284.9 L148.7 284.3 L149 283.1 L149.3 280.4 L149.7 280.6 L150 280.4 L150.3 277.5 L150.7 276.4 L151 274.3 L151.3 275.5 L151.6 275.8 L152 270.9 L152.3 272.3 L152.6 271.5 L153 268.8 L153.3 268 L153.6 266.2 L154 265.6 L154.3 265.8 L154.6 265.4 L154.9 263.8 L155.3 263.8 L155.6 262.1 L155.9 259.6 L156.3 261.9 L156.6 260.8 L156.9 257.9 L157.3 260.2 L157.6 258.1 L157.9 257.1 L158.2 258.6 L158.6 253 L158.9 253.5 L159.2 255.8 L159.6 254.3 L159.9 253.1 L160.2 255.6 L160.6 254.1 L160.9 251.8 L161.2 252.2 L161.5 253.7 L161.9 254.5 L162.2 249.8 L162.5 252.1 L162.9 251.1 L163.2 249.2 L163.5 250.8 L163.9 248.9 L164.2 249.9 L164.5 252.2 L164.8 250.7 L165.2 250.9 L165.5 250.5 L165.8 250 L166.2 250.6 L166.5 247.9 L166.8 248.7 L167.2 250 L167.5 248 L167.8 248.2 L168.1 250 L168.5 250.3 L168.8 247.7 L169.1 247.3 L169.5 248.9 L169.8 248.4 L170.1 247.2 L170.5 248.6 L170.8 248.5 L171.1 247.9 L171.4 251.1 L171.8 249.2 L172.1 248.5 L172.4 248.6 L172.8 250.8 L173.1 248.6 L173.4 246.4 L173.8 247.5 L174.1 247.2 L174.4 246.4 L174.7 247.3 L175.1 247.2 L175.4 246.8 L175.7 246.3 L176.1 247.8 L176.4 244.9 L176.7 247.7 L177.1 246.7 L177.4 247 L177.7 243.9 L178 248.6 L178.4 244.6 L178.7 245.6 L179 247.3 L179.4 245.8 L179.7 246.1 L180 243.9 L180.4 246 L180.7 246.7 L181 247.2 L181.3 246.1 L181.7 246.7 L182 246.9 L182.3 245.6 L182.7 245.5 L183 248.7 L183.3 245.3 L183.7 247.8 L184 246.4 L184.3 248 L184.6 245.5 L185 246.9 L185.3 246.7 L185.6 246 L186 246.6 L186.3 245.4 L186.6 246.2 L187 245.8 L187.3 247.1 L187.6 246.1 L187.9 244.6 L188.3 245.8 L188.6 246.1 L188.9 245.2 L189.3 247.8 L189.6 246.7 L189.9 247.2 L190.3 245.3 L190.6 245.7 L190.9 247.4 L191.2 244.5 L191.6 246.6 L191.9 246.3 L192.2 245.6 L192.6 246.3 L192.9 244.9 L193.2 246.5 L193.6 244.8 L193.9 244.7 L194.2 247.8 L194.5 245.3 L194.9 243.7 L195.2 247.3 L195.5 245.3 L195.9 242 L196.2 246.1 L196.5 247.3 L196.9 246.6 L197.2 248.2 L197.5 246 L197.8 246.9 L198.2 245 L198.5 246.3 L198.8 247.9 L199.2 246.7 L199.5 246.3 L199.8 243.8 L200.2 245.7 L200.5 244.6 L200.8 247 L201.1 245.3 L201.5 246.6 L201.8 244.9 L202.1 248.3 L202.5 244.7 L202.8 246.3 L203.1 249.2 L203.5 246.4 L203.8 245.1 L204.1 246.8 L204.4 247.3 L204.8 247.1 L205.1 243.8 L205.4 246.4 L205.8 243.6 L206.1 248.3 L206.4 246.2 L206.8 245.6 L207.1 246.9 L207.4 246.7 L207.7 244.7 L208.1 248 L208.4 245.8 L208.7 244 L209.1 247.7 L209.4 247.9 L209.7 247.6 L210.1 246.7 L210.4 245 L210.7 247.2 L211 248.3 L211.4 247 L211.7 248 L212 245.2 L212.4 247.3 L212.7 247.2 L213 244.3 L213.4 244.1 L213.7 245.2 L214 246.2 L214.3 246.6 L214.7 245.8 L215 246 L215.3 245.9 L215.7 246.2 L216 246.8 L216.3 246.7 L216.7 246 L217 246.4 L217.3 245.5 L217.6 247 L218 245.5 L218.3 248 L218.6 246 L219 246.4 L219.3 245.2 L219.6 245.7 L220 246.3 L220.3 246.1 L220.6 245.3 L220.9 244.7 L221.3 246.1 L221.6 246.2 L221.9 246.7 L222.3 247.5 L222.6 245.7 L222.9 243.7 L223.3 245.9 L223.6 243.9 L223.9 244.5" fill="none" stroke="#000" stroke-width="1.6" stroke-linejoin="round" />
<line x1="224.5" y1="243" x2="224.5" y2="356" stroke="#333" stroke-width="1.0"/>
<path d="M224.4 255.6 L224.9 254.5 L225.4 254.5 L225.9 255 L226.4 253.5 L226.9 255.5 L227.4 254.8 L227.9 256.7 L228.4 254.1 L228.9 256 L229.4 254.5 L229.9 256 L230.4 254.2 L230.9 255.8 L231.4 254.7 L231.9 254.4 L232.4 255 L232.9 255.6 L233.4 255.5 L233.9 256.6 L234.4 255.9 L234.9 252.8 L235.4 254.8 L235.9 253.4 L236.4 254.8 L236.9 255.7 L237.4 254 L237.9 254.1 L238.4 255.3 L238.9 254.9 L239.4 256.6 L239.9 255.5 L240.4 255.7 L240.9 256.8 L241.4 254.8 L241.9 255.2 L242.4 254.3 L242.9 255.5 L243.4 256.2 L243.9 256.5 L244.4 255.2 L244.9 254.6 L245.4 254.6 L245.9 254 L246.4 255.4 L246.9 256.5 L247.4 253.2 L247.9 253.3 L248.4 256.6 L248.9 253.9 L249.4 255.6 L249.9 254.2 L250.4 256 L250.9 256 L251.4 255.5 L251.9 256.1 L252.4 255.4 L252.9 255.8 L253.4 257 L253.9 256.3 L254.4 254.8 L254.9 254.6 L255.4 255.1 L255.9 255.2 L256.4 255.4 L256.9 254.8 L257.4 256 L257.9 255.4 L258.4 255.7 L258.9 255.4 L259.4 256 L259.9 254.3 L260.4 256.8 L260.9 255.7 L261.4 255.8 L261.9 256 L262.4 256.4 L262.9 256.1 L263.4 255.7 L263.9 255.3 L264.4 254 L264.9 255.6 L265.4 255.2 L265.9 255.2 L266.4 257.6 L266.9 253.8 L267.4 255.5 L267.9 256.6 L268.4 256.4 L268.9 256.6 L269.4 254.4 L269.9 254.6 L270.4 256.1 L270.9 255.2 L271.4 257.1 L271.9 255.7 L272.4 255.7 L272.9 255.9 L273.4 255.3 L273.9 255.6 L274.4 254.9 L274.9 255.5 L275.4 255.1 L275.9 255.8 L276.4 254.3 L276.9 254.2 L277.4 256 L277.9 255.8 L278.4 254.7 L278.9 255.4 L279.4 254.6 L279.9 257.4 L280.4 254.2 L280.9 257.1 L281.4 254.9 L281.9 256 L282.4 255.4 L282.9 255.3 L283.4 256.5 L283.9 256.4 L284.4 255.4 L284.9 254.8 L285.4 257.5 L285.9 256.9 L286.4 255.8 L286.9 255.4 L287.4 255.9 L287.9 255.7 L288.4 256.7 L288.9 254.8 L289.4 255.7 L289.9 255 L290.4 256.9 L290.9 257.3 L291.4 255.6 L291.9 256.2 L292.4 257 L292.9 255.4 L293.4 254.9 L293.9 256.6 L294.4 256.2 L294.9 255.5 L295.4 257 L295.9 255.9 L296.4 254.1 L296.9 256 L297.4 255.7 L297.9 257.4 L298.4 255.7 L298.9 255.6 L299.4 256.1 L299.9 256 L300.4 254.5 L300.9 255.9 L301.4 255.5 L301.9 257 L302.4 257.9 L302.9 254.8 L303.4 254.9 L303.9 255 L304.4 255.2 L304.9 255.2 L305.4 255.8 L305.9 256.8 L306.4 254.6 L306.9 254.4 L307.4 254.1 L307.9 256.8 L308.4 257 L308.9 254.4 L309.4 254.4 L309.9 255.9 L310.4 256.8 L310.9 256.7 L311.4 256 L311.9 256.5 L312.4 256.1 L312.9 255.3 L313.4 257.6 L313.9 255.9 L314.4 254.9 L314.9 255.4 L315.4 254.5 L315.9 255.9 L316.4 256.9 L316.9 254.7 L317.4 256.9 L317.9 257.8 L318.4 256.2 L318.9 254.8 L319.4 255.1 L319.9 255.6 L320.4 254.7 L320.9 254.8 L321.4 255.7 L321.9 255.7 L322.4 256.5 L322.9 254.8 L323.4 257.6 L323.9 256.9 L324.4 256.7 L324.9 255.3 L325.4 257.5 L325.9 255.6 L326.4 257.6 L326.9 256.9 L327.4 255.1 L327.9 255.5 L328.4 257.6 L328.9 256.9 L329.4 255.8 L329.9 256.1 L330.4 256.1 L330.9 255.3 L331.4 255.8 L331.9 255.4 L332.4 255.6 L332.9 256.4 L333.4 255.1 L333.9 256.6 L334.4 256.1 L334.9 256.7 L335.4 256.8 L335.9 257.1 L336.4 256.6 L336.9 256.6 L337.4 255.8 L337.9 256.5 L338.4 255.2 L338.9 255.8 L339.4 256.7 L339.9 256 L340.4 256.4 L340.9 255.1 L341.4 257.3 L341.9 255.5 L342.4 256.4 L342.9 256 L343.4 256.9 L343.9 255.7 L344.4 255.1 L344.9 254.3 L345.4 255.8 L345.9 255 L346.4 256.5 L346.9 257.4 L347.4 254.1 L347.9 254.9 L348.4 256.3 L348.9 257.2 L349.4 256.4 L349.9 256.4 L350.4 256.5 L350.9 256.6" fill="none" stroke="#0a0a0a" stroke-width="1.05" stroke-linejoin="round" />
<path d="M224.4 261.6 L224.9 260 L225.4 260.7 L225.9 261.3 L226.4 260.4 L226.9 260.9 L227.4 260.6 L227.9 260.5 L228.4 261.7 L228.9 260.8 L229.4 260.1 L229.9 260.5 L230.4 261.2 L230.9 263 L231.4 261.4 L231.9 262.5 L232.4 261.6 L232.9 259.2 L233.4 261.5 L233.9 260.4 L234.4 259.9 L234.9 260.2 L235.4 262.8 L235.9 259.7 L236.4 260.6 L236.9 262.2 L237.4 261.8 L237.9 259.6 L238.4 261.1 L238.9 260.7 L239.4 261 L239.9 261.9 L240.4 260.7 L240.9 260.9 L241.4 262.5 L241.9 259.5 L242.4 260.9 L242.9 261.6 L243.4 260.1 L243.9 260.7 L244.4 260 L244.9 261.4 L245.4 260.7 L245.9 261.9 L246.4 262.2 L246.9 261.3 L247.4 260.9 L247.9 261.5 L248.4 261.3 L248.9 260.2 L249.4 262.2 L249.9 261.5 L250.4 262 L250.9 260 L251.4 262.1 L251.9 263.2 L252.4 261.8 L252.9 260 L253.4 261.3 L253.9 261.2 L254.4 261.5 L254.9 261.1 L255.4 261.7 L255.9 260.9 L256.4 261.5 L256.9 260.7 L257.4 261.4 L257.9 262.2 L258.4 260.9 L258.9 261.9 L259.4 260.5 L259.9 261 L260.4 261.1 L260.9 262.5 L261.4 260.6 L261.9 262.4 L262.4 260 L262.9 261.2 L263.4 262.2 L263.9 262 L264.4 260.4 L264.9 260.2 L265.4 262.2 L265.9 260.2 L266.4 261.9 L266.9 260.9 L267.4 261.4 L267.9 263.5 L268.4 262.8 L268.9 262.1 L269.4 260.1 L269.9 261.7 L270.4 261.4 L270.9 261.3 L271.4 262.6 L271.9 259.8 L272.4 261.7 L272.9 261.5 L273.4 260.7 L273.9 263 L274.4 260.3 L274.9 261.4 L275.4 261.5 L275.9 259.4 L276.4 260.1 L276.9 260.5 L277.4 262.1 L277.9 262.3 L278.4 262 L278.9 261.6 L279.4 259.4 L279.9 261.6 L280.4 261 L280.9 262.5 L281.4 262.7 L281.9 263.5 L282.4 262.1 L282.9 262.2 L283.4 260.5 L283.9 261.5 L284.4 260.3 L284.9 262.3 L285.4 260.4 L285.9 261.3 L286.4 260.7 L286.9 261 L287.4 261.9 L287.9 261 L288.4 261.7 L288.9 260.6 L289.4 262.8 L289.9 260.9 L290.4 262.4 L290.9 263.4 L291.4 259.3 L291.9 260.6 L292.4 261.3 L292.9 262.6 L293.4 261.1 L293.9 261.9 L294.4 260.8 L294.9 262 L295.4 260.4 L295.9 262.3 L296.4 258.8 L296.9 259.8 L297.4 263.2 L297.9 261.7 L298.4 260.7 L298.9 263.5 L299.4 262.5 L299.9 262.6 L300.4 261.2 L300.9 262.1 L301.4 262 L301.9 260 L302.4 262.1 L302.9 261.4 L303.4 262.7 L303.9 262.8 L304.4 261 L304.9 261 L305.4 261.7 L305.9 262.2 L306.4 261.2 L306.9 261.5 L307.4 262.1 L307.9 262 L308.4 262.6 L308.9 261.8 L309.4 260.8 L309.9 260 L310.4 262.3 L310.9 261.3 L311.4 261.3 L311.9 261.3 L312.4 260.1 L312.9 261.2 L313.4 259.2 L313.9 261.2 L314.4 260.8 L314.9 263.3 L315.4 262 L315.9 261.4 L316.4 261.8 L316.9 262.3 L317.4 260.9 L317.9 261.4 L318.4 261.3 L318.9 263.9 L319.4 261.7 L319.9 259.8 L320.4 262.4 L320.9 264 L321.4 260.8 L321.9 264.8 L322.4 261.6 L322.9 262.6 L323.4 261.1 L323.9 261.4 L324.4 260.5 L324.9 260.7 L325.4 259.7 L325.9 262.7 L326.4 260.6 L326.9 262 L327.4 262 L327.9 261.1 L328.4 261.7 L328.9 261.6 L329.4 261.2 L329.9 261.7 L330.4 261.7 L330.9 260.7 L331.4 260.5 L331.9 260.9 L332.4 261.8 L332.9 263 L333.4 263 L333.9 262 L334.4 262.6 L334.9 261.8 L335.4 262.7 L335.9 261.8 L336.4 262.1 L336.9 261.4 L337.4 261.7 L337.9 263.5 L338.4 260.6 L338.9 261.7 L339.4 261.2 L339.9 262.6 L340.4 263.4 L340.9 261.4 L341.4 259.1 L341.9 262.3 L342.4 262.3 L342.9 260.2 L343.4 261.5 L343.9 261.7 L344.4 259.6 L344.9 262.4 L345.4 262.1 L345.9 262 L346.4 260.7 L346.9 261.1 L347.4 261.1 L347.9 262.2 L348.4 260.8 L348.9 263.1 L349.4 262.1 L349.9 259.7 L350.4 263.3 L350.9 261.9" fill="none" stroke="#0a0a0a" stroke-width="1.05" stroke-linejoin="round" />
<path d="M224.4 268.1 L224.9 266.3 L225.4 268.2 L225.9 265.8 L226.4 267.1 L226.9 269.3 L227.4 269.3 L227.9 267.8 L228.4 267.2 L228.9 269 L229.4 268.1 L229.9 268.3 L230.4 268.7 L230.9 267.1 L231.4 268.9 L231.9 266.1 L232.4 269.5 L232.9 266.7 L233.4 267.5 L233.9 267.5 L234.4 268.8 L234.9 268.8 L235.4 268.5 L235.9 268.7 L236.4 268.6 L236.9 268.1 L237.4 266.4 L237.9 266 L238.4 266 L238.9 268.1 L239.4 268 L239.9 268.1 L240.4 268.4 L240.9 268 L241.4 267.3 L241.9 266.8 L242.4 266.4 L242.9 269.4 L243.4 269.1 L243.9 267 L244.4 268 L244.9 268.7 L245.4 269.7 L245.9 267.7 L246.4 268.4 L246.9 269.3 L247.4 266.6 L247.9 267.6 L248.4 268.2 L248.9 267.6 L249.4 270.3 L249.9 269.1 L250.4 268.5 L250.9 267.4 L251.4 269.1 L251.9 268.9 L252.4 267.8 L252.9 267.9 L253.4 266.9 L253.9 268.2 L254.4 269.1 L254.9 269.3 L255.4 268.9 L255.9 269.1 L256.4 267.8 L256.9 267.9 L257.4 269.5 L257.9 268.8 L258.4 267.6 L258.9 268.8 L259.4 269.1 L259.9 269 L260.4 268.5 L260.9 267.9 L261.4 268.8 L261.9 270 L262.4 268.5 L262.9 267.8 L263.4 268.7 L263.9 267.2 L264.4 268.6 L264.9 268.1 L265.4 269.3 L265.9 268.5 L266.4 269.4 L266.9 270.6 L267.4 268.2 L267.9 267.7 L268.4 268.9 L268.9 268.4 L269.4 268.6 L269.9 267.9 L270.4 269 L270.9 268.5 L271.4 266.4 L271.9 268.3 L272.4 268.8 L272.9 269.6 L273.4 267.9 L273.9 267.7 L274.4 269.6 L274.9 267.9 L275.4 268.6 L275.9 268.9 L276.4 269.2 L276.9 268.5 L277.4 267.5 L277.9 269.5 L278.4 268.1 L278.9 268 L279.4 270.4 L279.9 269.4 L280.4 267.5 L280.9 268.1 L281.4 268.3 L281.9 267.9 L282.4 266.8 L282.9 269.3 L283.4 269.3 L283.9 268.8 L284.4 268.2 L284.9 268.8 L285.4 269.2 L285.9 267.6 L286.4 268.3 L286.9 268.1 L287.4 269.2 L287.9 268.8 L288.4 267.4 L288.9 268 L289.4 270.3 L289.9 267.7 L290.4 268.8 L290.9 268 L291.4 269.8 L291.9 268.6 L292.4 268.2 L292.9 267.5 L293.4 268.4 L293.9 269.4 L294.4 269.3 L294.9 267.4 L295.4 270.1 L295.9 268.4 L296.4 267.7 L296.9 268.8 L297.4 268.1 L297.9 268.1 L298.4 268.1 L298.9 268.6 L299.4 268.2 L299.9 267.1 L300.4 269.2 L300.9 268.2 L301.4 269.8 L301.9 269.2 L302.4 269.3 L302.9 268.9 L303.4 269.9 L303.9 268.4 L304.4 267.8 L304.9 269 L305.4 266.2 L305.9 268.4 L306.4 268.9 L306.9 268.3 L307.4 269.9 L307.9 269.4 L308.4 268.8 L308.9 268.4 L309.4 269.8 L309.9 268.1 L310.4 268.4 L310.9 269.5 L311.4 269.3 L311.9 270.7 L312.4 268.6 L312.9 267 L313.4 269.4 L313.9 269.9 L314.4 268.6 L314.9 270.2 L315.4 270.4 L315.9 268.2 L316.4 268.3 L316.9 267.6 L317.4 269.3 L317.9 269.5 L318.4 269.4 L318.9 267.7 L319.4 268.1 L319.9 267.5 L320.4 267.3 L320.9 267.6 L321.4 267.4 L321.9 268.7 L322.4 269.2 L322.9 269.4 L323.4 268.8 L323.9 268.2 L324.4 268.8 L324.9 269.4 L325.4 268.6 L325.9 268.9 L326.4 268.6 L326.9 268.4 L327.4 268.9 L327.9 267.8 L328.4 269.8 L328.9 267.4 L329.4 269.3 L329.9 267.6 L330.4 270.3 L330.9 269.7 L331.4 268.1 L331.9 268.5 L332.4 267.8 L332.9 268.8 L333.4 269.3 L333.9 271.3 L334.4 267.6 L334.9 270.1 L335.4 268.4 L335.9 269.2 L336.4 269.7 L336.9 269.4 L337.4 269.3 L337.9 268.7 L338.4 268.9 L338.9 269.1 L339.4 270 L339.9 267.6 L340.4 268.5 L340.9 267.8 L341.4 268.1 L341.9 268.2 L342.4 270 L342.9 270.9 L343.4 270.2 L343.9 267.9 L344.4 269 L344.9 267.9 L345.4 269.4 L345.9 270.1 L346.4 269.5 L346.9 269.8 L347.4 268.8 L347.9 267.2 L348.4 267.2 L348.9 268.9 L349.4 269.5 L349.9 270.2 L350.4 268.7 L350.9 269.1" fill="none" stroke="#0a0a0a" stroke-width="1.05" stroke-linejoin="round" />
<path d="M224.4 278 L224.9 276.9 L225.4 276 L225.9 278 L226.4 277.4 L226.9 277.4 L227.4 275.8 L227.9 277 L228.4 275.4 L228.9 275.1 L229.4 276.8 L229.9 276.6 L230.4 277.5 L230.9 278.3 L231.4 277 L231.9 278.7 L232.4 276.5 L232.9 277.7 L233.4 275.8 L233.9 277.1 L234.4 276.7 L234.9 276.8 L235.4 277.5 L235.9 275.3 L236.4 277.1 L236.9 276.2 L237.4 277.1 L237.9 277.4 L238.4 276.7 L238.9 276.7 L239.4 275.9 L239.9 277.5 L240.4 276.4 L240.9 277.4 L241.4 275.7 L241.9 278.3 L242.4 276.1 L242.9 278.1 L243.4 276.6 L243.9 277.5 L244.4 276.9 L244.9 277.6 L245.4 277 L245.9 278.2 L246.4 277.6 L246.9 277.6 L247.4 278.5 L247.9 276.4 L248.4 278.2 L248.9 277.1 L249.4 275.6 L249.9 277.4 L250.4 276.8 L250.9 278.6 L251.4 276.5 L251.9 277 L252.4 277.2 L252.9 275.2 L253.4 277.5 L253.9 276.1 L254.4 278.3 L254.9 278.5 L255.4 277 L255.9 275.5 L256.4 277.2 L256.9 277.2 L257.4 277.7 L257.9 276.7 L258.4 275.9 L258.9 276.9 L259.4 276.1 L259.9 278.6 L260.4 276.3 L260.9 276.4 L261.4 277 L261.9 275.9 L262.4 276.6 L262.9 276.9 L263.4 276.5 L263.9 276.8 L264.4 278.1 L264.9 277.4 L265.4 275.8 L265.9 276.6 L266.4 277.7 L266.9 276.4 L267.4 277.1 L267.9 277 L268.4 277.5 L268.9 276.8 L269.4 276.9 L269.9 276.2 L270.4 277.3 L270.9 276.1 L271.4 278.6 L271.9 277 L272.4 276.8 L272.9 277.7 L273.4 276.9 L273.9 277.1 L274.4 277 L274.9 276.3 L275.4 276.1 L275.9 276.4 L276.4 278 L276.9 276.4 L277.4 276.6 L277.9 276.6 L278.4 277.6 L278.9 278.8 L279.4 276.1 L279.9 277.5 L280.4 277.1 L280.9 276.7 L281.4 277.5 L281.9 275.8 L282.4 277.8 L282.9 277.2 L283.4 276.1 L283.9 278.5 L284.4 277.8 L284.9 278.1 L285.4 275.7 L285.9 276.7 L286.4 276.5 L286.9 277.6 L287.4 278.2 L287.9 275.2 L288.4 277 L288.9 276.9 L289.4 277.9 L289.9 277 L290.4 275.8 L290.9 276.8 L291.4 276 L291.9 276.3 L292.4 277 L292.9 276.6 L293.4 277.3 L293.9 275.6 L294.4 279.1 L294.9 278.2 L295.4 277.7 L295.9 275.8 L296.4 275 L296.9 276.2 L297.4 276.8 L297.9 279.1 L298.4 278.2 L298.9 276.5 L299.4 278.1 L299.9 278.1 L300.4 277 L300.9 278.1 L301.4 277.3 L301.9 276.4 L302.4 275.9 L302.9 276.9 L303.4 277.9 L303.9 275.8 L304.4 275.5 L304.9 277.5 L305.4 274.5 L305.9 278.7 L306.4 276.6 L306.9 277.7 L307.4 278.7 L307.9 275.7 L308.4 276 L308.9 279.1 L309.4 276.7 L309.9 276.9 L310.4 277.2 L310.9 278 L311.4 278.2 L311.9 277.1 L312.4 276.7 L312.9 277 L313.4 277.3 L313.9 278.2 L314.4 277.1 L314.9 278.7 L315.4 276.2 L315.9 277.5 L316.4 278.6 L316.9 278.2 L317.4 277.3 L317.9 276.2 L318.4 276.3 L318.9 276.9 L319.4 277.3 L319.9 276.8 L320.4 275.7 L320.9 276.3 L321.4 277.5 L321.9 277.8 L322.4 275.7 L322.9 276.7 L323.4 275.5 L323.9 276.5 L324.4 280.3 L324.9 277.1 L325.4 276.7 L325.9 276.5 L326.4 275.9 L326.9 275.3 L327.4 277 L327.9 276.7 L328.4 278.4 L328.9 275.5 L329.4 277.4 L329.9 278.2 L330.4 275.2 L330.9 277.6 L331.4 275.5 L331.9 277.5 L332.4 278.4 L332.9 277 L333.4 277.3 L333.9 276.4 L334.4 277.3 L334.9 278 L335.4 276.8 L335.9 276.9 L336.4 277.4 L336.9 277.8 L337.4 275.5 L337.9 277.1 L338.4 276.4 L338.9 277.5 L339.4 278 L339.9 277.3 L340.4 278.2 L340.9 276.1 L341.4 276.6 L341.9 276.1 L342.4 277.1 L342.9 277.1 L343.4 276.8 L343.9 275.9 L344.4 276.9 L344.9 276.6 L345.4 277.6 L345.9 276.8 L346.4 278.1 L346.9 277.2 L347.4 275.3 L347.9 276.8 L348.4 275.7 L348.9 277.9 L349.4 278.3 L349.9 277 L350.4 277.4 L350.9 275.7" fill="none" stroke="#0a0a0a" stroke-width="1.05" stroke-linejoin="round" />
<path d="M224.4 280 L224.9 280.3 L225.4 279.1 L225.9 280.6 L226.4 280.8 L226.9 281.1 L227.4 281.9 L227.9 281.2 L228.4 280.2 L228.9 280.6 L229.4 281.1 L229.9 279.5 L230.4 281.7 L230.9 281.3 L231.4 280.3 L231.9 279.9 L232.4 284 L232.9 281.3 L233.4 281.4 L233.9 282.2 L234.4 281.4 L234.9 280.7 L235.4 281.2 L235.9 279.7 L236.4 281.2 L236.9 279.1 L237.4 280.9 L237.9 281 L238.4 279.1 L238.9 282.3 L239.4 279.4 L239.9 281.5 L240.4 280 L240.9 280.8 L241.4 279.9 L241.9 282.8 L242.4 281.5 L242.9 282.2 L243.4 281.2 L243.9 281.2 L244.4 280.7 L244.9 280.3 L245.4 281.1 L245.9 280.7 L246.4 280.4 L246.9 279.2 L247.4 280.2 L247.9 281.1 L248.4 280.1 L248.9 280.8 L249.4 280.4 L249.9 279.6 L250.4 279.7 L250.9 279.8 L251.4 280.3 L251.9 280.3 L252.4 281.6 L252.9 279.5 L253.4 278.6 L253.9 281.2 L254.4 280.1 L254.9 280.4 L255.4 282.9 L255.9 281.9 L256.4 281.1 L256.9 281.4 L257.4 280.6 L257.9 281.4 L258.4 280 L258.9 279.9 L259.4 280.1 L259.9 282 L260.4 282 L260.9 280 L261.4 281.6 L261.9 280.4 L262.4 281.5 L262.9 280.2 L263.4 281.4 L263.9 280.4 L264.4 280.3 L264.9 280.5 L265.4 280.7 L265.9 280 L266.4 279.3 L266.9 282.1 L267.4 280.2 L267.9 278.9 L268.4 278.4 L268.9 277.9 L269.4 280 L269.9 281.8 L270.4 279 L270.9 280.2 L271.4 278.8 L271.9 281.6 L272.4 280.9 L272.9 280.8 L273.4 281.8 L273.9 282.1 L274.4 281.5 L274.9 280 L275.4 279.3 L275.9 279.6 L276.4 278.9 L276.9 282.2 L277.4 280.4 L277.9 280.7 L278.4 280.7 L278.9 282.4 L279.4 280 L279.9 281.6 L280.4 280.8 L280.9 280.4 L281.4 278.8 L281.9 281.4 L282.4 279.8 L282.9 280.1 L283.4 280.7 L283.9 280.6 L284.4 281.6 L284.9 279.9 L285.4 280.7 L285.9 280.8 L286.4 280.6 L286.9 281.2 L287.4 280.3 L287.9 281.7 L288.4 279.9 L288.9 279.2 L289.4 280.5 L289.9 281.6 L290.4 280.1 L290.9 280 L291.4 280.2 L291.9 280.7 L292.4 280.4 L292.9 280.8 L293.4 278.9 L293.9 281.9 L294.4 281.1 L294.9 279.7 L295.4 281.8 L295.9 281 L296.4 281.9 L296.9 279.4 L297.4 282.1 L297.9 280.6 L298.4 278.6 L298.9 281.2 L299.4 280.3 L299.9 279.6 L300.4 280.3 L300.9 278.7 L301.4 281.1 L301.9 280.3 L302.4 280.3 L302.9 281.8 L303.4 280.6 L303.9 279.9 L304.4 279.7 L304.9 280.5 L305.4 281.5 L305.9 280 L306.4 279.6 L306.9 281.4 L307.4 280.6 L307.9 280.5 L308.4 282.5 L308.9 279.4 L309.4 280.7 L309.9 278.9 L310.4 280.3 L310.9 281.1 L311.4 281.6 L311.9 279.4 L312.4 281.3 L312.9 281.3 L313.4 280.4 L313.9 282.8 L314.4 280.5 L314.9 279.7 L315.4 280.9 L315.9 278.8 L316.4 282 L316.9 281.5 L317.4 280.2 L317.9 281.1 L318.4 281 L318.9 282.3 L319.4 280 L319.9 279.3 L320.4 278.7 L320.9 280.3 L321.4 279.1 L321.9 280.4 L322.4 280.9 L322.9 280.1 L323.4 279.7 L323.9 281.6 L324.4 280.4 L324.9 280.8 L325.4 281.4 L325.9 279.3 L326.4 279.7 L326.9 282.9 L327.4 280.4 L327.9 279.6 L328.4 280.3 L328.9 280 L329.4 279.4 L329.9 280.2 L330.4 280.5 L330.9 280.5 L331.4 281 L331.9 278.9 L332.4 279.2 L332.9 281.3 L333.4 280.1 L333.9 281.7 L334.4 280.8 L334.9 279.2 L335.4 281 L335.9 279.6 L336.4 280.8 L336.9 281.7 L337.4 282.5 L337.9 280.5 L338.4 281.2 L338.9 280.8 L339.4 281.3 L339.9 278.2 L340.4 280.2 L340.9 280.8 L341.4 281 L341.9 279.8 L342.4 281.3 L342.9 281.6 L343.4 280.6 L343.9 280.3 L344.4 280.2 L344.9 280.7 L345.4 281.6 L345.9 281.9 L346.4 280.1 L346.9 279.7 L347.4 279.8 L347.9 281.4 L348.4 280.7 L348.9 280.8 L349.4 281 L349.9 280.9 L350.4 280.4 L350.9 279.6" fill="none" stroke="#0a0a0a" stroke-width="1.05" stroke-linejoin="round" />
<path d="M224.4 287.1 L224.9 287.4 L225.4 286.7 L225.9 286.7 L226.4 288.3 L226.9 286.6 L227.4 287.2 L227.9 286.7 L228.4 286.2 L228.9 285.6 L229.4 286.5 L229.9 286.3 L230.4 287.8 L230.9 286 L231.4 286.7 L231.9 287.6 L232.4 286.9 L232.9 287.5 L233.4 287.8 L233.9 285.5 L234.4 286.7 L234.9 286.2 L235.4 288.3 L235.9 286.9 L236.4 287.5 L236.9 288.6 L237.4 286.7 L237.9 287.1 L238.4 287.4 L238.9 286.8 L239.4 288.2 L239.9 287.8 L240.4 288 L240.9 287.1 L241.4 286.7 L241.9 286.7 L242.4 286.7 L242.9 285.5 L243.4 287.4 L243.9 287.8 L244.4 287 L244.9 286.6 L245.4 287.1 L245.9 287.2 L246.4 287.3 L246.9 288.7 L247.4 286.3 L247.9 287.4 L248.4 287.7 L248.9 287.1 L249.4 286.8 L249.9 286.1 L250.4 286.5 L250.9 287.7 L251.4 288.4 L251.9 286.4 L252.4 287.5 L252.9 287.5 L253.4 288 L253.9 287.3 L254.4 287.4 L254.9 287.9 L255.4 286 L255.9 287.1 L256.4 285.4 L256.9 285.2 L257.4 286.3 L257.9 285.6 L258.4 287.5 L258.9 287.9 L259.4 286.8 L259.9 286.9 L260.4 286.8 L260.9 286.8 L261.4 287.2 L261.9 287.4 L262.4 286.6 L262.9 286.3 L263.4 286.6 L263.9 287.8 L264.4 286.7 L264.9 288.4 L265.4 286.8 L265.9 288.3 L266.4 285.9 L266.9 286.4 L267.4 287.5 L267.9 287.5 L268.4 286.9 L268.9 288.9 L269.4 287.1 L269.9 287.3 L270.4 286.5 L270.9 288.5 L271.4 287.8 L271.9 287.4 L272.4 285.5 L272.9 287.4 L273.4 286.6 L273.9 287.4 L274.4 287.9 L274.9 286.4 L275.4 287.2 L275.9 287.8 L276.4 287.2 L276.9 286.7 L277.4 286.1 L277.9 286.4 L278.4 285.9 L278.9 287.9 L279.4 287.1 L279.9 285.9 L280.4 287 L280.9 285.9 L281.4 284.1 L281.9 288.1 L282.4 288.1 L282.9 285.7 L283.4 286.4 L283.9 287.2 L284.4 286.7 L284.9 286.3 L285.4 286.6 L285.9 286.8 L286.4 286.5 L286.9 287.2 L287.4 286.8 L287.9 286.3 L288.4 287 L288.9 285.5 L289.4 288.3 L289.9 285.5 L290.4 287 L290.9 287.3 L291.4 287.4 L291.9 287.3 L292.4 288.2 L292.9 286 L293.4 287 L293.9 287.2 L294.4 286.6 L294.9 286.5 L295.4 288.2 L295.9 286.4 L296.4 286.6 L296.9 286.8 L297.4 286.8 L297.9 287.2 L298.4 286.8 L298.9 287.4 L299.4 287.1 L299.9 287.5 L300.4 288.3 L300.9 286.3 L301.4 288.5 L301.9 286.6 L302.4 287.6 L302.9 287.2 L303.4 286.8 L303.9 285.3 L304.4 288.5 L304.9 286.3 L305.4 286.3 L305.9 288 L306.4 287.1 L306.9 288.7 L307.4 288.5 L307.9 287.7 L308.4 287.2 L308.9 287.7 L309.4 285.8 L309.9 287.2 L310.4 287.2 L310.9 286.6 L311.4 287.2 L311.9 285.7 L312.4 287.8 L312.9 288.2 L313.4 285.9 L313.9 287.2 L314.4 288.4 L314.9 287.4 L315.4 286.1 L315.9 286.1 L316.4 287.8 L316.9 288.7 L317.4 286 L317.9 287.1 L318.4 286.3 L318.9 286.8 L319.4 287.3 L319.9 287 L320.4 286.4 L320.9 288.9 L321.4 286.9 L321.9 286.9 L322.4 288 L322.9 287 L323.4 286.8 L323.9 287.9 L324.4 286.1 L324.9 287.7 L325.4 287.9 L325.9 287.6 L326.4 286.9 L326.9 287 L327.4 285.5 L327.9 286.9 L328.4 287.3 L328.9 287.8 L329.4 287.1 L329.9 286.7 L330.4 286.3 L330.9 287 L331.4 287.1 L331.9 288.1 L332.4 287 L332.9 286.6 L333.4 286.9 L333.9 286.6 L334.4 286.8 L334.9 285 L335.4 285.6 L335.9 286 L336.4 287.4 L336.9 286.9 L337.4 287.1 L337.9 288.1 L338.4 286.1 L338.9 288 L339.4 287.4 L339.9 286.4 L340.4 288.3 L340.9 285.7 L341.4 286 L341.9 286.8 L342.4 287.4 L342.9 286.8 L343.4 285.1 L343.9 286.8 L344.4 286.9 L344.9 289.3 L345.4 288.2 L345.9 287.1 L346.4 286 L346.9 287.3 L347.4 286 L347.9 287.2 L348.4 287.3 L348.9 286.7 L349.4 287.2 L349.9 286.7 L350.4 286.5 L350.9 288.4" fill="none" stroke="#0a0a0a" stroke-width="1.05" stroke-linejoin="round" />
<path d="M224.4 292.7 L224.9 292.3 L225.4 293.2 L225.9 293.5 L226.4 293.8 L226.9 294.3 L227.4 293.4 L227.9 292 L228.4 294.8 L228.9 294 L229.4 293.8 L229.9 294.2 L230.4 291.7 L230.9 292.7 L231.4 292.6 L231.9 294.1 L232.4 292 L232.9 292.7 L233.4 294.4 L233.9 293.6 L234.4 292.7 L234.9 294.7 L235.4 291.8 L235.9 293.4 L236.4 292.8 L236.9 293.5 L237.4 292.8 L237.9 292.3 L238.4 293.2 L238.9 291.8 L239.4 293.5 L239.9 292.7 L240.4 293.8 L240.9 292.6 L241.4 292.4 L241.9 293.4 L242.4 294.1 L242.9 291.2 L243.4 293.1 L243.9 293.6 L244.4 291.7 L244.9 292.2 L245.4 293.6 L245.9 292.3 L246.4 292.4 L246.9 294.5 L247.4 292.2 L247.9 292.2 L248.4 291 L248.9 292 L249.4 291.9 L249.9 294.5 L250.4 294.1 L250.9 291.9 L251.4 294.8 L251.9 293.7 L252.4 292.8 L252.9 293.7 L253.4 293.3 L253.9 292.3 L254.4 291.4 L254.9 292.2 L255.4 293 L255.9 292.7 L256.4 292.4 L256.9 293.9 L257.4 292.1 L257.9 293.8 L258.4 292.6 L258.9 293.1 L259.4 292 L259.9 293 L260.4 292.3 L260.9 291.5 L261.4 293 L261.9 293 L262.4 293.7 L262.9 293.3 L263.4 292.1 L263.9 292.5 L264.4 290.8 L264.9 292 L265.4 294.2 L265.9 294.4 L266.4 293.7 L266.9 293.3 L267.4 293.5 L267.9 293.4 L268.4 291.5 L268.9 292.2 L269.4 294.1 L269.9 294.1 L270.4 293.2 L270.9 292.7 L271.4 292.7 L271.9 292.5 L272.4 292.2 L272.9 291.3 L273.4 293.1 L273.9 292.6 L274.4 292.8 L274.9 294.5 L275.4 293.5 L275.9 292.4 L276.4 293.5 L276.9 291.7 L277.4 293.9 L277.9 293.2 L278.4 292.8 L278.9 293.5 L279.4 294.3 L279.9 292.6 L280.4 292.1 L280.9 294.9 L281.4 293 L281.9 294.3 L282.4 292.4 L282.9 293.3 L283.4 292.4 L283.9 293.6 L284.4 292.8 L284.9 292.4 L285.4 294.4 L285.9 293.3 L286.4 291.2 L286.9 292.8 L287.4 292.2 L287.9 291.9 L288.4 292.5 L288.9 292.6 L289.4 293 L289.9 292.3 L290.4 291.3 L290.9 292.5 L291.4 293.8 L291.9 291.8 L292.4 293.6 L292.9 293.4 L293.4 292.6 L293.9 293.3 L294.4 292.3 L294.9 292.6 L295.4 292.1 L295.9 293.4 L296.4 294.2 L296.9 292.4 L297.4 294.1 L297.9 291.1 L298.4 292.2 L298.9 292.1 L299.4 294.5 L299.9 292.5 L300.4 293.7 L300.9 291.2 L301.4 293.1 L301.9 293.5 L302.4 293 L302.9 290.6 L303.4 293.2 L303.9 293.7 L304.4 294.2 L304.9 293.4 L305.4 291.5 L305.9 292.8 L306.4 293.8 L306.9 292.3 L307.4 293.5 L307.9 292.6 L308.4 293.1 L308.9 293.7 L309.4 292.4 L309.9 295.6 L310.4 293.1 L310.9 293.3 L311.4 292.3 L311.9 293.1 L312.4 292.8 L312.9 291.7 L313.4 291.6 L313.9 293.3 L314.4 292.9 L314.9 290.6 L315.4 291.1 L315.9 292.7 L316.4 292.9 L316.9 293.5 L317.4 291.9 L317.9 293.5 L318.4 292.7 L318.9 292.5 L319.4 292.9 L319.9 293.9 L320.4 293.5 L320.9 293.8 L321.4 292.4 L321.9 292.7 L322.4 292 L322.9 292.5 L323.4 292.6 L323.9 292.6 L324.4 293.6 L324.9 293.4 L325.4 293.7 L325.9 293.1 L326.4 294 L326.9 293.1 L327.4 293.9 L327.9 293.5 L328.4 293.7 L328.9 292.9 L329.4 291.9 L329.9 291.7 L330.4 294.8 L330.9 293.3 L331.4 293.4 L331.9 292.8 L332.4 292.6 L332.9 295.6 L333.4 292 L333.9 292.9 L334.4 293 L334.9 292 L335.4 291.9 L335.9 292.4 L336.4 292.7 L336.9 292.6 L337.4 293.7 L337.9 291.9 L338.4 293.4 L338.9 294.3 L339.4 293.8 L339.9 292 L340.4 290.3 L340.9 293.8 L341.4 293.4 L341.9 292.5 L342.4 294.2 L342.9 292.6 L343.4 293.1 L343.9 292.1 L344.4 293.3 L344.9 292.6 L345.4 292.5 L345.9 294 L346.4 293.2 L346.9 291.7 L347.4 293.6 L347.9 293.8 L348.4 292.3 L348.9 292.6 L349.4 293 L349.9 292.8 L350.4 293.1 L350.9 293.6" fill="none" stroke="#0a0a0a" stroke-width="1.05" stroke-linejoin="round" />
<path d="M224.4 301.9 L224.9 299.4 L225.4 299.5 L225.9 301.8 L226.4 302.1 L226.9 300 L227.4 299.8 L227.9 299 L228.4 301 L228.9 300.1 L229.4 299.2 L229.9 300.3 L230.4 301.2 L230.9 300.6 L231.4 301.9 L231.9 301 L232.4 300.3 L232.9 299.9 L233.4 300.4 L233.9 301 L234.4 300.7 L234.9 300.9 L235.4 300.1 L235.9 300.6 L236.4 301 L236.9 299.8 L237.4 298.8 L237.9 301.5 L238.4 300.4 L238.9 299.5 L239.4 300.1 L239.9 299.7 L240.4 298.4 L240.9 299.7 L241.4 298.6 L241.9 300.1 L242.4 299.8 L242.9 300.9 L243.4 299.8 L243.9 300.2 L244.4 299.6 L244.9 299.5 L245.4 298.6 L245.9 300.8 L246.4 300 L246.9 299.3 L247.4 300 L247.9 299.5 L248.4 299.2 L248.9 300.1 L249.4 300.9 L249.9 299.6 L250.4 298.6 L250.9 299.3 L251.4 301.5 L251.9 299.1 L252.4 300.9 L252.9 299.6 L253.4 300.5 L253.9 299.7 L254.4 298.4 L254.9 299.4 L255.4 301.7 L255.9 299.7 L256.4 300.3 L256.9 299.5 L257.4 299.7 L257.9 300.1 L258.4 300.2 L258.9 301.8 L259.4 299.8 L259.9 299.6 L260.4 299.2 L260.9 298.6 L261.4 298.3 L261.9 300.4 L262.4 298.1 L262.9 301 L263.4 300.5 L263.9 299.5 L264.4 298.7 L264.9 299.8 L265.4 299.8 L265.9 300.8 L266.4 299.1 L266.9 299.4 L267.4 299.7 L267.9 299.5 L268.4 299.2 L268.9 298.2 L269.4 298.3 L269.9 299.1 L270.4 299.5 L270.9 300.6 L271.4 301.8 L271.9 301.3 L272.4 300.1 L272.9 301.4 L273.4 299.6 L273.9 299.2 L274.4 301.8 L274.9 298.8 L275.4 299.3 L275.9 299.5 L276.4 301 L276.9 299.2 L277.4 300.4 L277.9 299.3 L278.4 298.6 L278.9 299.9 L279.4 299.8 L279.9 298.7 L280.4 298.9 L280.9 299 L281.4 300.6 L281.9 300.1 L282.4 299.9 L282.9 300.1 L283.4 299.2 L283.9 300.1 L284.4 299.1 L284.9 298.5 L285.4 299 L285.9 299.9 L286.4 299.7 L286.9 300.6 L287.4 298.1 L287.9 299.5 L288.4 300 L288.9 298.8 L289.4 299.9 L289.9 299.3 L290.4 298.6 L290.9 300.7 L291.4 298.4 L291.9 300.5 L292.4 299.3 L292.9 298.8 L293.4 298.8 L293.9 299 L294.4 298.9 L294.9 299.9 L295.4 297.9 L295.9 300.7 L296.4 300.4 L296.9 300.9 L297.4 298.7 L297.9 297.5 L298.4 299 L298.9 299.5 L299.4 299.9 L299.9 299.1 L300.4 299.5 L300.9 299.7 L301.4 298.2 L301.9 301.2 L302.4 298.6 L302.9 299.8 L303.4 300.6 L303.9 298.9 L304.4 299.6 L304.9 301.1 L305.4 299.3 L305.9 300.5 L306.4 299.8 L306.9 299.8 L307.4 300.2 L307.9 299.4 L308.4 299.4 L308.9 300.4 L309.4 299.8 L309.9 300 L310.4 298.5 L310.9 299.6 L311.4 300.7 L311.9 300.4 L312.4 299.9 L312.9 299.1 L313.4 299 L313.9 299.9 L314.4 300.8 L314.9 299.6 L315.4 300.7 L315.9 299.3 L316.4 300.6 L316.9 298.6 L317.4 299.7 L317.9 298.6 L318.4 300.1 L318.9 300 L319.4 298.7 L319.9 298.9 L320.4 299.1 L320.9 298.2 L321.4 298.7 L321.9 298.7 L322.4 300.2 L322.9 300.8 L323.4 299.1 L323.9 299.3 L324.4 299.7 L324.9 299 L325.4 299.3 L325.9 300.3 L326.4 299.7 L326.9 299.4 L327.4 299 L327.9 300.8 L328.4 298.9 L328.9 299.6 L329.4 298.6 L329.9 299 L330.4 299.6 L330.9 299.1 L331.4 300 L331.9 299.5 L332.4 298.2 L332.9 297.4 L333.4 300.4 L333.9 298.9 L334.4 300.8 L334.9 299.5 L335.4 298.8 L335.9 300 L336.4 299.2 L336.9 299.5 L337.4 298.6 L337.9 300 L338.4 300.4 L338.9 299 L339.4 301.1 L339.9 298.9 L340.4 299.7 L340.9 298 L341.4 297.7 L341.9 301.3 L342.4 300.7 L342.9 300.5 L343.4 297.9 L343.9 299.6 L344.4 299.8 L344.9 299.5 L345.4 299.7 L345.9 298.6 L346.4 299.3 L346.9 298.4 L347.4 299.1 L347.9 299.8 L348.4 298.7 L348.9 299.2 L349.4 299 L349.9 299.4 L350.4 300.2 L350.9 299.6" fill="none" stroke="#0a0a0a" stroke-width="1.05" stroke-linejoin="round" />
<path d="M224.4 305.2 L224.9 306.2 L225.4 307.2 L225.9 305.7 L226.4 306.1 L226.9 305.6 L227.4 307.6 L227.9 306 L228.4 305.8 L228.9 307 L229.4 307.4 L229.9 306.8 L230.4 307.3 L230.9 306.6 L231.4 306.2 L231.9 305.9 L232.4 305.9 L232.9 305.8 L233.4 306.6 L233.9 306.2 L234.4 306.4 L234.9 306.8 L235.4 306.2 L235.9 305 L236.4 305.5 L236.9 305.2 L237.4 304.5 L237.9 306.3 L238.4 305.1 L238.9 305 L239.4 305.2 L239.9 307 L240.4 305.9 L240.9 307 L241.4 306.1 L241.9 305.7 L242.4 306.6 L242.9 306.6 L243.4 306.2 L243.9 305.2 L244.4 305.7 L244.9 305 L245.4 305.8 L245.9 306.1 L246.4 307.4 L246.9 307.3 L247.4 306.6 L247.9 306.9 L248.4 306.2 L248.9 308.5 L249.4 307.4 L249.9 308.3 L250.4 306.3 L250.9 306.3 L251.4 306.9 L251.9 306.1 L252.4 306.2 L252.9 305 L253.4 306.7 L253.9 306 L254.4 306.6 L254.9 305.7 L255.4 304.3 L255.9 306.3 L256.4 306.9 L256.9 304.7 L257.4 304.9 L257.9 305.5 L258.4 305.6 L258.9 304.3 L259.4 307.4 L259.9 306.7 L260.4 305.2 L260.9 304.1 L261.4 306.1 L261.9 307.5 L262.4 306.5 L262.9 306.8 L263.4 304.9 L263.9 305.9 L264.4 304.3 L264.9 307.5 L265.4 306.2 L265.9 303.8 L266.4 304 L266.9 306.1 L267.4 305.8 L267.9 305.3 L268.4 306.2 L268.9 307.4 L269.4 305.9 L269.9 304 L270.4 305.4 L270.9 304.4 L271.4 304.8 L271.9 305.8 L272.4 305.4 L272.9 304.6 L273.4 305.5 L273.9 304.8 L274.4 306 L274.9 305.3 L275.4 305.8 L275.9 305.2 L276.4 306.1 L276.9 305.3 L277.4 305.4 L277.9 304.9 L278.4 305.6 L278.9 303.8 L279.4 307.8 L279.9 304.8 L280.4 305.5 L280.9 305 L281.4 304.9 L281.9 305.7 L282.4 304.9 L282.9 305 L283.4 304.1 L283.9 304.5 L284.4 304.3 L284.9 306.9 L285.4 304.1 L285.9 304.3 L286.4 305.5 L286.9 306.6 L287.4 303.8 L287.9 303.9 L288.4 305.4 L288.9 305.6 L289.4 304 L289.9 303.6 L290.4 304.4 L290.9 305.9 L291.4 305.2 L291.9 305.9 L292.4 305.1 L292.9 305.2 L293.4 305.7 L293.9 305.1 L294.4 305.4 L294.9 304.3 L295.4 304.6 L295.9 305.6 L296.4 304.9 L296.9 304.4 L297.4 305.7 L297.9 305.6 L298.4 305.1 L298.9 304.4 L299.4 305.9 L299.9 307.3 L300.4 304.3 L300.9 303.7 L301.4 304.3 L301.9 304.2 L302.4 303.9 L302.9 304 L303.4 305.8 L303.9 305.8 L304.4 306.3 L304.9 305.7 L305.4 304.6 L305.9 306 L306.4 304.4 L306.9 304.7 L307.4 303.9 L307.9 306.1 L308.4 305.9 L308.9 304.5 L309.4 304.6 L309.9 305 L310.4 305.1 L310.9 305.7 L311.4 305 L311.9 305.3 L312.4 303.5 L312.9 304.6 L313.4 303.3 L313.9 306.5 L314.4 306.1 L314.9 305.5 L315.4 305.8 L315.9 306.6 L316.4 305.7 L316.9 303.4 L317.4 304.6 L317.9 302.7 L318.4 304.1 L318.9 303.7 L319.4 304.8 L319.9 305.1 L320.4 303.9 L320.9 304.5 L321.4 305 L321.9 304.6 L322.4 304.6 L322.9 302.6 L323.4 304.3 L323.9 305.4 L324.4 304.9 L324.9 303.4 L325.4 304.4 L325.9 304.9 L326.4 303.8 L326.9 305.3 L327.4 303.9 L327.9 304.4 L328.4 304.6 L328.9 306.6 L329.4 304.4 L329.9 304.1 L330.4 305.3 L330.9 304.2 L331.4 304.8 L331.9 302.6 L332.4 304.9 L332.9 304.6 L333.4 303.4 L333.9 305.8 L334.4 304.4 L334.9 304.4 L335.4 303.4 L335.9 303.1 L336.4 304 L336.9 303.2 L337.4 305 L337.9 305.3 L338.4 303.9 L338.9 303.1 L339.4 304.2 L339.9 303.5 L340.4 304.6 L340.9 304.7 L341.4 304.1 L341.9 304.5 L342.4 305.4 L342.9 306 L343.4 304 L343.9 305.1 L344.4 304.2 L344.9 303.5 L345.4 305.6 L345.9 304.8 L346.4 304.5 L346.9 304.7 L347.4 304.3 L347.9 303.5 L348.4 306 L348.9 305.2 L349.4 304.6 L349.9 305.2 L350.4 305.5 L350.9 304.2" fill="none" stroke="#0a0a0a" stroke-width="1.05" stroke-linejoin="round" />
<path d="M224.4 311.2 L224.9 312 L225.4 311.2 L225.9 313.6 L226.4 311.1 L226.9 311.9 L227.4 311.8 L227.9 311.1 L228.4 312.2 L228.9 311.3 L229.4 311 L229.9 311.3 L230.4 310.7 L230.9 312.4 L231.4 311.9 L231.9 312.2 L232.4 310.1 L232.9 311.5 L233.4 310.6 L233.9 311.3 L234.4 312.4 L234.9 311.5 L235.4 311.1 L235.9 312.2 L236.4 312.1 L236.9 312.9 L237.4 309.5 L237.9 311.5 L238.4 310.8 L238.9 310.4 L239.4 311.3 L239.9 310.1 L240.4 309.1 L240.9 310.3 L241.4 310.9 L241.9 312.8 L242.4 310.4 L242.9 310 L243.4 309.3 L243.9 310.8 L244.4 310.8 L244.9 311.2 L245.4 309.7 L245.9 310.3 L246.4 309 L246.9 311.2 L247.4 309.6 L247.9 308.5 L248.4 312 L248.9 311.4 L249.4 311.3 L249.9 311.3 L250.4 310 L250.9 311.9 L251.4 310 L251.9 312.6 L252.4 311.1 L252.9 309.2 L253.4 311.7 L253.9 312.7 L254.4 310.6 L254.9 311.8 L255.4 310.7 L255.9 310.3 L256.4 308.5 L256.9 311.9 L257.4 310.4 L257.9 311.1 L258.4 309.8 L258.9 310 L259.4 311.8 L259.9 310.4 L260.4 310.4 L260.9 309.6 L261.4 310.9 L261.9 311.4 L262.4 310.3 L262.9 310.5 L263.4 309.6 L263.9 312 L264.4 310.1 L264.9 310.5 L265.4 312.2 L265.9 310.5 L266.4 309.3 L266.9 309.8 L267.4 310.3 L267.9 312.2 L268.4 310.8 L268.9 310.4 L269.4 311.4 L269.9 311.8 L270.4 309.9 L270.9 311.9 L271.4 311.4 L271.9 311 L272.4 308.4 L272.9 310.7 L273.4 311.8 L273.9 310.3 L274.4 312.6 L274.9 310.6 L275.4 309.6 L275.9 311 L276.4 310.8 L276.9 311.2 L277.4 310.3 L277.9 311.7 L278.4 310 L278.9 310.6 L279.4 309.3 L279.9 309.7 L280.4 310.6 L280.9 309.8 L281.4 310 L281.9 310.2 L282.4 310.6 L282.9 311.1 L283.4 311.1 L283.9 311.3 L284.4 310.6 L284.9 309.9 L285.4 308.9 L285.9 310 L286.4 309.6 L286.9 308.7 L287.4 311.8 L287.9 308.6 L288.4 310.6 L288.9 310.8 L289.4 310.1 L289.9 312.6 L290.4 310.3 L290.9 309.6 L291.4 311.9 L291.9 309.5 L292.4 308.9 L292.9 309.3 L293.4 309.7 L293.9 310.3 L294.4 310.5 L294.9 308.8 L295.4 310.5 L295.9 312.2 L296.4 309.5 L296.9 310.1 L297.4 310.8 L297.9 311.3 L298.4 309.6 L298.9 309.3 L299.4 309.2 L299.9 311.1 L300.4 311 L300.9 308.1 L301.4 308.2 L301.9 309 L302.4 308.7 L302.9 310.5 L303.4 310.3 L303.9 311.9 L304.4 310.8 L304.9 310.2 L305.4 311.1 L305.9 309.2 L306.4 308.8 L306.9 310.1 L307.4 310.9 L307.9 308.5 L308.4 310.8 L308.9 310.8 L309.4 309.5 L309.9 310.2 L310.4 309.7 L310.9 310.1 L311.4 310.7 L311.9 309.2 L312.4 310.9 L312.9 310.8 L313.4 310.8 L313.9 308.1 L314.4 308.2 L314.9 310.6 L315.4 309.4 L315.9 309.3 L316.4 309.2 L316.9 308.7 L317.4 309.6 L317.9 309.2 L318.4 309.3 L318.9 310.3 L319.4 308.8 L319.9 310.9 L320.4 307.8 L320.9 312.1 L321.4 308.6 L321.9 310.4 L322.4 310.7 L322.9 309.8 L323.4 310.5 L323.9 309.7 L324.4 308.2 L324.9 310.1 L325.4 310.8 L325.9 309.3 L326.4 308.2 L326.9 309.2 L327.4 310.1 L327.9 310 L328.4 310.8 L328.9 310.3 L329.4 310.2 L329.9 307.9 L330.4 311.8 L330.9 309.8 L331.4 310.5 L331.9 309.4 L332.4 309.6 L332.9 309.7 L333.4 311.1 L333.9 311.1 L334.4 310.2 L334.9 311.5 L335.4 309.3 L335.9 310.1 L336.4 309.2 L336.9 310.8 L337.4 309.7 L337.9 310.5 L338.4 311.2 L338.9 307.7 L339.4 311.6 L339.9 309.9 L340.4 309.3 L340.9 307.8 L341.4 309.3 L341.9 307.5 L342.4 309.7 L342.9 309.4 L343.4 311.3 L343.9 309.3 L344.4 310.5 L344.9 310.6 L345.4 311.5 L345.9 309.3 L346.4 310.2 L346.9 308.1 L347.4 308.5 L347.9 309.3 L348.4 309.5 L348.9 308.4 L349.4 309.1 L349.9 310.1 L350.4 309.1 L350.9 309.3" fill="none" stroke="#0a0a0a" stroke-width="1.05" stroke-linejoin="round" />
<path d="M224.4 317.8 L224.9 318.1 L225.4 316.7 L225.9 316.4 L226.4 318 L226.9 316.9 L227.4 315.8 L227.9 315.2 L228.4 315.9 L228.9 318.4 L229.4 315.8 L229.9 319 L230.4 316.4 L230.9 316.2 L231.4 317.6 L231.9 316.1 L232.4 316.7 L232.9 315.4 L233.4 315.2 L233.9 315.6 L234.4 316.5 L234.9 315.7 L235.4 314.5 L235.9 316.7 L236.4 316.1 L236.9 316 L237.4 315.7 L237.9 314.1 L238.4 317.7 L238.9 315.8 L239.4 316.7 L239.9 317.5 L240.4 317.2 L240.9 316.3 L241.4 316.2 L241.9 316.4 L242.4 317 L242.9 316.7 L243.4 315.7 L243.9 316.5 L244.4 316.4 L244.9 316.7 L245.4 316.3 L245.9 317.3 L246.4 316.2 L246.9 316.9 L247.4 316.1 L247.9 315.5 L248.4 315.1 L248.9 315.9 L249.4 316.5 L249.9 317.2 L250.4 315.9 L250.9 315.5 L251.4 315.5 L251.9 317.1 L252.4 316 L252.9 315.5 L253.4 316.6 L253.9 314.7 L254.4 316 L254.9 315.9 L255.4 315.8 L255.9 314.8 L256.4 316.8 L256.9 317.4 L257.4 314.6 L257.9 316 L258.4 316.4 L258.9 317.9 L259.4 315.4 L259.9 314.9 L260.4 315.8 L260.9 317.6 L261.4 315.8 L261.9 316 L262.4 317.4 L262.9 313.8 L263.4 313.7 L263.9 316.6 L264.4 316.4 L264.9 314.4 L265.4 316.2 L265.9 315.7 L266.4 315.9 L266.9 314.9 L267.4 315.3 L267.9 314.9 L268.4 315.7 L268.9 315.4 L269.4 317.2 L269.9 316.2 L270.4 314.2 L270.9 316 L271.4 316.9 L271.9 315.9 L272.4 316.6 L272.9 315.6 L273.4 316.2 L273.9 314.7 L274.4 316.3 L274.9 314.3 L275.4 316.7 L275.9 314.1 L276.4 313.6 L276.9 316 L277.4 315.3 L277.9 315.6 L278.4 315.9 L278.9 315.5 L279.4 314.7 L279.9 315.7 L280.4 315.8 L280.9 315.9 L281.4 317.3 L281.9 314.8 L282.4 315.5 L282.9 315.9 L283.4 315 L283.9 314.3 L284.4 314.9 L284.9 316.4 L285.4 315.1 L285.9 315.9 L286.4 314.7 L286.9 315.8 L287.4 314.7 L287.9 314.6 L288.4 315.4 L288.9 315.4 L289.4 316.7 L289.9 313.8 L290.4 315.8 L290.9 316.8 L291.4 316.5 L291.9 314.9 L292.4 314.6 L292.9 314.8 L293.4 315.5 L293.9 315.4 L294.4 315.6 L294.9 315.8 L295.4 314.2 L295.9 314.2 L296.4 314.1 L296.9 314 L297.4 315.1 L297.9 315.5 L298.4 317.5 L298.9 315.7 L299.4 315.2 L299.9 316.5 L300.4 314.5 L300.9 315.5 L301.4 316 L301.9 315.9 L302.4 315.5 L302.9 314.8 L303.4 314 L303.9 315 L304.4 314.5 L304.9 315.7 L305.4 315 L305.9 315.6 L306.4 313.6 L306.9 316 L307.4 314.3 L307.9 313.6 L308.4 313.8 L308.9 314.5 L309.4 316.1 L309.9 315.7 L310.4 313.9 L310.9 315.1 L311.4 314.9 L311.9 313.5 L312.4 314.1 L312.9 313.1 L313.4 314.2 L313.9 312.5 L314.4 314.2 L314.9 314.1 L315.4 314.2 L315.9 314.2 L316.4 316 L316.9 314.6 L317.4 315.1 L317.9 315.6 L318.4 315.7 L318.9 315.5 L319.4 314.4 L319.9 313.9 L320.4 314.2 L320.9 314.4 L321.4 314.9 L321.9 314.8 L322.4 315.9 L322.9 314.7 L323.4 316.5 L323.9 315.8 L324.4 314.4 L324.9 315.6 L325.4 312.2 L325.9 316.1 L326.4 315.2 L326.9 315.2 L327.4 313.2 L327.9 317.1 L328.4 314.5 L328.9 314.6 L329.4 315.8 L329.9 314.6 L330.4 314 L330.9 315.3 L331.4 313.8 L331.9 315.4 L332.4 314.8 L332.9 315.8 L333.4 313.6 L333.9 315.8 L334.4 315 L334.9 316.5 L335.4 314.1 L335.9 316.4 L336.4 315.3 L336.9 315.4 L337.4 314 L337.9 315.2 L338.4 315.3 L338.9 313.9 L339.4 313.6 L339.9 313.9 L340.4 316 L340.9 314.8 L341.4 315.5 L341.9 314.9 L342.4 314.7 L342.9 314.8 L343.4 314.2 L343.9 315.7 L344.4 314.7 L344.9 314.8 L345.4 313.3 L345.9 314.8 L346.4 313.9 L346.9 314.1 L347.4 315.5 L347.9 313.5 L348.4 314.3 L348.9 315.1 L349.4 315.6 L349.9 314 L350.4 314.8 L350.9 314.8" fill="none" stroke="#0a0a0a" stroke-width="1.05" stroke-linejoin="round" />
<path d="M224.4 319.5 L224.9 319.7 L225.4 322 L225.9 321.5 L226.4 320.2 L226.9 320.8 L227.4 321 L227.9 321.1 L228.4 321.3 L228.9 323.4 L229.4 320.6 L229.9 321.5 L230.4 320.6 L230.9 320.7 L231.4 320.5 L231.9 321.1 L232.4 320.7 L232.9 321.6 L233.4 321.4 L233.9 320.4 L234.4 323 L234.9 320.1 L235.4 321.5 L235.9 323.1 L236.4 320.5 L236.9 322.3 L237.4 322.4 L237.9 321.4 L238.4 319.4 L238.9 322.4 L239.4 321.1 L239.9 320.5 L240.4 322.2 L240.9 320.3 L241.4 322 L241.9 320.5 L242.4 321.4 L242.9 319.9 L243.4 320.6 L243.9 320.1 L244.4 320.2 L244.9 321 L245.4 320.7 L245.9 321 L246.4 322 L246.9 320.7 L247.4 319.1 L247.9 320.5 L248.4 320.8 L248.9 321.7 L249.4 321.7 L249.9 321.6 L250.4 320.5 L250.9 321.3 L251.4 319.4 L251.9 321.9 L252.4 321.1 L252.9 321.1 L253.4 320.3 L253.9 320.7 L254.4 320 L254.9 321.1 L255.4 319.4 L255.9 321.5 L256.4 321.1 L256.9 322.4 L257.4 320.5 L257.9 320.4 L258.4 320.7 L258.9 320.5 L259.4 320.4 L259.9 319.4 L260.4 319.4 L260.9 319.9 L261.4 320.2 L261.9 319.3 L262.4 319.3 L262.9 320.1 L263.4 321 L263.9 320.2 L264.4 321 L264.9 321.2 L265.4 321 L265.9 319.9 L266.4 319.9 L266.9 318.6 L267.4 319.6 L267.9 320.7 L268.4 319.2 L268.9 321.5 L269.4 321.5 L269.9 319.9 L270.4 321 L270.9 318.9 L271.4 319.2 L271.9 319.8 L272.4 320.1 L272.9 320 L273.4 319.3 L273.9 321.9 L274.4 320.4 L274.9 320.3 L275.4 320.7 L275.9 320.2 L276.4 319.8 L276.9 319.5 L277.4 318.5 L277.9 321.4 L278.4 319.1 L278.9 318.4 L279.4 319.2 L279.9 318.5 L280.4 321.8 L280.9 320.3 L281.4 321.2 L281.9 321.2 L282.4 320.4 L282.9 320.4 L283.4 319.2 L283.9 319.8 L284.4 319.3 L284.9 319.9 L285.4 319.2 L285.9 321 L286.4 320.5 L286.9 319.7 L287.4 318.2 L287.9 320.4 L288.4 320.6 L288.9 319.7 L289.4 318.6 L289.9 320.1 L290.4 320.7 L290.9 317.9 L291.4 320.2 L291.9 318 L292.4 319.7 L292.9 321.2 L293.4 319.7 L293.9 320.1 L294.4 319.3 L294.9 319.6 L295.4 321.7 L295.9 320.8 L296.4 319.3 L296.9 319.2 L297.4 319.6 L297.9 321.5 L298.4 319.7 L298.9 320.5 L299.4 319.2 L299.9 318.3 L300.4 320.7 L300.9 319.4 L301.4 318.7 L301.9 318.8 L302.4 318.8 L302.9 318.9 L303.4 318 L303.9 320.5 L304.4 319.7 L304.9 320.3 L305.4 319.1 L305.9 319.7 L306.4 319.5 L306.9 320.4 L307.4 320.1 L307.9 319.6 L308.4 318.7 L308.9 318.2 L309.4 318.6 L309.9 318.7 L310.4 318.8 L310.9 318.1 L311.4 320.8 L311.9 319.5 L312.4 317.4 L312.9 318.2 L313.4 318 L313.9 319.4 L314.4 320.2 L314.9 318.3 L315.4 319.7 L315.9 318.9 L316.4 320.2 L316.9 320.4 L317.4 319.4 L317.9 319.8 L318.4 319.1 L318.9 318.7 L319.4 318 L319.9 319.4 L320.4 319 L320.9 318.7 L321.4 319 L321.9 318.9 L322.4 318.1 L322.9 318.5 L323.4 320 L323.9 318.8 L324.4 320.3 L324.9 317.9 L325.4 317.7 L325.9 319.1 L326.4 319.7 L326.9 318.3 L327.4 319.5 L327.9 319.8 L328.4 319.9 L328.9 318.8 L329.4 318.8 L329.9 317.4 L330.4 318.9 L330.9 319.1 L331.4 320.1 L331.9 317.7 L332.4 318.1 L332.9 317.9 L333.4 319.6 L333.9 316.5 L334.4 317.8 L334.9 320.7 L335.4 319.4 L335.9 317.6 L336.4 318.7 L336.9 319.5 L337.4 319.2 L337.9 318.5 L338.4 318 L338.9 319.5 L339.4 318.7 L339.9 319.4 L340.4 319 L340.9 318.3 L341.4 320 L341.9 318.2 L342.4 319 L342.9 318.1 L343.4 318.4 L343.9 318.4 L344.4 318 L344.9 318.8 L345.4 319.8 L345.9 320.3 L346.4 319.9 L346.9 318.4 L347.4 319.9 L347.9 318.9 L348.4 320.2 L348.9 317.4 L349.4 319.9 L349.9 318 L350.4 319.6 L350.9 318.1" fill="none" stroke="#0a0a0a" stroke-width="1.05" stroke-linejoin="round" />
<path d="M224.4 326.3 L224.9 324.9 L225.4 325.7 L225.9 326.3 L226.4 326.5 L226.9 324.5 L227.4 325.4 L227.9 325.8 L228.4 326.2 L228.9 326.6 L229.4 325.6 L229.9 325 L230.4 326.6 L230.9 326 L231.4 327.1 L231.9 325.8 L232.4 326.8 L232.9 325.4 L233.4 326.5 L233.9 326.3 L234.4 326.6 L234.9 325.3 L235.4 326 L235.9 325.3 L236.4 325.9 L236.9 326.6 L237.4 328.8 L237.9 326.1 L238.4 326.7 L238.9 326.1 L239.4 327 L239.9 326.4 L240.4 326.9 L240.9 326.2 L241.4 328.1 L241.9 327.1 L242.4 324.3 L242.9 326.1 L243.4 325.9 L243.9 323.8 L244.4 325 L244.9 325.3 L245.4 325.1 L245.9 325.8 L246.4 324.1 L246.9 326.3 L247.4 326.4 L247.9 326 L248.4 325.3 L248.9 325.6 L249.4 325.2 L249.9 326.6 L250.4 326 L250.9 327.3 L251.4 325.2 L251.9 326.8 L252.4 324.9 L252.9 325.3 L253.4 324.5 L253.9 325.9 L254.4 325.3 L254.9 325.9 L255.4 326.7 L255.9 325.3 L256.4 325.7 L256.9 326.1 L257.4 325.2 L257.9 324.8 L258.4 325.6 L258.9 325.7 L259.4 325.9 L259.9 325.9 L260.4 324.6 L260.9 325.5 L261.4 326.2 L261.9 324.7 L262.4 325.4 L262.9 324.5 L263.4 325.2 L263.9 326.6 L264.4 325.2 L264.9 324.1 L265.4 325.3 L265.9 325.2 L266.4 326 L266.9 323.7 L267.4 324.1 L267.9 324.8 L268.4 323.5 L268.9 325.9 L269.4 323 L269.9 324.1 L270.4 323.5 L270.9 324.2 L271.4 325.5 L271.9 325.3 L272.4 325.6 L272.9 325.3 L273.4 322.9 L273.9 325 L274.4 323 L274.9 324.2 L275.4 324.3 L275.9 324.1 L276.4 325 L276.9 323.9 L277.4 326.1 L277.9 325.1 L278.4 325.6 L278.9 325.2 L279.4 325.3 L279.9 324.5 L280.4 326.2 L280.9 323.5 L281.4 324.9 L281.9 324.4 L282.4 324.2 L282.9 324.7 L283.4 323.7 L283.9 325.1 L284.4 325 L284.9 324.4 L285.4 325 L285.9 323.4 L286.4 322.6 L286.9 323.7 L287.4 324 L287.9 326.5 L288.4 324 L288.9 325.1 L289.4 324.9 L289.9 326.1 L290.4 324.3 L290.9 324.7 L291.4 323.9 L291.9 323.3 L292.4 323.2 L292.9 323.4 L293.4 325.3 L293.9 324.3 L294.4 323.9 L294.9 324 L295.4 323.5 L295.9 324 L296.4 323.9 L296.9 324.5 L297.4 324.8 L297.9 322.4 L298.4 324.1 L298.9 325.1 L299.4 323 L299.9 323.6 L300.4 324 L300.9 324.8 L301.4 324.4 L301.9 323.6 L302.4 324.2 L302.9 324.7 L303.4 324.1 L303.9 325.4 L304.4 324.1 L304.9 322.8 L305.4 323 L305.9 323.6 L306.4 323.5 L306.9 324.2 L307.4 324 L307.9 325.2 L308.4 324.3 L308.9 324.9 L309.4 322.9 L309.9 323.2 L310.4 324.2 L310.9 323.6 L311.4 324.1 L311.9 323.7 L312.4 322.9 L312.9 325 L313.4 324.5 L313.9 322.1 L314.4 322.9 L314.9 323.5 L315.4 324 L315.9 323.3 L316.4 322.2 L316.9 324.1 L317.4 323.2 L317.9 324.4 L318.4 323.6 L318.9 324.2 L319.4 324.1 L319.9 324.1 L320.4 322.8 L320.9 324.2 L321.4 323.4 L321.9 322.1 L322.4 322.9 L322.9 322.9 L323.4 323.6 L323.9 323.8 L324.4 322.2 L324.9 323.8 L325.4 323.1 L325.9 322.2 L326.4 323.9 L326.9 322.4 L327.4 322 L327.9 323.8 L328.4 323.9 L328.9 322.5 L329.4 324 L329.9 323.9 L330.4 322.6 L330.9 324.8 L331.4 322.9 L331.9 323.2 L332.4 320.8 L332.9 323.5 L333.4 322.4 L333.9 323.3 L334.4 321.4 L334.9 324 L335.4 324.2 L335.9 324.6 L336.4 320.2 L336.9 323.4 L337.4 323.2 L337.9 320.1 L338.4 322.2 L338.9 322.7 L339.4 324.1 L339.9 322 L340.4 323 L340.9 322.7 L341.4 323.1 L341.9 322.4 L342.4 323.5 L342.9 323.6 L343.4 321.5 L343.9 323.7 L344.4 322 L344.9 322.4 L345.4 323.7 L345.9 322.7 L346.4 323.2 L346.9 323.3 L347.4 323.2 L347.9 322.1 L348.4 321.7 L348.9 323.2 L349.4 323.3 L349.9 322.9 L350.4 322.4 L350.9 323.3" fill="none" stroke="#0a0a0a" stroke-width="1.05" stroke-linejoin="round" />
<path d="M224.4 331.4 L224.9 332.9 L225.4 333 L225.9 333.2 L226.4 331.7 L226.9 331.8 L227.4 332.8 L227.9 332 L228.4 332.3 L228.9 333.2 L229.4 332.7 L229.9 333.9 L230.4 332.5 L230.9 333.8 L231.4 333.2 L231.9 334.5 L232.4 332.2 L232.9 332 L233.4 333.3 L233.9 331.6 L234.4 331.6 L234.9 332.2 L235.4 332.3 L235.9 330.7 L236.4 332.1 L236.9 331.6 L237.4 331.8 L237.9 332 L238.4 331.6 L238.9 332.7 L239.4 332.2 L239.9 331.6 L240.4 331.8 L240.9 332.6 L241.4 332.3 L241.9 332.7 L242.4 331.5 L242.9 331.7 L243.4 333.3 L243.9 331.5 L244.4 333 L244.9 332.2 L245.4 331 L245.9 330.1 L246.4 331.9 L246.9 330.7 L247.4 330.7 L247.9 329.7 L248.4 332.3 L248.9 331.3 L249.4 331.2 L249.9 331.5 L250.4 331.3 L250.9 331.2 L251.4 331.5 L251.9 330.8 L252.4 328.7 L252.9 331.7 L253.4 331.3 L253.9 331 L254.4 332.3 L254.9 329.6 L255.4 328.3 L255.9 332.2 L256.4 331.2 L256.9 329.3 L257.4 330.4 L257.9 331.3 L258.4 329.6 L258.9 331.2 L259.4 332.5 L259.9 331.9 L260.4 330.6 L260.9 330.8 L261.4 329.7 L261.9 330.6 L262.4 330.2 L262.9 329.6 L263.4 329.2 L263.9 332.1 L264.4 330.5 L264.9 329.4 L265.4 329.9 L265.9 331.6 L266.4 331.7 L266.9 329.7 L267.4 330.4 L267.9 331 L268.4 329.9 L268.9 329.1 L269.4 329.2 L269.9 330.1 L270.4 329.4 L270.9 328.9 L271.4 329.8 L271.9 330.8 L272.4 330.6 L272.9 329.7 L273.4 331.6 L273.9 329.2 L274.4 329.8 L274.9 328.6 L275.4 330.5 L275.9 329.7 L276.4 328.3 L276.9 329 L277.4 331.3 L277.9 330.3 L278.4 329.8 L278.9 330.4 L279.4 328.2 L279.9 328.9 L280.4 328.4 L280.9 328.8 L281.4 329.2 L281.9 330 L282.4 330.4 L282.9 330.3 L283.4 331.8 L283.9 329 L284.4 329.4 L284.9 329.8 L285.4 328.6 L285.9 329 L286.4 329.6 L286.9 328.5 L287.4 329.6 L287.9 330.3 L288.4 328.2 L288.9 327.1 L289.4 329.2 L289.9 328.2 L290.4 329.2 L290.9 328.7 L291.4 329.3 L291.9 330 L292.4 329.7 L292.9 328.7 L293.4 327.9 L293.9 326.7 L294.4 327 L294.9 328.2 L295.4 328.9 L295.9 328.2 L296.4 328.3 L296.9 327.4 L297.4 327.3 L297.9 327.2 L298.4 329.3 L298.9 326.9 L299.4 329.3 L299.9 327.8 L300.4 329.1 L300.9 328.8 L301.4 329.2 L301.9 329.6 L302.4 327.8 L302.9 327.6 L303.4 328.1 L303.9 327.7 L304.4 329 L304.9 328.3 L305.4 328.4 L305.9 328.7 L306.4 327.9 L306.9 329.3 L307.4 326.6 L307.9 328.5 L308.4 328.7 L308.9 327.5 L309.4 327.6 L309.9 329 L310.4 327.9 L310.9 326.4 L311.4 326.9 L311.9 329 L312.4 327.3 L312.9 329.2 L313.4 329.2 L313.9 327.8 L314.4 328.5 L314.9 327.2 L315.4 327.6 L315.9 327.3 L316.4 328.4 L316.9 326.7 L317.4 327.7 L317.9 327.9 L318.4 328.3 L318.9 325.9 L319.4 326.2 L319.9 327 L320.4 327.5 L320.9 327.8 L321.4 327.9 L321.9 329.5 L322.4 328.2 L322.9 328.1 L323.4 327.2 L323.9 328.3 L324.4 328.2 L324.9 328.1 L325.4 327.4 L325.9 328.1 L326.4 328.8 L326.9 326.7 L327.4 325.5 L327.9 328.2 L328.4 328.1 L328.9 327.2 L329.4 327 L329.9 329.8 L330.4 326.9 L330.9 326.2 L331.4 326.9 L331.9 327.7 L332.4 326.7 L332.9 326.9 L333.4 327.5 L333.9 326.8 L334.4 327.3 L334.9 327.1 L335.4 326.2 L335.9 327.2 L336.4 326.1 L336.9 327.9 L337.4 326.2 L337.9 326.8 L338.4 325.4 L338.9 326.6 L339.4 325.9 L339.9 328.3 L340.4 326.8 L340.9 327.4 L341.4 325.4 L341.9 325.8 L342.4 326.7 L342.9 325.7 L343.4 327.9 L343.9 326.5 L344.4 326.9 L344.9 327.1 L345.4 326.6 L345.9 327.4 L346.4 326.1 L346.9 327 L347.4 327.8 L347.9 326.9 L348.4 326.8 L348.9 326.4 L349.4 326.7 L349.9 327.2 L350.4 326.4 L350.9 325.1" fill="none" stroke="#0a0a0a" stroke-width="1.05" stroke-linejoin="round" />
<path d="M224.4 338.5 L224.9 339.1 L225.4 338.6 L225.9 339.9 L226.4 337.4 L226.9 337.6 L227.4 339 L227.9 337.5 L228.4 338.6 L228.9 338.3 L229.4 336.5 L229.9 338.8 L230.4 339.4 L230.9 338.3 L231.4 336.8 L231.9 338.7 L232.4 337.1 L232.9 337.8 L233.4 338.3 L233.9 337.2 L234.4 336.3 L234.9 337.7 L235.4 337.7 L235.9 337 L236.4 337 L236.9 338.3 L237.4 337.5 L237.9 337.1 L238.4 337 L238.9 337.6 L239.4 337.5 L239.9 337.2 L240.4 336.1 L240.9 337 L241.4 336.7 L241.9 337.3 L242.4 338.2 L242.9 338 L243.4 337.7 L243.9 337.2 L244.4 336.7 L244.9 337.3 L245.4 336.5 L245.9 336.6 L246.4 336.1 L246.9 336.8 L247.4 336.7 L247.9 338.4 L248.4 337.2 L248.9 336.3 L249.4 337.3 L249.9 336.2 L250.4 337.4 L250.9 337.2 L251.4 339 L251.9 335.5 L252.4 336.3 L252.9 336.3 L253.4 336.6 L253.9 336.9 L254.4 335.4 L254.9 335.6 L255.4 336.5 L255.9 337 L256.4 335.1 L256.9 334.7 L257.4 337 L257.9 336.7 L258.4 336.9 L258.9 335.1 L259.4 335.7 L259.9 336.1 L260.4 336.2 L260.9 335.7 L261.4 335.7 L261.9 336.6 L262.4 335.3 L262.9 335.2 L263.4 335.2 L263.9 335.1 L264.4 335.7 L264.9 335.3 L265.4 335.1 L265.9 336.7 L266.4 335.7 L266.9 335.1 L267.4 336.4 L267.9 334.8 L268.4 335.3 L268.9 335.1 L269.4 334.7 L269.9 334.8 L270.4 335.2 L270.9 333.8 L271.4 334.7 L271.9 335.2 L272.4 335.2 L272.9 335.2 L273.4 336.9 L273.9 335.5 L274.4 334.7 L274.9 334.7 L275.4 334.8 L275.9 335.1 L276.4 334.5 L276.9 336 L277.4 333.7 L277.9 335.2 L278.4 335 L278.9 333.6 L279.4 335.1 L279.9 335 L280.4 333.9 L280.9 336.4 L281.4 335 L281.9 334.1 L282.4 333.9 L282.9 333.6 L283.4 334.5 L283.9 334.3 L284.4 333 L284.9 333.3 L285.4 333.5 L285.9 333.8 L286.4 333.8 L286.9 333.5 L287.4 334.5 L287.9 334.8 L288.4 334 L288.9 332 L289.4 333.7 L289.9 334.3 L290.4 333.7 L290.9 334 L291.4 333.8 L291.9 332.4 L292.4 331.5 L292.9 334.2 L293.4 333.2 L293.9 334 L294.4 333.3 L294.9 333.4 L295.4 334.7 L295.9 332.4 L296.4 333.4 L296.9 332.5 L297.4 333.4 L297.9 333.8 L298.4 333.9 L298.9 333.4 L299.4 332.1 L299.9 333.4 L300.4 334 L300.9 334 L301.4 335 L301.9 333.6 L302.4 332.2 L302.9 332.6 L303.4 333.1 L303.9 333.9 L304.4 332 L304.9 333.7 L305.4 333.5 L305.9 332.1 L306.4 333.4 L306.9 332.2 L307.4 332.8 L307.9 332.5 L308.4 332.9 L308.9 331.7 L309.4 333.1 L309.9 330.8 L310.4 332.3 L310.9 332.1 L311.4 333.9 L311.9 333 L312.4 332.1 L312.9 331.7 L313.4 332.5 L313.9 331.9 L314.4 334.3 L314.9 330 L315.4 332.4 L315.9 330.2 L316.4 333.2 L316.9 331.6 L317.4 333.6 L317.9 331.8 L318.4 333.1 L318.9 332.3 L319.4 333.1 L319.9 332.1 L320.4 329.5 L320.9 331.4 L321.4 330.7 L321.9 332.8 L322.4 332.4 L322.9 332 L323.4 332.3 L323.9 332.1 L324.4 331.4 L324.9 333.5 L325.4 332 L325.9 331.6 L326.4 330.5 L326.9 331.2 L327.4 331.7 L327.9 331.5 L328.4 331.3 L328.9 331.6 L329.4 330.7 L329.9 331.6 L330.4 330.2 L330.9 330.8 L331.4 330.9 L331.9 332.2 L332.4 331.9 L332.9 331.5 L333.4 330.4 L333.9 331 L334.4 332 L334.9 332.4 L335.4 330.1 L335.9 330.9 L336.4 331.4 L336.9 331.5 L337.4 331.2 L337.9 331.8 L338.4 329.9 L338.9 332.5 L339.4 330.1 L339.9 331.1 L340.4 331.5 L340.9 332 L341.4 331.8 L341.9 331.7 L342.4 332.1 L342.9 330.8 L343.4 331.6 L343.9 332.2 L344.4 330.2 L344.9 329.7 L345.4 330 L345.9 332 L346.4 331.9 L346.9 330.5 L347.4 331 L347.9 331.1 L348.4 331.6 L348.9 329.1 L349.4 330.2 L349.9 330.4 L350.4 330.9 L350.9 330.6" fill="none" stroke="#0a0a0a" stroke-width="1.05" stroke-linejoin="round" />
<path d="M224.4 344.9 L224.9 342.4 L225.4 347.2 L225.9 345.2 L226.4 345.2 L226.9 343.8 L227.4 344.7 L227.9 346 L228.4 345.8 L228.9 344.2 L229.4 343 L229.9 344.2 L230.4 343.7 L230.9 344.7 L231.4 342.8 L231.9 343.7 L232.4 344 L232.9 343.3 L233.4 344.5 L233.9 342.6 L234.4 342.5 L234.9 343.2 L235.4 344.1 L235.9 343.1 L236.4 342.8 L236.9 343.9 L237.4 343.4 L237.9 342.7 L238.4 343.2 L238.9 342.8 L239.4 343.5 L239.9 343 L240.4 342.2 L240.9 342.4 L241.4 342.4 L241.9 343 L242.4 343 L242.9 341.9 L243.4 342.4 L243.9 342.8 L244.4 343.4 L244.9 342.6 L245.4 344 L245.9 342.3 L246.4 342.9 L246.9 341.9 L247.4 341.3 L247.9 342.2 L248.4 342.4 L248.9 342.2 L249.4 342 L249.9 341.6 L250.4 341.1 L250.9 341.5 L251.4 342.1 L251.9 342.5 L252.4 338.8 L252.9 342.1 L253.4 342.4 L253.9 342.5 L254.4 341.7 L254.9 341.9 L255.4 340.9 L255.9 341.2 L256.4 341.6 L256.9 340.2 L257.4 340.4 L257.9 341.2 L258.4 339.8 L258.9 341 L259.4 339.6 L259.9 341 L260.4 340.8 L260.9 340.3 L261.4 339.9 L261.9 340.2 L262.4 338.7 L262.9 340.2 L263.4 340.6 L263.9 341.5 L264.4 340 L264.9 340.2 L265.4 341.5 L265.9 341.7 L266.4 339.8 L266.9 341.1 L267.4 341.1 L267.9 340.5 L268.4 339.2 L268.9 339.1 L269.4 340.4 L269.9 341.9 L270.4 339.7 L270.9 341.1 L271.4 341.4 L271.9 338.6 L272.4 339.1 L272.9 340.9 L273.4 340.4 L273.9 340 L274.4 339.4 L274.9 339.9 L275.4 338.8 L275.9 341.5 L276.4 338.3 L276.9 337.7 L277.4 339.3 L277.9 340.4 L278.4 338.7 L278.9 339 L279.4 338.1 L279.9 338.9 L280.4 338 L280.9 338 L281.4 337.5 L281.9 338.3 L282.4 340.3 L282.9 338.6 L283.4 338.8 L283.9 340.5 L284.4 338 L284.9 337.6 L285.4 338.9 L285.9 337.4 L286.4 338.7 L286.9 339.3 L287.4 337.4 L287.9 337.8 L288.4 339.7 L288.9 337.2 L289.4 337.5 L289.9 338.3 L290.4 337.8 L290.9 337.3 L291.4 339.3 L291.9 337.4 L292.4 338.1 L292.9 337.5 L293.4 337.6 L293.9 336.5 L294.4 338.5 L294.9 337.3 L295.4 338.7 L295.9 336.6 L296.4 337.1 L296.9 337.9 L297.4 337.5 L297.9 336.8 L298.4 337.2 L298.9 336.2 L299.4 337.3 L299.9 334.9 L300.4 337.3 L300.9 338.3 L301.4 337.9 L301.9 337.8 L302.4 336.7 L302.9 337.4 L303.4 336.6 L303.9 336.8 L304.4 336.8 L304.9 333.9 L305.4 337.6 L305.9 337.2 L306.4 337.5 L306.9 335.9 L307.4 337.2 L307.9 337 L308.4 334.6 L308.9 335 L309.4 336.5 L309.9 335.9 L310.4 336.4 L310.9 335.8 L311.4 337.6 L311.9 334.6 L312.4 335.1 L312.9 335.4 L313.4 335 L313.9 335.6 L314.4 336.1 L314.9 334.9 L315.4 336.3 L315.9 337.1 L316.4 336.9 L316.9 337.7 L317.4 336.9 L317.9 335.8 L318.4 337.4 L318.9 336.4 L319.4 337.4 L319.9 335.5 L320.4 333.8 L320.9 334.6 L321.4 335.7 L321.9 336 L322.4 335.3 L322.9 336.4 L323.4 334.5 L323.9 334.8 L324.4 336.2 L324.9 335.4 L325.4 335.4 L325.9 336.5 L326.4 336.2 L326.9 334.5 L327.4 335.3 L327.9 333.7 L328.4 335.1 L328.9 335.4 L329.4 333.5 L329.9 336.3 L330.4 336.7 L330.9 335.4 L331.4 335.7 L331.9 336.2 L332.4 334.7 L332.9 335.7 L333.4 335.1 L333.9 333.4 L334.4 333.9 L334.9 334.2 L335.4 335.5 L335.9 334.7 L336.4 335.4 L336.9 334.1 L337.4 333.4 L337.9 336.2 L338.4 336.8 L338.9 334.7 L339.4 334.2 L339.9 335.3 L340.4 333.3 L340.9 334.1 L341.4 333 L341.9 334.6 L342.4 334.4 L342.9 333.8 L343.4 333.5 L343.9 332.7 L344.4 333.3 L344.9 335.1 L345.4 333.7 L345.9 335 L346.4 333.1 L346.9 333.8 L347.4 333.4 L347.9 333.6 L348.4 334.4 L348.9 332 L349.4 334.3 L349.9 334.3 L350.4 333.6 L350.9 333.7" fill="none" stroke="#0a0a0a" stroke-width="1.05" stroke-linejoin="round" />
<path d="M224.4 349.6 L224.9 349 L225.4 348.1 L225.9 348.9 L226.4 349.5 L226.9 349 L227.4 348.6 L227.9 348.7 L228.4 348 L228.9 347.9 L229.4 346.6 L229.9 348 L230.4 349 L230.9 347.7 L231.4 347.2 L231.9 348.7 L232.4 348 L232.9 347.9 L233.4 348.1 L233.9 348.2 L234.4 347.5 L234.9 346.8 L235.4 348.9 L235.9 347.4 L236.4 346.6 L236.9 347.4 L237.4 348.2 L237.9 345.8 L238.4 348.1 L238.9 346.8 L239.4 348.6 L239.9 347.4 L240.4 346.6 L240.9 347.7 L241.4 347.7 L241.9 346.2 L242.4 346.6 L242.9 345.9 L243.4 347.1 L243.9 345 L244.4 346 L244.9 344.3 L245.4 346.5 L245.9 344 L246.4 345 L246.9 346.1 L247.4 345.5 L247.9 345.3 L248.4 344.8 L248.9 345.2 L249.4 344 L249.9 345.7 L250.4 346.1 L250.9 346 L251.4 345.2 L251.9 346.2 L252.4 345.5 L252.9 345.9 L253.4 345.3 L253.9 344.9 L254.4 344.2 L254.9 342.5 L255.4 345.3 L255.9 344.6 L256.4 346.3 L256.9 342.8 L257.4 345.2 L257.9 343.6 L258.4 344.3 L258.9 343.5 L259.4 344.5 L259.9 344.1 L260.4 344.8 L260.9 344.2 L261.4 344.4 L261.9 345 L262.4 344.3 L262.9 343.7 L263.4 344.8 L263.9 343.6 L264.4 343.9 L264.9 343.3 L265.4 342.9 L265.9 340.8 L266.4 343.9 L266.9 342.3 L267.4 343.9 L267.9 344.7 L268.4 342 L268.9 343.8 L269.4 342.9 L269.9 343.3 L270.4 341.8 L270.9 342.8 L271.4 342.9 L271.9 343.9 L272.4 344.5 L272.9 342.8 L273.4 342.2 L273.9 344.4 L274.4 342.3 L274.9 342.3 L275.4 342.4 L275.9 342.6 L276.4 342.8 L276.9 341.6 L277.4 342 L277.9 343.6 L278.4 343.3 L278.9 342.3 L279.4 342.1 L279.9 341.6 L280.4 342.6 L280.9 341.2 L281.4 341.7 L281.9 341.2 L282.4 341 L282.9 341.5 L283.4 341.4 L283.9 340.8 L284.4 341.2 L284.9 341.3 L285.4 340.8 L285.9 340.6 L286.4 340.9 L286.9 341.6 L287.4 341.9 L287.9 341.1 L288.4 340.6 L288.9 340.8 L289.4 342.4 L289.9 341.5 L290.4 339.8 L290.9 340.5 L291.4 340.1 L291.9 340.2 L292.4 339 L292.9 340.4 L293.4 339.1 L293.9 339.7 L294.4 341.5 L294.9 341 L295.4 339.4 L295.9 339.2 L296.4 339.2 L296.9 338.3 L297.4 339 L297.9 339.6 L298.4 338.9 L298.9 340.4 L299.4 339.6 L299.9 339.2 L300.4 341.1 L300.9 340.1 L301.4 339.5 L301.9 341 L302.4 340.5 L302.9 338.7 L303.4 339.6 L303.9 338.9 L304.4 337.9 L304.9 340.8 L305.4 340.4 L305.9 337.9 L306.4 339.4 L306.9 337.5 L307.4 339.8 L307.9 338.8 L308.4 338.5 L308.9 339.8 L309.4 338.7 L309.9 338.4 L310.4 339.4 L310.9 338.3 L311.4 339.2 L311.9 338.4 L312.4 339.1 L312.9 338.9 L313.4 339 L313.9 337.4 L314.4 339.8 L314.9 338 L315.4 339.6 L315.9 337.5 L316.4 337.8 L316.9 337.7 L317.4 338.9 L317.9 337.5 L318.4 338.2 L318.9 336.4 L319.4 337.3 L319.9 337.9 L320.4 337.5 L320.9 336 L321.4 338 L321.9 336.7 L322.4 339.1 L322.9 337.2 L323.4 339.3 L323.9 337.9 L324.4 337.7 L324.9 336.8 L325.4 337.1 L325.9 337.5 L326.4 335.4 L326.9 337.9 L327.4 336 L327.9 336.7 L328.4 334.5 L328.9 337.3 L329.4 337.5 L329.9 337 L330.4 337 L330.9 336.4 L331.4 336.8 L331.9 337.7 L332.4 336.2 L332.9 337 L333.4 337.1 L333.9 336.2 L334.4 336.6 L334.9 336.5 L335.4 335.9 L335.9 338.4 L336.4 335.8 L336.9 337.7 L337.4 337.1 L337.9 334.3 L338.4 336.3 L338.9 336.9 L339.4 336.7 L339.9 335.1 L340.4 336.1 L340.9 334.8 L341.4 334.9 L341.9 335.5 L342.4 335.9 L342.9 337.1 L343.4 335.9 L343.9 336.5 L344.4 334.5 L344.9 334.5 L345.4 335 L345.9 337 L346.4 334.2 L346.9 334 L347.4 335.2 L347.9 336.3 L348.4 333.8 L348.9 335 L349.4 334 L349.9 336.4 L350.4 335.7 L350.9 335.3" fill="none" stroke="#0a0a0a" stroke-width="1.05" stroke-linejoin="round" />
<line x1="445.5" y1="284" x2="445.5" y2="319" stroke="#555" stroke-width="1.0"/>
<line x1="438" y1="303.3" x2="445.5" y2="303.3" stroke="#000" stroke-width="1.6"/>
<path d="M445.8 298.9 L446.3 297.8 L446.8 297.2 L447.3 296.5 L447.8 295.9 L448.3 295.5 L448.8 294.9 L449.3 294.7 L449.8 293.7 L450.3 293.5 L450.8 292.8 L451.3 292.3 L451.8 291.5 L452.3 290.7 L452.8 290.1 L453.3 289.8 L453.8 289 L454.3 288.3 L454.8 287.6 L455.3 287 L455.8 286.3 L456.3 285.5 L456.8 284.9 L457.3 284.4 L457.8 283.8 L458.3 282.7 L458.8 281.8 L459.3 281.2 L459.8 280.1 L460.3 279 L460.8 278.3 L461.3 277.6 L461.8 276.9 L462.3 275.7 L462.8 275.1 L463.3 274.2 L463.8 273.8 L464.3 273 L464.8 272.4 L465.3 271.6 L465.8 271.2 L466.3 270.7 L466.8 269.6 L467.3 269.8 L467.8 269.2 L468.3 268.7 L468.8 268.2 L469.3 267.8 L469.8 267.4 L470.3 266.7 L470.8 266.5 L471.3 266 L471.8 265.6 L472.3 264.9 L472.8 264.7 L473.3 264 L473.8 263.9 L474.3 263.7 L474.8 263.2 L475.3 262.5 L475.8 262.1 L476.3 261.7 L476.8 261.5 L477.3 261 L477.8 260.7 L478.3 259.9 L478.8 259.9 L479.3 259.6 L479.8 259.4 L480.3 259.4 L480.8 258.6 L481.3 258.4 L481.8 258.5 L482.3 257.9 L482.8 257.8 L483.3 257.6 L483.8 257.3 L484.3 256.9 L484.8 256.9 L485.3 256.8 L485.8 256 L486.3 255.9 L486.8 255.9 L487.3 255.4 L487.8 255 L488.3 254.9 L488.8 254.9 L489.3 254.2 L489.8 254.3 L490.3 254.1 L490.8 253.6 L491.3 253.6 L491.8 253.5 L492.3 253.3 L492.8 253.1 L493.3 252.4 L493.8 252.7 L494.3 252.5 L494.8 252.4 L495.3 251.8 L495.8 252 L496.3 251.7 L496.8 251.2 L497.3 251.6 L497.8 251 L498.3 250.8 L498.8 251 L499.3 250.6 L499.8 250.7 L500.3 250.4 L500.8 250.4 L501.3 250.4 L501.8 250.1 L502.3 250.2 L502.8 250 L503.3 249.5 L503.8 249.8 L504.3 249.7 L504.8 249.4 L505.3 249.6 L505.8 249.6 L506.3 249.3 L506.8 248.7 L507.3 249 L507.8 248.8 L508.3 248.7 L508.8 248.8 L509.3 248.5 L509.8 248.9 L510.3 248.5 L510.8 248.4 L511.3 248.5 L511.8 248.5 L512.3 248.5 L512.8 248.3 L513.3 248.1 L513.8 248 L514.3 247.4 L514.8 247.5 L515.3 248.1 L515.8 247.7 L516.3 248.1 L516.8 248.1 L517.3 247.3 L517.8 247.6 L518.3 248.2 L518.8 247.2 L519.3 247.4 L519.8 247.2 L520.3 247.2 L520.8 247.1 L521.3 247.1 L521.8 247.2 L522.3 246.8 L522.8 247.1 L523.3 246.7 L523.8 247 L524.3 246.9 L524.8 246.5 L525.3 246.7 L525.8 246.4 L526.3 246.3 L526.8 246.8 L527.3 246 L527.8 246.5 L528.3 246.5 L528.8 246.1 L529.3 246.5 L529.8 246.4 L530.3 245.8 L530.8 246.2 L531.3 246.1 L531.8 245.7 L532.3 246 L532.8 246 L533.3 245.6 L533.8 245.2 L534.3 245.8 L534.8 245.4 L535.3 245 L535.8 245.4 L536.3 244.7 L536.8 245.2 L537.3 245.7 L537.8 244.4 L538.3 245.3 L538.8 244.8 L539.3 244.9 L539.8 244.7 L540.3 245.1 L540.8 244.9 L541.3 244.6 L541.8 244.4 L542.3 244.6 L542.8 245 L543.3 244.3 L543.8 244.8 L544.3 244.7 L544.8 244 L545.3 244.9 L545.8 244.5 L546.3 245.1 L546.8 245 L547.3 244.3 L547.8 244.3 L548.3 244 L548.8 243.9 L549.3 244.5 L549.8 244.2 L550.3 244.1 L550.8 244.1 L551.3 244.4 L551.8 244.4 L552.3 244.1 L552.8 244 L553.3 244.1 L553.8 244.7 L554.3 243.3 L554.8 243.6 L555.3 244.1 L555.8 244 L556.3 244.3 L556.8 244.3 L557.3 244.5 L557.8 243.5 L558.3 244 L558.8 243.7 L559.3 244 L559.8 243.8 L560.3 244 L560.8 243.4 L561.3 243.7 L561.8 243.5 L562.3 243.5 L562.8 243.4 L563.3 243.2 L563.8 243.9 L564.3 243.6 L564.8 243.9 L565.3 243.2 L565.8 242.8 L566.3 243.3 L566.8 243.4 L567.3 243.7 L567.8 243.8 L568.3 243.8 L568.8 243.9 L569.3 243.6 L569.8 243.4 L570.3 243.1 L570.8 243.6 L571.3 243.2 L571.8 243.1 L572.3 243.6 L572.3 247 L571.8 246.8 L571.3 246.7 L570.8 246.5 L570.3 246.2 L569.8 246.8 L569.3 247.2 L568.8 247 L568.3 246.4 L567.8 247.5 L567.3 246.2 L566.8 247.4 L566.3 246.5 L565.8 246.9 L565.3 246.6 L564.8 246.4 L564.3 247 L563.8 246.7 L563.3 246.6 L562.8 246.8 L562.3 246.6 L561.8 247.1 L561.3 246.7 L560.8 247.4 L560.3 246.6 L559.8 247.3 L559.3 247.2 L558.8 246.8 L558.3 247 L557.8 247.5 L557.3 247.5 L556.8 246.7 L556.3 246.9 L555.8 247.2 L555.3 247.2 L554.8 246.8 L554.3 246.9 L553.8 246.7 L553.3 246.8 L552.8 247.1 L552.3 246.5 L551.8 247.3 L551.3 247.2 L550.8 246.9 L550.3 246.7 L549.8 247 L549.3 247 L548.8 247.1 L548.3 246.9 L547.8 247.1 L547.3 247.6 L546.8 247.9 L546.3 247 L545.8 247.3 L545.3 247.4 L544.8 247.2 L544.3 247.6 L543.8 247.5 L543.3 247.7 L542.8 247.5 L542.3 247.8 L541.8 247.9 L541.3 248.3 L540.8 247.6 L540.3 247.6 L539.8 247.9 L539.3 247.6 L538.8 248.1 L538.3 248 L537.8 247.5 L537.3 248 L536.8 247.7 L536.3 248.2 L535.8 248.2 L535.3 248.2 L534.8 248.2 L534.3 248.3 L533.8 248.7 L533.3 248.8 L532.8 248.4 L532.3 248.6 L531.8 248.6 L531.3 248.5 L530.8 248.4 L530.3 248.7 L529.8 249.1 L529.3 249.3 L528.8 249 L528.3 249.1 L527.8 248.9 L527.3 249.1 L526.8 248.8 L526.3 249.3 L525.8 249 L525.3 249.6 L524.8 249.3 L524.3 249.3 L523.8 249.5 L523.3 249.9 L522.8 249.3 L522.3 249.5 L521.8 249.3 L521.3 249.5 L520.8 250.1 L520.3 250.4 L519.8 250.4 L519.3 249.8 L518.8 250 L518.3 249.6 L517.8 249.9 L517.3 250.1 L516.8 250.4 L516.3 250.3 L515.8 250.4 L515.3 250 L514.8 250.2 L514.3 250.4 L513.8 250.4 L513.3 250.5 L512.8 250.3 L512.3 250.8 L511.8 250.8 L511.3 250.6 L510.8 251.1 L510.3 251.1 L509.8 251.3 L509.3 250.9 L508.8 251.1 L508.3 251.8 L507.8 250.8 L507.3 251.6 L506.8 251.5 L506.3 251.7 L505.8 251.7 L505.3 251.8 L504.8 251.9 L504.3 251.7 L503.8 251.4 L503.3 252.2 L502.8 252.4 L502.3 252.9 L501.8 252.4 L501.3 252.2 L500.8 252.8 L500.3 252.9 L499.8 252.8 L499.3 252.6 L498.8 253.3 L498.3 253.1 L497.8 253.5 L497.3 253.3 L496.8 253.8 L496.3 253.9 L495.8 254.3 L495.3 254.4 L494.8 254.8 L494.3 254.8 L493.8 254.8 L493.3 255.2 L492.8 255.2 L492.3 255.5 L491.8 255.5 L491.3 255.9 L490.8 256.1 L490.3 256.1 L489.8 256.6 L489.3 256.7 L488.8 257 L488.3 257.3 L487.8 257.7 L487.3 257.9 L486.8 258 L486.3 258.1 L485.8 258.6 L485.3 258.8 L484.8 259.3 L484.3 259.5 L483.8 259.6 L483.3 259.9 L482.8 260.2 L482.3 260.3 L481.8 260.5 L481.3 261 L480.8 261.4 L480.3 261.3 L479.8 261.8 L479.3 262.2 L478.8 262.5 L478.3 262.8 L477.8 263 L477.3 263.3 L476.8 263.8 L476.3 264.2 L475.8 264.5 L475.3 265.1 L474.8 265.9 L474.3 266.2 L473.8 266.2 L473.3 266.7 L472.8 267.6 L472.3 267.6 L471.8 267.7 L471.3 268.8 L470.8 269 L470.3 269.5 L469.8 269.6 L469.3 270.5 L468.8 270.8 L468.3 271.3 L467.8 271.9 L467.3 272.1 L466.8 272.9 L466.3 273.4 L465.8 274.3 L465.3 274.7 L464.8 275.1 L464.3 276 L463.8 276.3 L463.3 277.3 L462.8 278.4 L462.3 279.2 L461.8 280 L461.3 280.9 L460.8 281.6 L460.3 282.4 L459.8 283.7 L459.3 284.3 L458.8 285.2 L458.3 285.9 L457.8 286.2 L457.3 287.3 L456.8 287.6 L456.3 288.3 L455.8 289.4 L455.3 289.5 L454.8 290.2 L454.3 291 L453.8 291.7 L453.3 292.3 L452.8 292.8 L452.3 293.4 L451.8 293.9 L451.3 294.6 L450.8 295.3 L450.3 295.6 L449.8 296.5 L449.3 296.6 L448.8 297.1 L448.3 297.8 L447.8 298.5 L447.3 299.3 L446.8 300.4 L446.3 301.6 L445.8 303.2Z" fill="#000"/>
<line x1="572.5" y1="240.5" x2="572.5" y2="357" stroke="#3a3a3a" stroke-width="1.0"/>
<path d="M572.8 260.6 L573.5 260.8 L574.3 260.2 L575 260.4 L575.8 260 L576.5 260 L577.3 260.1 L578 260.3 L578.8 260.8 L579.5 260.4 L580.3 260.1 L581 259.9 L581.8 260.1 L582.5 260.3 L583.3 260.2 L584 260.3 L584.8 260.1 L585.5 260.4 L586.3 260.4 L587 260.4 L587.8 260.3 L588.5 260.4 L589.3 260.7 L590 260.6 L590.8 260.4 L591.5 260.3 L592.3 259.9 L593 259.7 L593.8 259.5 L594.5 259.9 L595.3 260.4 L596 260.6 L596.8 260.5 L597.5 260.5 L598.3 260.5 L599 260.6 L599.8 260.5 L600.5 260.3 L601.3 260.3 L602 260.2 L602.8 260.2 L603.5 260 L604.3 259.7 L605 260.2 L605.8 260.7 L606.5 261.1 L607.3 261.1 L608 260.5 L608.8 260.6 L609.5 260.7 L610.3 261.2 L611 260.8 L611.8 260.6 L612.5 260.3 L613.3 260.7 L614 260.4 L614.8 260.4 L615.5 260.1 L616.3 260.3 L617 260.3 L617.8 260.6 L618.5 260.6 L619.3 260.7 L620 260.5 L620.8 260.3 L621.5 260.2 L622.3 260.4 L623 260.4 L623.8 260.5 L624.5 260.3 L625.3 260.3 L626 260.1 L626.8 259.8 L627.5 259.9 L628.3 260.1 L629 260.3 L629.8 260.5 L630.5 260.2 L631.3 260.6 L632 260.2 L632.8 260.5 L633.5 260.5 L634.3 260.7 L635 260.6 L635.8 260.2 L636.5 259.8 L637.3 259.8 L638 260.3 L638.8 260.7 L639.5 260.6 L640.3 260.4 L641 260.4 L641.8 260.7 L642.5 260.5 L643.3 260.5 L644 260.2 L644.8 260.2 L645.5 259.9 L646.3 260.1 L647 260.3 L647.8 260.4 L648.5 260.2 L649.3 260.3 L650 260.4 L650.8 260.7 L651.5 260.4 L652.3 260.3 L653 259.9 L653.8 259.8 L654.5 259.9 L655.3 260.1 L656 260.6 L656.8 260.8 L657.5 260.6 L658.3 260.1 L659 259.8 L659.8 259.8 L660.5 260 L661.3 260.1 L662 260 L662.8 260.2 L663.5 260.5 L664.3 260.6 L665 260.3 L665.8 260.4 L666.5 260.4 L667.3 260.4 L668 259.9 L668.8 259.5 L669.5 259.1 L670.3 259 L671 259.3 L671.8 259.7 L672.5 260 L673.3 260.1 L674 260.1 L674.8 260.2 L675.5 259.9 L676.3 260.1 L677 260.3 L677.8 260.5 L678.5 260.6 L679.3 260.3 L680 260.3 L680.8 259.8 L681.5 259.5 L682.3 259.6 L683 259.3 L683.8 259.9 L684.5 260 L685.3 260.1 L686 259.9 L686.8 259.6 L687.5 259.9 L688.3 259.8 L689 260.2 L689.8 259.9 L690.5 259.8 L691.3 259.8 L692 260 L692.8 260.3 L693.5 260.6 L694.3 260.9 L695 260.5 L695.8 260 L696.5 259.8 L697.3 260 L698 259.7 L698.8 259.6" fill="none" stroke="#1a1a1a" stroke-width="0.85" stroke-linejoin="round" />
<path d="M572.8 267.4 L573.5 267.5 L574.3 267.6 L575 267.7 L575.8 267.3 L576.5 267.4 L577.3 267.5 L578 267.7 L578.8 267.5 L579.5 267.7 L580.3 267.5 L581 267.2 L581.8 266.9 L582.5 267 L583.3 266.7 L584 266.8 L584.8 267.1 L585.5 267.6 L586.3 267.9 L587 267.2 L587.8 267.2 L588.5 267.3 L589.3 268.1 L590 268 L590.8 267.6 L591.5 267.4 L592.3 267.3 L593 267.3 L593.8 266.9 L594.5 267.2 L595.3 267.2 L596 267.9 L596.8 267.9 L597.5 267.8 L598.3 267.4 L599 267.1 L599.8 267.3 L600.5 267.2 L601.3 267.5 L602 267.7 L602.8 267.4 L603.5 267.3 L604.3 267.3 L605 267.5 L605.8 267.7 L606.5 267.5 L607.3 268.1 L608 267.9 L608.8 268.2 L609.5 267.8 L610.3 267.9 L611 267.5 L611.8 267.3 L612.5 266.7 L613.3 267 L614 267 L614.8 267.5 L615.5 267.5 L616.3 267.4 L617 267.4 L617.8 267.3 L618.5 267.6 L619.3 267.6 L620 267.5 L620.8 267.5 L621.5 267.6 L622.3 267.4 L623 267.2 L623.8 266.8 L624.5 267.2 L625.3 267.3 L626 267.8 L626.8 267.1 L627.5 267 L628.3 266.6 L629 267.2 L629.8 267.5 L630.5 267.6 L631.3 267.3 L632 267.2 L632.8 267.6 L633.5 267.3 L634.3 267.2 L635 267 L635.8 267.3 L636.5 267.1 L637.3 267.1 L638 267.3 L638.8 267.3 L639.5 267 L640.3 267.1 L641 267 L641.8 267.2 L642.5 267 L643.3 267.2 L644 267.3 L644.8 267.5 L645.5 267.5 L646.3 267.1 L647 267.2 L647.8 267.1 L648.5 267.3 L649.3 267.1 L650 266.6 L650.8 266.7 L651.5 266.6 L652.3 266.7 L653 266.8 L653.8 266.8 L654.5 267.2 L655.3 267.1 L656 267.3 L656.8 267.2 L657.5 267.2 L658.3 267.2 L659 267.4 L659.8 267 L660.5 266.9 L661.3 266.6 L662 266.8 L662.8 267.1 L663.5 267.4 L664.3 267.4 L665 266.9 L665.8 266.9 L666.5 267 L667.3 267.1 L668 266.6 L668.8 266.7 L669.5 266.9 L670.3 267.2 L671 267.2 L671.8 267.3 L672.5 267.6 L673.3 267.9 L674 267.6 L674.8 267.7 L675.5 267.1 L676.3 266.9 L677 266.3 L677.8 267 L678.5 267.2 L679.3 267.5 L680 266.9 L680.8 266.7 L681.5 266.2 L682.3 266.8 L683 266.9 L683.8 267.5 L684.5 266.8 L685.3 266.8 L686 266.8 L686.8 267.1 L687.5 267.2 L688.3 267 L689 267.1 L689.8 267.1 L690.5 267.4 L691.3 267.4 L692 267.2 L692.8 266.9 L693.5 266.9 L694.3 266.9 L695 266.9 L695.8 266.9 L696.5 266.7 L697.3 266.7 L698 266.7 L698.8 267.2" fill="none" stroke="#1a1a1a" stroke-width="0.85" stroke-linejoin="round" />
<path d="M572.8 275.1 L573.5 274.9 L574.3 274.9 L575 275 L575.8 275.1 L576.5 275.2 L577.3 275.3 L578 275.1 L578.8 275 L579.5 275.3 L580.3 275.2 L581 275.1 L581.8 274.6 L582.5 274.8 L583.3 274.6 L584 274.9 L584.8 274.9 L585.5 275 L586.3 274.8 L587 274.3 L587.8 274.5 L588.5 274.4 L589.3 274.6 L590 274.5 L590.8 274.6 L591.5 274.8 L592.3 275.2 L593 274.9 L593.8 274.6 L594.5 274.4 L595.3 274.6 L596 274.6 L596.8 274.6 L597.5 275.1 L598.3 275.4 L599 275.3 L599.8 275 L600.5 274.8 L601.3 274.8 L602 274.5 L602.8 274.3 L603.5 274.2 L604.3 274.6 L605 275.1 L605.8 274.8 L606.5 274.6 L607.3 274.3 L608 274.7 L608.8 274.6 L609.5 274.8 L610.3 274.7 L611 275 L611.8 275 L612.5 274.7 L613.3 274.6 L614 274.7 L614.8 275 L615.5 275.3 L616.3 275.1 L617 275 L617.8 274.8 L618.5 274.9 L619.3 275.3 L620 275.5 L620.8 275.1 L621.5 275 L622.3 274.5 L623 274.6 L623.8 274.4 L624.5 274.8 L625.3 274.9 L626 275.2 L626.8 274.9 L627.5 275 L628.3 274.9 L629 275 L629.8 274.6 L630.5 274.6 L631.3 274.7 L632 275 L632.8 274.9 L633.5 274.8 L634.3 274.7 L635 274.8 L635.8 275 L636.5 275.3 L637.3 275.1 L638 275.3 L638.8 274.4 L639.5 274.7 L640.3 274.2 L641 275.1 L641.8 274.7 L642.5 275.1 L643.3 274.5 L644 274.5 L644.8 274.4 L645.5 274.8 L646.3 274.8 L647 275.1 L647.8 274.9 L648.5 275.3 L649.3 274.7 L650 274.6 L650.8 274.3 L651.5 274.3 L652.3 274.6 L653 274.1 L653.8 274.4 L654.5 274.2 L655.3 274.4 L656 274.4 L656.8 274.5 L657.5 274.5 L658.3 274.7 L659 274.7 L659.8 274.9 L660.5 275 L661.3 274.9 L662 275 L662.8 274.7 L663.5 274.8 L664.3 274.7 L665 274.7 L665.8 274.3 L666.5 274 L667.3 273.9 L668 274.3 L668.8 274.5 L669.5 274.6 L670.3 274.6 L671 274.8 L671.8 275.1 L672.5 274.9 L673.3 274.8 L674 274.7 L674.8 274.6 L675.5 274.5 L676.3 274.2 L677 274.4 L677.8 274.4 L678.5 274.3 L679.3 274.2 L680 273.9 L680.8 274.3 L681.5 274.3 L682.3 274.5 L683 274.3 L683.8 274.4 L684.5 274.4 L685.3 274.6 L686 274.7 L686.8 274.6 L687.5 274.7 L688.3 275 L689 274.9 L689.8 274.6 L690.5 274.1 L691.3 274.5 L692 274.5 L692.8 274.4 L693.5 274.2 L694.3 274.5 L695 274.5 L695.8 274.5 L696.5 274 L697.3 274.1 L698 274.4 L698.8 274.7" fill="none" stroke="#1a1a1a" stroke-width="0.85" stroke-linejoin="round" />
<path d="M572.8 282 L573.5 281.8 L574.3 281.5 L575 281.9 L575.8 282 L576.5 282.4 L577.3 281.9 L578 282.3 L578.8 282.2 L579.5 282.3 L580.3 282.4 L581 282.1 L581.8 282.1 L582.5 281.6 L583.3 281.6 L584 281.6 L584.8 281.6 L585.5 281.7 L586.3 282 L587 281.9 L587.8 281.7 L588.5 281.2 L589.3 281.5 L590 281.9 L590.8 282.2 L591.5 282.3 L592.3 282.2 L593 282.5 L593.8 282.2 L594.5 282 L595.3 281.5 L596 281.8 L596.8 281.9 L597.5 281.8 L598.3 281.5 L599 281.5 L599.8 281.5 L600.5 281.6 L601.3 281.5 L602 281.9 L602.8 282 L603.5 282.6 L604.3 282.2 L605 282.2 L605.8 281.8 L606.5 281.9 L607.3 281.8 L608 281.8 L608.8 281.5 L609.5 281.4 L610.3 281.6 L611 281.6 L611.8 281.6 L612.5 281.6 L613.3 282.2 L614 282.2 L614.8 282.2 L615.5 282.3 L616.3 282.5 L617 282.3 L617.8 281.9 L618.5 281.9 L619.3 282 L620 282 L620.8 281.8 L621.5 281.8 L622.3 281.8 L623 281.8 L623.8 281.7 L624.5 281.5 L625.3 281.9 L626 282.1 L626.8 282.7 L627.5 282.3 L628.3 282.1 L629 281.9 L629.8 282.1 L630.5 281.8 L631.3 281.7 L632 281.4 L632.8 281.7 L633.5 281.5 L634.3 282 L635 282.1 L635.8 282.2 L636.5 282.2 L637.3 282.1 L638 281.9 L638.8 281.6 L639.5 281.6 L640.3 281.7 L641 281.9 L641.8 282 L642.5 281.9 L643.3 282 L644 282 L644.8 282.2 L645.5 282.1 L646.3 281.8 L647 281.4 L647.8 281.1 L648.5 281.5 L649.3 281.8 L650 282 L650.8 281.6 L651.5 281.6 L652.3 281.6 L653 281.9 L653.8 281.7 L654.5 281.5 L655.3 281.7 L656 281.7 L656.8 281.9 L657.5 281.8 L658.3 281.7 L659 281.8 L659.8 281.6 L660.5 281.9 L661.3 281.8 L662 281.6 L662.8 281.2 L663.5 281.5 L664.3 281.7 L665 282.2 L665.8 282.1 L666.5 282.2 L667.3 282.1 L668 282 L668.8 282.3 L669.5 282.3 L670.3 282.4 L671 282 L671.8 281.9 L672.5 281.6 L673.3 281.8 L674 281.9 L674.8 282.3 L675.5 282.4 L676.3 282.3 L677 282.3 L677.8 282.2 L678.5 282.2 L679.3 282 L680 281.8 L680.8 281.6 L681.5 281.5 L682.3 281.5 L683 281.5 L683.8 281.5 L684.5 281.6 L685.3 281.6 L686 281.3 L686.8 281.3 L687.5 281.7 L688.3 282.2 L689 282.4 L689.8 282.1 L690.5 282.1 L691.3 281.8 L692 281.7 L692.8 281.6 L693.5 281.5 L694.3 281.6 L695 281.5 L695.8 282.1 L696.5 281.9 L697.3 282 L698 281.5 L698.8 281.6" fill="none" stroke="#1a1a1a" stroke-width="0.85" stroke-linejoin="round" />
<path d="M572.8 288.3 L573.5 288.3 L574.3 288.6 L575 288.6 L575.8 288.3 L576.5 287.8 L577.3 287.7 L578 288.2 L578.8 288.1 L579.5 288.2 L580.3 288.1 L581 288.1 L581.8 288 L582.5 287.5 L583.3 287.7 L584 287.3 L584.8 287.5 L585.5 287.8 L586.3 288.3 L587 288.4 L587.8 288.1 L588.5 288.4 L589.3 288.5 L590 288.7 L590.8 288.2 L591.5 288 L592.3 287.7 L593 287.7 L593.8 287.7 L594.5 288 L595.3 288.2 L596 288.3 L596.8 288 L597.5 287.4 L598.3 287.3 L599 287.4 L599.8 288.1 L600.5 287.6 L601.3 287.1 L602 287 L602.8 287.4 L603.5 287.8 L604.3 287.7 L605 288 L605.8 287.7 L606.5 287.7 L607.3 287.7 L608 288.1 L608.8 288.1 L609.5 288 L610.3 288 L611 288 L611.8 288 L612.5 288.1 L613.3 288.2 L614 288.3 L614.8 287.9 L615.5 288.1 L616.3 287.9 L617 287.9 L617.8 287.7 L618.5 287.9 L619.3 288 L620 288.1 L620.8 287.7 L621.5 287.7 L622.3 287.9 L623 288.4 L623.8 288.8 L624.5 288.7 L625.3 288.5 L626 288.2 L626.8 288 L627.5 287.6 L628.3 288 L629 288 L629.8 288.1 L630.5 287.7 L631.3 287.8 L632 287.8 L632.8 287.9 L633.5 287.9 L634.3 288.3 L635 288.1 L635.8 288.1 L636.5 287.7 L637.3 287.9 L638 288.1 L638.8 288.3 L639.5 288.3 L640.3 288.1 L641 288 L641.8 288.3 L642.5 288.1 L643.3 288.2 L644 288 L644.8 288.1 L645.5 287.9 L646.3 287.9 L647 287.9 L647.8 288.1 L648.5 288.1 L649.3 288 L650 287.9 L650.8 287.9 L651.5 288.1 L652.3 288.2 L653 287.9 L653.8 287.6 L654.5 287.3 L655.3 287.8 L656 288.1 L656.8 288.1 L657.5 287.8 L658.3 287.6 L659 287.8 L659.8 288.1 L660.5 288.2 L661.3 288.4 L662 288.5 L662.8 288.5 L663.5 288.4 L664.3 288.1 L665 287.8 L665.8 287.9 L666.5 288.2 L667.3 288.5 L668 288.3 L668.8 288.1 L669.5 287.9 L670.3 288.2 L671 288.3 L671.8 288.3 L672.5 288 L673.3 288 L674 288 L674.8 288 L675.5 288.3 L676.3 288 L677 288.3 L677.8 288 L678.5 288.2 L679.3 287.9 L680 287.8 L680.8 287.9 L681.5 288 L682.3 288 L683 288.1 L683.8 288.2 L684.5 288.3 L685.3 288.2 L686 288.4 L686.8 288.3 L687.5 288.4 L688.3 288.1 L689 287.9 L689.8 287.5 L690.5 287.4 L691.3 287.8 L692 288.2 L692.8 288.1 L693.5 287.8 L694.3 287.9 L695 288 L695.8 287.8 L696.5 287.8 L697.3 287.9 L698 288.2 L698.8 288.3" fill="none" stroke="#1a1a1a" stroke-width="0.85" stroke-linejoin="round" />
<path d="M572.8 293.9 L573.5 293.9 L574.3 293.9 L575 294.6 L575.8 294.8 L576.5 294.9 L577.3 294.9 L578 294.6 L578.8 294.5 L579.5 294.1 L580.3 294.1 L581 294.1 L581.8 294.5 L582.5 294.4 L583.3 294.5 L584 294.7 L584.8 294.6 L585.5 294.4 L586.3 294 L587 294.4 L587.8 294.9 L588.5 295.1 L589.3 294.9 L590 294.4 L590.8 294.1 L591.5 294.1 L592.3 294.3 L593 294.2 L593.8 294.5 L594.5 294.3 L595.3 294.6 L596 294.3 L596.8 294.3 L597.5 294.2 L598.3 294.1 L599 294.3 L599.8 294.4 L600.5 294.3 L601.3 294.8 L602 294.9 L602.8 294.8 L603.5 293.9 L604.3 293.9 L605 294.1 L605.8 294.6 L606.5 294.2 L607.3 293.9 L608 293.5 L608.8 294.2 L609.5 294.7 L610.3 295 L611 294.8 L611.8 294.2 L612.5 294.4 L613.3 294.2 L614 294.4 L614.8 294.2 L615.5 293.9 L616.3 294 L617 294.4 L617.8 294.7 L618.5 294.8 L619.3 294.8 L620 294.3 L620.8 294.6 L621.5 294.3 L622.3 294.4 L623 294 L623.8 293.9 L624.5 294.1 L625.3 294.3 L626 294 L626.8 294.2 L627.5 294.4 L628.3 294.7 L629 294.7 L629.8 294.6 L630.5 295 L631.3 295 L632 294.5 L632.8 294.5 L633.5 294 L634.3 294.7 L635 294.4 L635.8 294.3 L636.5 294.1 L637.3 294.4 L638 294.6 L638.8 294.4 L639.5 294.4 L640.3 294.8 L641 294.6 L641.8 294.4 L642.5 294 L643.3 294.1 L644 294.2 L644.8 294.1 L645.5 294.1 L646.3 293.9 L647 294.1 L647.8 294 L648.5 294.2 L649.3 294.5 L650 294.8 L650.8 295.1 L651.5 295.1 L652.3 294.7 L653 294.8 L653.8 294.5 L654.5 294.6 L655.3 294.4 L656 294.1 L656.8 294 L657.5 293.9 L658.3 294.2 L659 294.3 L659.8 294.2 L660.5 293.9 L661.3 293.9 L662 293.9 L662.8 293.9 L663.5 293.8 L664.3 294.1 L665 294.2 L665.8 293.9 L666.5 293.9 L667.3 294.2 L668 294.4 L668.8 294.3 L669.5 293.7 L670.3 294 L671 293.8 L671.8 294.4 L672.5 294.1 L673.3 294.3 L674 294.1 L674.8 293.9 L675.5 294.4 L676.3 294.2 L677 294.5 L677.8 293.9 L678.5 294.1 L679.3 294.4 L680 294.2 L680.8 294.2 L681.5 294 L682.3 294.4 L683 294.5 L683.8 294.3 L684.5 293.9 L685.3 293.6 L686 293.7 L686.8 294.1 L687.5 294.4 L688.3 294.7 L689 294.6 L689.8 294.7 L690.5 294.4 L691.3 294.1 L692 294.1 L692.8 293.9 L693.5 294.1 L694.3 294.5 L695 294.4 L695.8 294.5 L696.5 294.1 L697.3 294.4 L698 294.4 L698.8 294.2" fill="none" stroke="#1a1a1a" stroke-width="0.85" stroke-linejoin="round" />
<path d="M572.8 300.6 L573.5 300.7 L574.3 300.7 L575 300.3 L575.8 300.1 L576.5 300.8 L577.3 301 L578 300.9 L578.8 300.4 L579.5 300.2 L580.3 300.7 L581 300.7 L581.8 301.1 L582.5 300.8 L583.3 301.1 L584 301 L584.8 301 L585.5 300.4 L586.3 300.3 L587 300.3 L587.8 300.4 L588.5 300.9 L589.3 300.9 L590 300.8 L590.8 300.5 L591.5 300.4 L592.3 300.7 L593 300.5 L593.8 300.4 L594.5 300.6 L595.3 300.6 L596 301 L596.8 300.7 L597.5 300.4 L598.3 299.9 L599 299.9 L599.8 300.1 L600.5 300.4 L601.3 300.6 L602 300.4 L602.8 300.4 L603.5 300.1 L604.3 300.2 L605 300.6 L605.8 301.1 L606.5 301.1 L607.3 301 L608 301 L608.8 301.3 L609.5 301.2 L610.3 300.9 L611 300.7 L611.8 300.3 L612.5 300.4 L613.3 300.2 L614 300.3 L614.8 300.3 L615.5 300.4 L616.3 300.6 L617 300.8 L617.8 300.7 L618.5 300.9 L619.3 300.5 L620 300.5 L620.8 300.2 L621.5 300.6 L622.3 300.6 L623 300.4 L623.8 300.2 L624.5 300.2 L625.3 300.3 L626 300.3 L626.8 300.4 L627.5 300.4 L628.3 300.4 L629 300.7 L629.8 300.5 L630.5 300.4 L631.3 300.6 L632 301 L632.8 301.2 L633.5 300.9 L634.3 300.7 L635 300.6 L635.8 300.6 L636.5 300.6 L637.3 300.9 L638 300.5 L638.8 300.5 L639.5 300.3 L640.3 300.6 L641 300.3 L641.8 300.2 L642.5 300.1 L643.3 300.1 L644 300.3 L644.8 300.3 L645.5 300.3 L646.3 299.7 L647 299.9 L647.8 300 L648.5 300.5 L649.3 300.6 L650 300.3 L650.8 300.4 L651.5 300.2 L652.3 300.6 L653 300.5 L653.8 300.6 L654.5 300.7 L655.3 300.6 L656 300.9 L656.8 300.6 L657.5 300.7 L658.3 300.7 L659 300.8 L659.8 300.8 L660.5 300.6 L661.3 300.5 L662 300.5 L662.8 300.5 L663.5 300.3 L664.3 299.8 L665 299.8 L665.8 300 L666.5 300.7 L667.3 300.8 L668 301 L668.8 301.1 L669.5 301 L670.3 300.6 L671 300.5 L671.8 300.4 L672.5 300.5 L673.3 300.6 L674 300.8 L674.8 301.1 L675.5 300.6 L676.3 300.5 L677 300.5 L677.8 300.5 L678.5 300.5 L679.3 300.4 L680 300.2 L680.8 300.4 L681.5 300.2 L682.3 300.6 L683 300.7 L683.8 300.5 L684.5 300.6 L685.3 300.2 L686 300.5 L686.8 300.3 L687.5 300.6 L688.3 300.4 L689 300.6 L689.8 300.5 L690.5 300.7 L691.3 300.5 L692 300.4 L692.8 300.6 L693.5 300.7 L694.3 300.8 L695 300.4 L695.8 300.3 L696.5 300.4 L697.3 300.6 L698 300.9 L698.8 300.4" fill="none" stroke="#1a1a1a" stroke-width="0.85" stroke-linejoin="round" />
<path d="M572.8 306.5 L573.5 306.6 L574.3 306.9 L575 307.2 L575.8 307 L576.5 307 L577.3 306.9 L578 307.1 L578.8 307.2 L579.5 307.3 L580.3 306.8 L581 306.9 L581.8 306.8 L582.5 306.9 L583.3 306.9 L584 307.1 L584.8 306.9 L585.5 306.3 L586.3 306.2 L587 306.3 L587.8 306.6 L588.5 307.1 L589.3 307.9 L590 307.9 L590.8 307.6 L591.5 307.2 L592.3 307.2 L593 306.8 L593.8 306.8 L594.5 306.8 L595.3 307.1 L596 307.1 L596.8 306.9 L597.5 307.2 L598.3 307 L599 307.2 L599.8 306.8 L600.5 306.9 L601.3 307.1 L602 307.1 L602.8 307 L603.5 306.8 L604.3 306.6 L605 306.5 L605.8 306.7 L606.5 307 L607.3 307.2 L608 307 L608.8 306.8 L609.5 306.6 L610.3 306.9 L611 306.9 L611.8 306.7 L612.5 306.3 L613.3 306.6 L614 306.9 L614.8 307.1 L615.5 307.1 L616.3 306.9 L617 307.1 L617.8 307.1 L618.5 307 L619.3 306.8 L620 306.2 L620.8 306.4 L621.5 306.6 L622.3 307.1 L623 307.1 L623.8 307 L624.5 307.1 L625.3 306.8 L626 306.8 L626.8 306.7 L627.5 306.9 L628.3 307.1 L629 307.1 L629.8 307.4 L630.5 307.2 L631.3 307.1 L632 307.2 L632.8 307.3 L633.5 307.3 L634.3 306.9 L635 306.5 L635.8 306.5 L636.5 306.4 L637.3 306.7 L638 306.6 L638.8 306.8 L639.5 306.7 L640.3 306.5 L641 306.3 L641.8 306.1 L642.5 306.2 L643.3 306.2 L644 306.6 L644.8 306.6 L645.5 306.3 L646.3 306.1 L647 306.8 L647.8 307.1 L648.5 307.2 L649.3 306.5 L650 306.8 L650.8 307 L651.5 307 L652.3 307.1 L653 306.6 L653.8 306.7 L654.5 306.2 L655.3 306.5 L656 306.3 L656.8 306.6 L657.5 306.4 L658.3 306.5 L659 306.5 L659.8 306.6 L660.5 306.4 L661.3 306.1 L662 306.2 L662.8 306.4 L663.5 306.6 L664.3 306.7 L665 306.8 L665.8 306.8 L666.5 306.8 L667.3 306.8 L668 306.9 L668.8 306.9 L669.5 306.8 L670.3 307 L671 306.9 L671.8 306.9 L672.5 306.6 L673.3 306.9 L674 307.3 L674.8 307.2 L675.5 307 L676.3 306.8 L677 306.8 L677.8 306.8 L678.5 306.8 L679.3 306.8 L680 307 L680.8 306.8 L681.5 307.1 L682.3 307.1 L683 307.6 L683.8 307.4 L684.5 307 L685.3 306.3 L686 306.2 L686.8 306.7 L687.5 306.7 L688.3 306.4 L689 306.1 L689.8 306.5 L690.5 306.5 L691.3 306.3 L692 306.2 L692.8 306.3 L693.5 306.5 L694.3 306.2 L695 306.7 L695.8 306.5 L696.5 306.6 L697.3 306.1 L698 306 L698.8 306.1" fill="none" stroke="#1a1a1a" stroke-width="0.85" stroke-linejoin="round" />
<path d="M572.8 313.1 L573.5 313 L574.3 312.9 L575 312.9 L575.8 313 L576.5 313.2 L577.3 313.4 L578 313.3 L578.8 313.2 L579.5 312.4 L580.3 312.4 L581 312.4 L581.8 312.8 L582.5 313.1 L583.3 312.6 L584 313 L584.8 312.7 L585.5 312.8 L586.3 312.5 L587 312.5 L587.8 312.5 L588.5 312.3 L589.3 312.3 L590 312.6 L590.8 313 L591.5 313.3 L592.3 313 L593 312.8 L593.8 312.5 L594.5 312.7 L595.3 312.8 L596 313.2 L596.8 313.3 L597.5 313.2 L598.3 313.1 L599 312.8 L599.8 312.6 L600.5 312.4 L601.3 312.6 L602 312.9 L602.8 312.9 L603.5 312.8 L604.3 312.7 L605 312.6 L605.8 312.8 L606.5 313 L607.3 312.9 L608 312.9 L608.8 312.2 L609.5 312.4 L610.3 312.1 L611 312.5 L611.8 312.8 L612.5 313 L613.3 312.7 L614 312.5 L614.8 312.5 L615.5 312.7 L616.3 312.4 L617 312.6 L617.8 312.8 L618.5 312.8 L619.3 312.8 L620 312.5 L620.8 312.7 L621.5 312.3 L622.3 312.6 L623 312.4 L623.8 312.4 L624.5 312.5 L625.3 312.4 L626 312.3 L626.8 312.1 L627.5 312.3 L628.3 312.4 L629 312.3 L629.8 312.7 L630.5 312.6 L631.3 312.6 L632 312.2 L632.8 312.2 L633.5 312.2 L634.3 312.3 L635 312.3 L635.8 312.5 L636.5 312.2 L637.3 312.3 L638 312.2 L638.8 313 L639.5 312.7 L640.3 312.7 L641 312.5 L641.8 312.7 L642.5 312.9 L643.3 312.5 L644 312.3 L644.8 312.2 L645.5 311.9 L646.3 312.2 L647 311.9 L647.8 312.2 L648.5 311.7 L649.3 311.9 L650 312 L650.8 312.6 L651.5 312.5 L652.3 312.2 L653 312.1 L653.8 312.6 L654.5 312.7 L655.3 312.7 L656 312.1 L656.8 312 L657.5 312.1 L658.3 312.1 L659 312.1 L659.8 311.8 L660.5 311.9 L661.3 312.1 L662 312.1 L662.8 312.1 L663.5 311.9 L664.3 312.2 L665 312.3 L665.8 312.4 L666.5 312.2 L667.3 312.1 L668 311.9 L668.8 311.8 L669.5 312.1 L670.3 312.5 L671 312.8 L671.8 312.3 L672.5 312 L673.3 311.6 L674 312 L674.8 312.1 L675.5 312 L676.3 312 L677 312.1 L677.8 312.2 L678.5 312.1 L679.3 312.1 L680 312.1 L680.8 312.1 L681.5 311.9 L682.3 312 L683 312.1 L683.8 312 L684.5 312 L685.3 311.6 L686 311.9 L686.8 312.1 L687.5 312.5 L688.3 312.5 L689 312.6 L689.8 312.6 L690.5 312.2 L691.3 312.2 L692 311.9 L692.8 312.5 L693.5 312.3 L694.3 312.6 L695 312 L695.8 312.1 L696.5 312.2 L697.3 312.1 L698 311.8 L698.8 311.5" fill="none" stroke="#1a1a1a" stroke-width="0.85" stroke-linejoin="round" />
<path d="M572.8 319.6 L573.5 319.8 L574.3 319.3 L575 319.7 L575.8 319.1 L576.5 319 L577.3 318.9 L578 319.2 L578.8 319.5 L579.5 319.2 L580.3 319.5 L581 319.4 L581.8 319.4 L582.5 319 L583.3 318.8 L584 319.1 L584.8 319.2 L585.5 319.1 L586.3 319.5 L587 319.2 L587.8 319.2 L588.5 318.7 L589.3 318.8 L590 318.8 L590.8 318.6 L591.5 318.5 L592.3 318.5 L593 318.4 L593.8 318.5 L594.5 318.6 L595.3 318.6 L596 318.8 L596.8 318.8 L597.5 319.2 L598.3 319.1 L599 318.9 L599.8 318.4 L600.5 318.3 L601.3 318.4 L602 318.6 L602.8 318.3 L603.5 318.4 L604.3 318.3 L605 318.5 L605.8 318.3 L606.5 318.1 L607.3 318.3 L608 318.5 L608.8 318.9 L609.5 318.3 L610.3 318.2 L611 318.1 L611.8 318.2 L612.5 318.5 L613.3 318.1 L614 318.3 L614.8 317.6 L615.5 317.7 L616.3 317.3 L617 317.8 L617.8 317.9 L618.5 318 L619.3 317.7 L620 317.6 L620.8 317.5 L621.5 317.5 L622.3 317.7 L623 317.7 L623.8 317.5 L624.5 317.4 L625.3 317.7 L626 318 L626.8 318.1 L627.5 317.7 L628.3 317.7 L629 317.7 L629.8 317.5 L630.5 317.6 L631.3 317.3 L632 317.6 L632.8 317.3 L633.5 317.7 L634.3 317.8 L635 317.8 L635.8 317.8 L636.5 317.5 L637.3 318 L638 317.8 L638.8 317.8 L639.5 317.5 L640.3 317.8 L641 317.5 L641.8 317.7 L642.5 317.5 L643.3 317.7 L644 317.5 L644.8 317.7 L645.5 317.9 L646.3 318.2 L647 317.9 L647.8 317.4 L648.5 317 L649.3 317.1 L650 317.3 L650.8 317.6 L651.5 318.1 L652.3 318.2 L653 317.7 L653.8 317.4 L654.5 317.2 L655.3 317.5 L656 317.5 L656.8 317.7 L657.5 317.6 L658.3 317.5 L659 317.6 L659.8 317.7 L660.5 318 L661.3 317.3 L662 317 L662.8 316.5 L663.5 317.2 L664.3 317.4 L665 317.7 L665.8 317.2 L666.5 317.2 L667.3 317.1 L668 317.4 L668.8 317.3 L669.5 317.2 L670.3 317.5 L671 317.2 L671.8 317.4 L672.5 317.2 L673.3 317.4 L674 317.2 L674.8 317.2 L675.5 317.5 L676.3 317.3 L677 317.4 L677.8 317 L678.5 317.2 L679.3 317.2 L680 317.3 L680.8 317.4 L681.5 317.1 L682.3 317.3 L683 317.1 L683.8 317.1 L684.5 316.8 L685.3 316.9 L686 316.9 L686.8 317 L687.5 317 L688.3 317.3 L689 316.9 L689.8 316.6 L690.5 316.5 L691.3 316.5 L692 316.8 L692.8 316.9 L693.5 317.3 L694.3 317.6 L695 317.6 L695.8 317.3 L696.5 317.1 L697.3 316.8 L698 317.1 L698.8 316.8" fill="none" stroke="#1a1a1a" stroke-width="0.85" stroke-linejoin="round" />
<path d="M572.8 325.4 L573.5 325.3 L574.3 325.2 L575 325.5 L575.8 325.2 L576.5 325.1 L577.3 325.1 L578 325.5 L578.8 325.3 L579.5 325.1 L580.3 324.8 L581 325 L581.8 324.9 L582.5 325.1 L583.3 324.9 L584 325 L584.8 324.5 L585.5 324.6 L586.3 324 L587 324.2 L587.8 324.2 L588.5 324.3 L589.3 324.4 L590 324.4 L590.8 324.4 L591.5 323.9 L592.3 324.1 L593 324.1 L593.8 324.2 L594.5 323.7 L595.3 323.5 L596 323.5 L596.8 323.7 L597.5 323.5 L598.3 323.2 L599 323.2 L599.8 324 L600.5 324 L601.3 323.5 L602 323.1 L602.8 323.1 L603.5 323.2 L604.3 323.1 L605 323.1 L605.8 323.2 L606.5 322.8 L607.3 322.7 L608 322.9 L608.8 322.8 L609.5 322.9 L610.3 322.6 L611 323.2 L611.8 323 L612.5 323.2 L613.3 322.9 L614 322.7 L614.8 322.7 L615.5 322.9 L616.3 322.9 L617 323 L617.8 322.5 L618.5 322.6 L619.3 322.5 L620 322.5 L620.8 322.5 L621.5 321.9 L622.3 321.8 L623 321.7 L623.8 322.2 L624.5 322.5 L625.3 322.4 L626 322.2 L626.8 322 L627.5 321.9 L628.3 321.9 L629 322.1 L629.8 322.6 L630.5 322.4 L631.3 322 L632 321.6 L632.8 321.6 L633.5 321.6 L634.3 321.8 L635 321.9 L635.8 321.8 L636.5 321.8 L637.3 321.9 L638 321.9 L638.8 321.7 L639.5 321.5 L640.3 321.2 L641 321.3 L641.8 321.4 L642.5 322 L643.3 322 L644 321.8 L644.8 321.4 L645.5 321.4 L646.3 321.6 L647 321.5 L647.8 321.3 L648.5 321.3 L649.3 321.1 L650 321.2 L650.8 321.1 L651.5 321.6 L652.3 321.3 L653 321.3 L653.8 321.1 L654.5 321.1 L655.3 321.3 L656 321.2 L656.8 320.9 L657.5 320.6 L658.3 320.5 L659 320.8 L659.8 320.7 L660.5 321.1 L661.3 321 L662 321.1 L662.8 321.1 L663.5 321 L664.3 320.9 L665 320.8 L665.8 321 L666.5 320.8 L667.3 321.1 L668 321.1 L668.8 321 L669.5 320.5 L670.3 320.5 L671 320.8 L671.8 321 L672.5 321.2 L673.3 321.3 L674 321.5 L674.8 321.2 L675.5 320.9 L676.3 320.7 L677 320.5 L677.8 320.8 L678.5 320.6 L679.3 320.5 L680 320.2 L680.8 320 L681.5 320.3 L682.3 320.6 L683 320.6 L683.8 320.9 L684.5 320.8 L685.3 320.7 L686 320.2 L686.8 320 L687.5 320 L688.3 320.1 L689 320.2 L689.8 320.3 L690.5 320.5 L691.3 320.2 L692 320 L692.8 319.6 L693.5 319.3 L694.3 319.4 L695 319.7 L695.8 319.9 L696.5 320 L697.3 320.4 L698 320.2 L698.8 320.1" fill="none" stroke="#1a1a1a" stroke-width="0.85" stroke-linejoin="round" />
<path d="M572.8 332.5 L573.5 332.6 L574.3 332 L575 332.3 L575.8 332.3 L576.5 332.3 L577.3 331.8 L578 331.2 L578.8 331.4 L579.5 331 L580.3 331 L581 330.9 L581.8 330.9 L582.5 330.3 L583.3 329.9 L584 329.9 L584.8 330.3 L585.5 330.2 L586.3 330 L587 329.8 L587.8 329.9 L588.5 330.1 L589.3 329.9 L590 330 L590.8 329.8 L591.5 329.4 L592.3 329.1 L593 329.1 L593.8 329.3 L594.5 329.4 L595.3 329.1 L596 329.1 L596.8 328.5 L597.5 328.5 L598.3 328.2 L599 328.2 L599.8 327.8 L600.5 327.9 L601.3 328.1 L602 328.1 L602.8 327.7 L603.5 327.4 L604.3 327.6 L605 327.5 L605.8 327.8 L606.5 327.3 L607.3 327.4 L608 327.3 L608.8 327.7 L609.5 327.5 L610.3 327.2 L611 326.6 L611.8 326.8 L612.5 326.8 L613.3 326.9 L614 326.6 L614.8 326.6 L615.5 326.6 L616.3 326.8 L617 326.3 L617.8 326.4 L618.5 326 L619.3 326.3 L620 326 L620.8 326 L621.5 326.1 L622.3 326.2 L623 325.8 L623.8 325.6 L624.5 325.5 L625.3 325.8 L626 325.7 L626.8 325.7 L627.5 325.7 L628.3 325.5 L629 325.8 L629.8 325.5 L630.5 325.4 L631.3 325.1 L632 325.3 L632.8 325.7 L633.5 325.8 L634.3 325.6 L635 325.3 L635.8 325.1 L636.5 324.9 L637.3 324.8 L638 324.9 L638.8 325.2 L639.5 325.3 L640.3 324.9 L641 324.4 L641.8 324 L642.5 323.9 L643.3 323.8 L644 324.1 L644.8 324 L645.5 323.7 L646.3 323.8 L647 324.2 L647.8 324.1 L648.5 323.9 L649.3 323.7 L650 323.8 L650.8 323.6 L651.5 323.4 L652.3 323.5 L653 323.6 L653.8 323.8 L654.5 324.1 L655.3 324.3 L656 324 L656.8 323.6 L657.5 323.6 L658.3 323.5 L659 323.8 L659.8 323.8 L660.5 323.7 L661.3 323.5 L662 323.6 L662.8 323.8 L663.5 323.4 L664.3 323 L665 322.8 L665.8 323 L666.5 323 L667.3 323 L668 323.1 L668.8 323.3 L669.5 323.2 L670.3 322.7 L671 322.5 L671.8 322.6 L672.5 322.9 L673.3 322.7 L674 322.7 L674.8 322.4 L675.5 322.7 L676.3 322.9 L677 322.9 L677.8 322.2 L678.5 321.7 L679.3 321.8 L680 322.3 L680.8 322.3 L681.5 322.5 L682.3 322.9 L683 322.8 L683.8 322.6 L684.5 322.2 L685.3 321.9 L686 322.1 L686.8 321.9 L687.5 321.9 L688.3 321.6 L689 321.8 L689.8 322.1 L690.5 322.5 L691.3 322.5 L692 322.2 L692.8 322 L693.5 321.9 L694.3 322.4 L695 321.9 L695.8 322.2 L696.5 321.9 L697.3 322.3 L698 322 L698.8 321.7" fill="none" stroke="#1a1a1a" stroke-width="0.85" stroke-linejoin="round" />
<path d="M572.8 339.6 L573.5 339.5 L574.3 339 L575 338.3 L575.8 337.9 L576.5 337.6 L577.3 338 L578 337.7 L578.8 337.5 L579.5 337 L580.3 337 L581 336.7 L581.8 336.6 L582.5 336.4 L583.3 336 L584 336 L584.8 336.2 L585.5 336.2 L586.3 336 L587 335.3 L587.8 335.1 L588.5 335.1 L589.3 335.1 L590 335.3 L590.8 334.9 L591.5 334.9 L592.3 334.4 L593 334.5 L593.8 334.5 L594.5 334.5 L595.3 333.9 L596 333.4 L596.8 332.9 L597.5 333 L598.3 333 L599 332.9 L599.8 332.8 L600.5 332.5 L601.3 332.8 L602 332.7 L602.8 332.9 L603.5 332.3 L604.3 331.8 L605 331.1 L605.8 331.2 L606.5 331 L607.3 331.5 L608 331.3 L608.8 331.5 L609.5 330.9 L610.3 330.6 L611 330.4 L611.8 330.7 L612.5 330.4 L613.3 330.3 L614 329.9 L614.8 330.2 L615.5 330 L616.3 329.9 L617 329.8 L617.8 329.9 L618.5 329.8 L619.3 329.8 L620 329.3 L620.8 329.3 L621.5 328.8 L622.3 328.9 L623 328.6 L623.8 328.7 L624.5 328.7 L625.3 328.6 L626 328.1 L626.8 327.9 L627.5 328.1 L628.3 328.3 L629 328.1 L629.8 328.1 L630.5 327.9 L631.3 328.1 L632 327.7 L632.8 327.7 L633.5 327.7 L634.3 327.7 L635 327.5 L635.8 327.3 L636.5 327.4 L637.3 327.4 L638 327.2 L638.8 326.8 L639.5 326.6 L640.3 326.3 L641 326.5 L641.8 326 L642.5 326.5 L643.3 326.7 L644 327.1 L644.8 326.6 L645.5 326.2 L646.3 326.2 L647 326.4 L647.8 326.2 L648.5 326.2 L649.3 326.2 L650 326.3 L650.8 326 L651.5 325.8 L652.3 325.5 L653 325.5 L653.8 325.3 L654.5 325.6 L655.3 325.5 L656 325.6 L656.8 325.4 L657.5 325.4 L658.3 325 L659 325.1 L659.8 325 L660.5 325.1 L661.3 324.7 L662 324.5 L662.8 324.4 L663.5 324.5 L664.3 324.4 L665 324.5 L665.8 324.5 L666.5 324.4 L667.3 324.8 L668 324.7 L668.8 324.8 L669.5 324.4 L670.3 324.3 L671 324.3 L671.8 324.5 L672.5 324.5 L673.3 324.1 L674 323.9 L674.8 323.5 L675.5 323.6 L676.3 323.5 L677 323.9 L677.8 323.5 L678.5 323.4 L679.3 323.1 L680 323.3 L680.8 323.4 L681.5 323.5 L682.3 323.5 L683 323.5 L683.8 323.5 L684.5 323.2 L685.3 322.8 L686 322.8 L686.8 323.2 L687.5 323.4 L688.3 323.3 L689 323 L689.8 322.9 L690.5 322.6 L691.3 322.6 L692 322.4 L692.8 322.5 L693.5 322.5 L694.3 322.6 L695 322.6 L695.8 322.8 L696.5 322.7 L697.3 323.1 L698 323.1 L698.8 322.9" fill="none" stroke="#1a1a1a" stroke-width="0.85" stroke-linejoin="round" />
<path d="M572.8 345.7 L573.5 345.3 L574.3 344.3 L575 343.9 L575.8 343.5 L576.5 343.8 L577.3 343.4 L578 343.3 L578.8 342.9 L579.5 342.8 L580.3 342.6 L581 342.2 L581.8 342.1 L582.5 341.6 L583.3 341.5 L584 340.9 L584.8 340.8 L585.5 340.3 L586.3 340.2 L587 340 L587.8 340.2 L588.5 339.7 L589.3 339.2 L590 338.6 L590.8 338.9 L591.5 338.6 L592.3 338.7 L593 338.2 L593.8 337.8 L594.5 337.5 L595.3 337.2 L596 337.4 L596.8 337.3 L597.5 337.5 L598.3 337 L599 336.9 L599.8 336.6 L600.5 336.3 L601.3 336.2 L602 336.2 L602.8 336.1 L603.5 335.6 L604.3 334.8 L605 334.8 L605.8 334.6 L606.5 334.8 L607.3 334.5 L608 334.3 L608.8 333.8 L609.5 333.8 L610.3 333.8 L611 333.8 L611.8 333.8 L612.5 333.6 L613.3 333.5 L614 333.4 L614.8 332.8 L615.5 332.6 L616.3 331.9 L617 332 L617.8 331.8 L618.5 332.1 L619.3 331.9 L620 331.7 L620.8 331.4 L621.5 331.3 L622.3 331.4 L623 331.1 L623.8 330.7 L624.5 330.2 L625.3 330.4 L626 330.3 L626.8 330.4 L627.5 329.8 L628.3 330.1 L629 330 L629.8 330.3 L630.5 329.8 L631.3 329.9 L632 329.7 L632.8 329.9 L633.5 329.5 L634.3 329.1 L635 328.8 L635.8 328.6 L636.5 328.7 L637.3 328.7 L638 329 L638.8 328.5 L639.5 328.3 L640.3 328.2 L641 328.6 L641.8 328.3 L642.5 328.3 L643.3 328.3 L644 328.3 L644.8 328 L645.5 327.4 L646.3 327.2 L647 327.1 L647.8 327.3 L648.5 327.3 L649.3 327.3 L650 327.1 L650.8 327.3 L651.5 327.3 L652.3 326.9 L653 326.7 L653.8 326.6 L654.5 326.7 L655.3 326.6 L656 326.7 L656.8 326.2 L657.5 326.2 L658.3 325.9 L659 326.1 L659.8 325.8 L660.5 326 L661.3 325.9 L662 326 L662.8 325.7 L663.5 325.6 L664.3 325.7 L665 326 L665.8 325.8 L666.5 325.5 L667.3 325.2 L668 325.2 L668.8 325.1 L669.5 325.3 L670.3 325.3 L671 325.5 L671.8 325.5 L672.5 325.1 L673.3 324.9 L674 324.4 L674.8 324.3 L675.5 324 L676.3 323.9 L677 324.5 L677.8 324.6 L678.5 324.6 L679.3 324.3 L680 324.1 L680.8 324.1 L681.5 324 L682.3 323.8 L683 323.6 L683.8 324.2 L684.5 324.5 L685.3 324.6 L686 324 L686.8 323.7 L687.5 323.7 L688.3 323.6 L689 323.5 L689.8 323.3 L690.5 323 L691.3 323.2 L692 323.2 L692.8 323.3 L693.5 323.5 L694.3 323.6 L695 323.7 L695.8 323.6 L696.5 323.4 L697.3 323.2 L698 322.9 L698.8 323.1" fill="none" stroke="#1a1a1a" stroke-width="0.85" stroke-linejoin="round" />
<path d="M572.8 352.3 L573.5 351.6 L574.3 350.9 L575 350.6 L575.8 350.4 L576.5 350 L577.3 349.7 L578 349.4 L578.8 349 L579.5 348.3 L580.3 348.1 L581 347.7 L581.8 347.3 L582.5 346.9 L583.3 346.9 L584 346.4 L584.8 345.9 L585.5 345.3 L586.3 345 L587 345.3 L587.8 344.6 L588.5 344.3 L589.3 343.5 L590 343.7 L590.8 343.8 L591.5 343.7 L592.3 343.2 L593 343 L593.8 342.3 L594.5 342 L595.3 341.8 L596 341.6 L596.8 341.4 L597.5 341 L598.3 341.2 L599 340.8 L599.8 340.7 L600.5 340.3 L601.3 340.3 L602 339.5 L602.8 339 L603.5 338.4 L604.3 338.7 L605 338.2 L605.8 337.7 L606.5 337.3 L607.3 337.6 L608 337.1 L608.8 336.7 L609.5 336.4 L610.3 336.9 L611 336.4 L611.8 336.2 L612.5 335.9 L613.3 336.2 L614 335.9 L614.8 335.5 L615.5 334.9 L616.3 335.1 L617 334.9 L617.8 335.2 L618.5 334.9 L619.3 334.6 L620 334.2 L620.8 333.9 L621.5 334 L622.3 334.1 L623 334 L623.8 333.8 L624.5 333.5 L625.3 333 L626 332.7 L626.8 332.5 L627.5 332.5 L628.3 332.3 L629 332 L629.8 331.6 L630.5 331.6 L631.3 331.6 L632 331.5 L632.8 331.3 L633.5 331 L634.3 331.1 L635 331.1 L635.8 330.5 L636.5 330.4 L637.3 330.2 L638 330.1 L638.8 329.9 L639.5 329.8 L640.3 329.9 L641 330.2 L641.8 330.2 L642.5 330.2 L643.3 329.7 L644 329.3 L644.8 328.9 L645.5 329 L646.3 329.4 L647 329.1 L647.8 329.2 L648.5 328.7 L649.3 328.6 L650 328 L650.8 328.3 L651.5 328.4 L652.3 328.5 L653 327.7 L653.8 327.6 L654.5 327.3 L655.3 327.7 L656 327.5 L656.8 327.6 L657.5 327.3 L658.3 327 L659 326.4 L659.8 326.7 L660.5 327 L661.3 327 L662 326.9 L662.8 326.7 L663.5 326.7 L664.3 326.1 L665 326 L665.8 325.9 L666.5 326.1 L667.3 326.1 L668 326.1 L668.8 326.3 L669.5 326.1 L670.3 326 L671 325.3 L671.8 325.5 L672.5 325.2 L673.3 325.3 L674 325.2 L674.8 325.3 L675.5 325.4 L676.3 325.2 L677 325.1 L677.8 324.9 L678.5 324.9 L679.3 325 L680 324.8 L680.8 324.6 L681.5 324.6 L682.3 324.6 L683 324.8 L683.8 324.9 L684.5 324.7 L685.3 324.4 L686 324 L686.8 323.9 L687.5 323.6 L688.3 323.9 L689 324.1 L689.8 324.8 L690.5 324.3 L691.3 324.3 L692 323.9 L692.8 323.9 L693.5 323.9 L694.3 323.8 L695 323.8 L695.8 323.6 L696.5 323.1 L697.3 322.9 L698 322.7 L698.8 323.4" fill="none" stroke="#1a1a1a" stroke-width="0.85" stroke-linejoin="round" />
<path d="M260.3 193 L303.7 193 L303.7 156.3" fill="none" stroke="#000" stroke-width="2.7" stroke-linecap="round" stroke-linejoin="miter"/>
<text x="312" y="185.3" font-size="19.2" text-anchor="start" font-weight="bold" stroke="#000" stroke-width="0.35">0.5 nA</text>
<text x="277.6" y="214.2" font-size="19.2" text-anchor="start" font-weight="bold" stroke="#000" stroke-width="0.35">5 ms</text>
<path d="M617 174 L660 174 L660 147.5" fill="none" stroke="#000" stroke-width="2.7" stroke-linecap="round" stroke-linejoin="miter"/>
<text x="668.3" y="171.4" font-size="19.2" text-anchor="start" font-weight="bold" stroke="#000" stroke-width="0.35">2 nA</text>
<text x="634" y="195" font-size="19.2" text-anchor="start" font-weight="bold" stroke="#000" stroke-width="0.35">5 ms</text>
<text transform="translate(0 31.8) scale(1 1.045)" font-size="45" text-anchor="start" font-weight="normal" stroke="#000" stroke-width="0.3">A</text>
<text transform="translate(-3.9 402.9) scale(1 1.045)" font-size="45" text-anchor="start" font-weight="normal" stroke="#000" stroke-width="0.3">B</text>
<text transform="translate(203 34.2) scale(1 1.04)" font-size="27.4" text-anchor="start" font-weight="normal" stroke="#000" stroke-width="0.3">W</text>
<text transform="translate(230 34.2) scale(1 1.04)" font-size="27.4" text-anchor="start" font-weight="normal" stroke="#000" stroke-width="0.3">T</text>
<text transform="translate(443.1 33.9) scale(1 1.04)" font-size="27.4" text-anchor="start" font-weight="normal" stroke="#000" stroke-width="0.3">G466A/V467G</text>
<text transform="translate(16.3 108.5) scale(1 1.04)" font-size="30" text-anchor="start" font-weight="normal" stroke="#000" stroke-width="0.3">Rb</text>
<text x="55" y="120.5" font-size="18" text-anchor="start" font-weight="normal" >i</text>
<text x="58.7" y="92" font-size="18" text-anchor="start" font-weight="normal" >+</text>
<text transform="translate(68.8 108.5) scale(1 1.04)" font-size="30" text-anchor="start" font-weight="normal" stroke="#000" stroke-width="0.3">/K</text>
<text x="97.3" y="120.5" font-size="18" text-anchor="start" font-weight="normal" >o</text>
<text x="107.3" y="92" font-size="18" text-anchor="start" font-weight="normal" >+</text>
<text transform="translate(9.5 289) scale(1 1.04)" font-size="30" text-anchor="start" font-weight="normal" stroke="#000" stroke-width="0.3">Rb</text>
<text x="47.6" y="301" font-size="18" text-anchor="start" font-weight="normal" >i</text>
<text x="51.3" y="272.5" font-size="18" text-anchor="start" font-weight="normal" >+</text>
<text transform="translate(62.3 289) scale(1 1.04)" font-size="30" text-anchor="start" font-weight="normal" stroke="#000" stroke-width="0.3">/Rb</text>
<text x="109" y="301" font-size="18" text-anchor="start" font-weight="normal" >o</text>
<text x="118.3" y="272.5" font-size="18" text-anchor="start" font-weight="normal" >+</text>
<line x1="40" y1="485" x2="355" y2="485" stroke="#000" stroke-width="1.9"/>
<line x1="216.4" y1="393.3" x2="216.4" y2="655" stroke="#000" stroke-width="1.9"/>
<line x1="59.3" y1="485" x2="59.3" y2="491.6" stroke="#000" stroke-width="1.7"/>
<text transform="translate(59.3 504.6) scale(1 1.06)" font-size="12.75" text-anchor="middle" font-weight="normal" stroke="#000" stroke-width="0.25">-80</text>
<line x1="78.9" y1="485" x2="78.9" y2="488.8" stroke="#000" stroke-width="1.7"/>
<line x1="98.6" y1="485" x2="98.6" y2="491.6" stroke="#000" stroke-width="1.7"/>
<text transform="translate(98.6 504.6) scale(1 1.06)" font-size="12.75" text-anchor="middle" font-weight="normal" stroke="#000" stroke-width="0.25">-60</text>
<line x1="118.2" y1="485" x2="118.2" y2="488.8" stroke="#000" stroke-width="1.7"/>
<line x1="137.8" y1="485" x2="137.8" y2="491.6" stroke="#000" stroke-width="1.7"/>
<text transform="translate(137.8 504.6) scale(1 1.06)" font-size="12.75" text-anchor="middle" font-weight="normal" stroke="#000" stroke-width="0.25">-40</text>
<line x1="157.5" y1="485" x2="157.5" y2="488.8" stroke="#000" stroke-width="1.7"/>
<line x1="177.1" y1="485" x2="177.1" y2="491.6" stroke="#000" stroke-width="1.7"/>
<text transform="translate(177.1 504.6) scale(1 1.06)" font-size="12.75" text-anchor="middle" font-weight="normal" stroke="#000" stroke-width="0.25">-20</text>
<line x1="196.8" y1="485" x2="196.8" y2="488.8" stroke="#000" stroke-width="1.7"/>
<line x1="216.4" y1="485" x2="216.4" y2="491.6" stroke="#000" stroke-width="1.7"/>
<line x1="236" y1="485" x2="236" y2="488.8" stroke="#000" stroke-width="1.7"/>
<line x1="255.7" y1="485" x2="255.7" y2="491.6" stroke="#000" stroke-width="1.7"/>
<text transform="translate(255.7 504.6) scale(1 1.06)" font-size="12.75" text-anchor="middle" font-weight="normal" stroke="#000" stroke-width="0.25">20</text>
<line x1="275.3" y1="485" x2="275.3" y2="488.8" stroke="#000" stroke-width="1.7"/>
<line x1="295" y1="485" x2="295" y2="491.6" stroke="#000" stroke-width="1.7"/>
<text transform="translate(295 504.6) scale(1 1.06)" font-size="12.75" text-anchor="middle" font-weight="normal" stroke="#000" stroke-width="0.25">40</text>
<line x1="314.6" y1="485" x2="314.6" y2="488.8" stroke="#000" stroke-width="1.7"/>
<line x1="334.2" y1="485" x2="334.2" y2="491.6" stroke="#000" stroke-width="1.7"/>
<text transform="translate(334.2 504.6) scale(1 1.06)" font-size="12.75" text-anchor="middle" font-weight="normal" stroke="#000" stroke-width="0.25">60</text>
<line x1="40" y1="485" x2="40" y2="488.8" stroke="#000" stroke-width="1.7"/>
<line x1="353.9" y1="485" x2="353.9" y2="488.8" stroke="#000" stroke-width="1.7"/>
<line x1="212.6" y1="653.7" x2="216.4" y2="653.7" stroke="#000" stroke-width="1.7"/>
<line x1="209.9" y1="640.8" x2="216.4" y2="640.8" stroke="#000" stroke-width="1.7"/>
<text transform="translate(207.1 644) scale(1 1.06)" font-size="12.75" text-anchor="end" font-weight="normal" stroke="#000" stroke-width="0.25">-1200</text>
<line x1="212.6" y1="627.8" x2="216.4" y2="627.8" stroke="#000" stroke-width="1.7"/>
<line x1="209.9" y1="614.8" x2="216.4" y2="614.8" stroke="#000" stroke-width="1.7"/>
<text transform="translate(207.1 618) scale(1 1.06)" font-size="12.75" text-anchor="end" font-weight="normal" stroke="#000" stroke-width="0.25">-1000</text>
<line x1="212.6" y1="601.8" x2="216.4" y2="601.8" stroke="#000" stroke-width="1.7"/>
<line x1="209.9" y1="588.8" x2="216.4" y2="588.8" stroke="#000" stroke-width="1.7"/>
<text transform="translate(207.1 592) scale(1 1.06)" font-size="12.75" text-anchor="end" font-weight="normal" stroke="#000" stroke-width="0.25">-800</text>
<line x1="212.6" y1="575.9" x2="216.4" y2="575.9" stroke="#000" stroke-width="1.7"/>
<line x1="209.9" y1="562.9" x2="216.4" y2="562.9" stroke="#000" stroke-width="1.7"/>
<text transform="translate(207.1 566.1) scale(1 1.06)" font-size="12.75" text-anchor="end" font-weight="normal" stroke="#000" stroke-width="0.25">-600</text>
<line x1="212.6" y1="549.9" x2="216.4" y2="549.9" stroke="#000" stroke-width="1.7"/>
<line x1="209.9" y1="536.9" x2="216.4" y2="536.9" stroke="#000" stroke-width="1.7"/>
<text transform="translate(207.1 540.1) scale(1 1.06)" font-size="12.75" text-anchor="end" font-weight="normal" stroke="#000" stroke-width="0.25">-400</text>
<line x1="212.6" y1="523.9" x2="216.4" y2="523.9" stroke="#000" stroke-width="1.7"/>
<line x1="209.9" y1="511" x2="216.4" y2="511" stroke="#000" stroke-width="1.7"/>
<text transform="translate(207.1 514.2) scale(1 1.06)" font-size="12.75" text-anchor="end" font-weight="normal" stroke="#000" stroke-width="0.25">-200</text>
<line x1="212.6" y1="498" x2="216.4" y2="498" stroke="#000" stroke-width="1.7"/>
<line x1="209.9" y1="485" x2="216.4" y2="485" stroke="#000" stroke-width="1.7"/>
<line x1="212.6" y1="472" x2="216.4" y2="472" stroke="#000" stroke-width="1.7"/>
<line x1="209.9" y1="459" x2="216.4" y2="459" stroke="#000" stroke-width="1.7"/>
<text transform="translate(207.1 462.2) scale(1 1.06)" font-size="12.75" text-anchor="end" font-weight="normal" stroke="#000" stroke-width="0.25">200</text>
<line x1="212.6" y1="446.1" x2="216.4" y2="446.1" stroke="#000" stroke-width="1.7"/>
<line x1="209.9" y1="433.1" x2="216.4" y2="433.1" stroke="#000" stroke-width="1.7"/>
<text transform="translate(207.1 436.3) scale(1 1.06)" font-size="12.75" text-anchor="end" font-weight="normal" stroke="#000" stroke-width="0.25">400</text>
<line x1="212.6" y1="420.1" x2="216.4" y2="420.1" stroke="#000" stroke-width="1.7"/>
<line x1="209.9" y1="407.1" x2="216.4" y2="407.1" stroke="#000" stroke-width="1.7"/>
<text transform="translate(207.1 410.3) scale(1 1.06)" font-size="12.75" text-anchor="end" font-weight="normal" stroke="#000" stroke-width="0.25">600</text>
<line x1="212.6" y1="394.1" x2="216.4" y2="394.1" stroke="#000" stroke-width="1.7"/>
<path d="M59.3 629.3 L78.9 606.6 L98.6 583.3 L118.2 565.2 L137.8 548.1 L157.5 532.1 L177.1 517.8 L196.8 504.9 L216.4 489.5 L236 475.3 L255.7 461.9 L275.3 446.8 L295 433.9 L314.6 422.7 L334.2 410" fill="none" stroke="#000" stroke-width="2.0" stroke-linejoin="round" />
<path d="M59.3 580.1 L78.9 568.2 L98.6 552.1 L118.2 538.6 L137.8 529.1 L157.5 514.3 L177.1 503.6 L196.8 491.6 L216.4 480.6 L236 470.2 L255.7 457.5 L275.3 446.8 L295 433.9 L314.6 422.7 L334.2 410" fill="none" stroke="#000" stroke-width="2.0" stroke-linejoin="round" />
<rect x="55.9" y="625.9" width="6.8" height="6.8" fill="#000"/>
<rect x="75.5" y="603.2" width="6.8" height="6.8" fill="#000"/>
<rect x="95.2" y="579.9" width="6.8" height="6.8" fill="#000"/>
<rect x="114.8" y="561.8" width="6.8" height="6.8" fill="#000"/>
<rect x="134.4" y="544.7" width="6.8" height="6.8" fill="#000"/>
<rect x="154.1" y="528.7" width="6.8" height="6.8" fill="#000"/>
<rect x="173.7" y="514.4" width="6.8" height="6.8" fill="#000"/>
<rect x="193.4" y="501.5" width="6.8" height="6.8" fill="#000"/>
<rect x="213" y="486.1" width="6.8" height="6.8" fill="#000"/>
<rect x="232.6" y="471.9" width="6.8" height="6.8" fill="#000"/>
<rect x="252.3" y="458.5" width="6.8" height="6.8" fill="#000"/>
<rect x="271.9" y="443.4" width="6.8" height="6.8" fill="#000"/>
<rect x="291.6" y="430.5" width="6.8" height="6.8" fill="#000"/>
<rect x="311.2" y="419.3" width="6.8" height="6.8" fill="#000"/>
<rect x="330.8" y="406.6" width="6.8" height="6.8" fill="#000"/>
<path d="M55 580.1 L59.3 575.8 L63.6 580.1 L59.3 584.4Z" fill="#fff" stroke="#000" stroke-width="1.1"/>
<rect x="58.8" y="579.6" width="1" height="1" fill="#333"/>
<path d="M74.6 568.2 L78.9 563.9 L83.2 568.2 L78.9 572.5Z" fill="#fff" stroke="#000" stroke-width="1.1"/>
<rect x="78.4" y="567.7" width="1" height="1" fill="#333"/>
<path d="M94.3 552.1 L98.6 547.8 L102.9 552.1 L98.6 556.4Z" fill="#fff" stroke="#000" stroke-width="1.1"/>
<rect x="98.1" y="551.6" width="1" height="1" fill="#333"/>
<path d="M113.9 538.6 L118.2 534.3 L122.5 538.6 L118.2 542.9Z" fill="#fff" stroke="#000" stroke-width="1.1"/>
<rect x="117.7" y="538.1" width="1" height="1" fill="#333"/>
<path d="M133.5 529.1 L137.8 524.8 L142.1 529.1 L137.8 533.4Z" fill="#fff" stroke="#000" stroke-width="1.1"/>
<rect x="137.3" y="528.6" width="1" height="1" fill="#333"/>
<path d="M153.2 514.3 L157.5 510 L161.8 514.3 L157.5 518.6Z" fill="#fff" stroke="#000" stroke-width="1.1"/>
<rect x="157" y="513.8" width="1" height="1" fill="#333"/>
<path d="M172.8 503.6 L177.1 499.3 L181.4 503.6 L177.1 507.9Z" fill="#fff" stroke="#000" stroke-width="1.1"/>
<rect x="176.6" y="503.1" width="1" height="1" fill="#333"/>
<path d="M192.5 491.6 L196.8 487.3 L201.1 491.6 L196.8 495.9Z" fill="#fff" stroke="#000" stroke-width="1.1"/>
<rect x="196.3" y="491.1" width="1" height="1" fill="#333"/>
<path d="M212.1 480.6 L216.4 476.3 L220.7 480.6 L216.4 484.9Z" fill="#fff" stroke="#000" stroke-width="1.1"/>
<rect x="215.9" y="480.1" width="1" height="1" fill="#333"/>
<path d="M231.7 470.2 L236 465.9 L240.3 470.2 L236 474.5Z" fill="#fff" stroke="#000" stroke-width="1.1"/>
<rect x="235.5" y="469.7" width="1" height="1" fill="#333"/>
<path d="M251.4 457.5 L255.7 453.2 L260 457.5 L255.7 461.8Z" fill="#fff" stroke="#000" stroke-width="1.1"/>
<rect x="255.2" y="457" width="1" height="1" fill="#333"/>
<path d="M271 446.8 L275.3 442.5 L279.6 446.8 L275.3 451.1Z" fill="#fff" stroke="#000" stroke-width="1.1"/>
<rect x="274.8" y="446.3" width="1" height="1" fill="#333"/>
<path d="M290.7 433.9 L295 429.6 L299.3 433.9 L295 438.2Z" fill="#fff" stroke="#000" stroke-width="1.1"/>
<rect x="294.5" y="433.4" width="1" height="1" fill="#333"/>
<path d="M310.3 422.7 L314.6 418.4 L318.9 422.7 L314.6 427Z" fill="#fff" stroke="#000" stroke-width="1.1"/>
<rect x="314.1" y="422.2" width="1" height="1" fill="#333"/>
<path d="M329.9 410 L334.2 405.7 L338.5 410 L334.2 414.3Z" fill="#fff" stroke="#000" stroke-width="1.1"/>
<rect x="333.7" y="409.5" width="1" height="1" fill="#333"/>
<line x1="224" y1="406.7" x2="250.5" y2="406.7" stroke="#000" stroke-width="1.7"/>
<rect x="232.8" y="402.3" width="9" height="8.8" fill="#000"/>
<text transform="translate(252.5 410.7) scale(1 1.04)" font-size="11" text-anchor="start" font-weight="normal" stroke="#000" stroke-width="0.25">K</text>
<text x="260" y="404.4" font-size="5.5" text-anchor="start" font-weight="normal" stroke="#000" stroke-width="0.25">+</text>
<text x="263.5" y="414.7" font-size="6.5" text-anchor="start" font-weight="normal" stroke="#000" stroke-width="0.25">o</text>
<line x1="224" y1="426.5" x2="250.5" y2="426.5" stroke="#000" stroke-width="1.7"/>
<path d="M231.5 426.5 L237.3 420.1 L243.1 426.5 L237.3 432.9Z" fill="#fff" stroke="#000" stroke-width="1.1"/>
<rect x="236.8" y="426" width="1" height="1" fill="#333"/>
<text transform="translate(252.5 430.5) scale(1 1.04)" font-size="11" text-anchor="start" font-weight="normal" stroke="#000" stroke-width="0.25">Rb</text>
<text x="266.5" y="424.2" font-size="5.5" text-anchor="start" font-weight="normal" stroke="#000" stroke-width="0.25">+</text>
<text x="269.8" y="434.7" font-size="6.5" text-anchor="start" font-weight="normal" stroke="#000" stroke-width="0.25">o</text>
<text x="234" y="520.2" font-size="13.9" text-anchor="start" font-weight="normal" >Voltage (mV)</text>
<text transform="translate(172.8 427.5) rotate(-90)" font-size="14.6" text-anchor="middle">Current (pA)</text>
<line x1="404.2" y1="502.3" x2="720" y2="502.3" stroke="#000" stroke-width="1.9"/>
<line x1="581.5" y1="393.3" x2="581.5" y2="655" stroke="#000" stroke-width="1.9"/>
<line x1="424.5" y1="502.3" x2="424.5" y2="508.9" stroke="#000" stroke-width="1.7"/>
<text transform="translate(424.5 521.9) scale(1 1.06)" font-size="12.75" text-anchor="middle" font-weight="normal" stroke="#000" stroke-width="0.25">-80</text>
<line x1="444.1" y1="502.3" x2="444.1" y2="506.1" stroke="#000" stroke-width="1.7"/>
<line x1="463.8" y1="502.3" x2="463.8" y2="508.9" stroke="#000" stroke-width="1.7"/>
<text transform="translate(463.8 521.9) scale(1 1.06)" font-size="12.75" text-anchor="middle" font-weight="normal" stroke="#000" stroke-width="0.25">-60</text>
<line x1="483.4" y1="502.3" x2="483.4" y2="506.1" stroke="#000" stroke-width="1.7"/>
<line x1="503" y1="502.3" x2="503" y2="508.9" stroke="#000" stroke-width="1.7"/>
<text transform="translate(503 521.9) scale(1 1.06)" font-size="12.75" text-anchor="middle" font-weight="normal" stroke="#000" stroke-width="0.25">-40</text>
<line x1="522.6" y1="502.3" x2="522.6" y2="506.1" stroke="#000" stroke-width="1.7"/>
<line x1="542.2" y1="502.3" x2="542.2" y2="508.9" stroke="#000" stroke-width="1.7"/>
<text transform="translate(542.2 521.9) scale(1 1.06)" font-size="12.75" text-anchor="middle" font-weight="normal" stroke="#000" stroke-width="0.25">-20</text>
<line x1="561.9" y1="502.3" x2="561.9" y2="506.1" stroke="#000" stroke-width="1.7"/>
<line x1="581.5" y1="502.3" x2="581.5" y2="508.9" stroke="#000" stroke-width="1.7"/>
<line x1="601.1" y1="502.3" x2="601.1" y2="506.1" stroke="#000" stroke-width="1.7"/>
<line x1="620.8" y1="502.3" x2="620.8" y2="508.9" stroke="#000" stroke-width="1.7"/>
<text transform="translate(620.8 521.9) scale(1 1.06)" font-size="12.75" text-anchor="middle" font-weight="normal" stroke="#000" stroke-width="0.25">20</text>
<line x1="640.4" y1="502.3" x2="640.4" y2="506.1" stroke="#000" stroke-width="1.7"/>
<line x1="660" y1="502.3" x2="660" y2="508.9" stroke="#000" stroke-width="1.7"/>
<text transform="translate(660 521.9) scale(1 1.06)" font-size="12.75" text-anchor="middle" font-weight="normal" stroke="#000" stroke-width="0.25">40</text>
<line x1="679.6" y1="502.3" x2="679.6" y2="506.1" stroke="#000" stroke-width="1.7"/>
<line x1="699.2" y1="502.3" x2="699.2" y2="508.9" stroke="#000" stroke-width="1.7"/>
<text transform="translate(699.2 521.9) scale(1 1.06)" font-size="12.75" text-anchor="middle" font-weight="normal" stroke="#000" stroke-width="0.25">60</text>
<line x1="405.3" y1="502.3" x2="405.3" y2="506.1" stroke="#000" stroke-width="1.7"/>
<line x1="718.9" y1="502.3" x2="718.9" y2="506.1" stroke="#000" stroke-width="1.7"/>
<line x1="577.7" y1="653.7" x2="581.5" y2="653.7" stroke="#000" stroke-width="1.7"/>
<line x1="575" y1="632.1" x2="581.5" y2="632.1" stroke="#000" stroke-width="1.7"/>
<text transform="translate(572.2 635.3) scale(1 1.06)" font-size="12.75" text-anchor="end" font-weight="normal" stroke="#000" stroke-width="0.25">-6000</text>
<line x1="577.7" y1="610.5" x2="581.5" y2="610.5" stroke="#000" stroke-width="1.7"/>
<line x1="575" y1="588.8" x2="581.5" y2="588.8" stroke="#000" stroke-width="1.7"/>
<text transform="translate(572.2 592) scale(1 1.06)" font-size="12.75" text-anchor="end" font-weight="normal" stroke="#000" stroke-width="0.25">-4000</text>
<line x1="577.7" y1="567.2" x2="581.5" y2="567.2" stroke="#000" stroke-width="1.7"/>
<line x1="575" y1="545.6" x2="581.5" y2="545.6" stroke="#000" stroke-width="1.7"/>
<text transform="translate(572.2 548.8) scale(1 1.06)" font-size="12.75" text-anchor="end" font-weight="normal" stroke="#000" stroke-width="0.25">-2000</text>
<line x1="577.7" y1="523.9" x2="581.5" y2="523.9" stroke="#000" stroke-width="1.7"/>
<line x1="575" y1="502.3" x2="581.5" y2="502.3" stroke="#000" stroke-width="1.7"/>
<line x1="577.7" y1="480.7" x2="581.5" y2="480.7" stroke="#000" stroke-width="1.7"/>
<line x1="575" y1="459" x2="581.5" y2="459" stroke="#000" stroke-width="1.7"/>
<text transform="translate(572.2 462.2) scale(1 1.06)" font-size="12.75" text-anchor="end" font-weight="normal" stroke="#000" stroke-width="0.25">2000</text>
<line x1="577.7" y1="437.4" x2="581.5" y2="437.4" stroke="#000" stroke-width="1.7"/>
<line x1="575" y1="415.8" x2="581.5" y2="415.8" stroke="#000" stroke-width="1.7"/>
<text transform="translate(572.2 419) scale(1 1.06)" font-size="12.75" text-anchor="end" font-weight="normal" stroke="#000" stroke-width="0.25">4000</text>
<line x1="577.7" y1="394.1" x2="581.5" y2="394.1" stroke="#000" stroke-width="1.7"/>
<path d="M424.5 636.2 L444.1 619.5 L463.8 603.7 L483.4 584.3 L503 567.1 L522.6 549 L542.2 535.2 L561.9 519.3 L581.5 503.8 L601.1 487.6 L620.8 474.2 L640.4 462.6 L660 449.7 L679.6 436 L699.2 425.3" fill="none" stroke="#000" stroke-width="2.0" stroke-linejoin="round" />
<path d="M424.5 582 L444.1 571.2 L463.8 560.7 L483.4 549.6 L503 539.3 L522.6 528.2 L542.2 517.7 L561.9 507.4 L581.5 495.2 L601.1 486.1 L620.8 473.9 L640.4 465.6 L660 453.4 L679.6 441.8 L699.2 429.9" fill="none" stroke="#000" stroke-width="2.0" stroke-linejoin="round" />
<rect x="421.1" y="632.8" width="6.8" height="6.8" fill="#000"/>
<rect x="440.7" y="616.1" width="6.8" height="6.8" fill="#000"/>
<rect x="460.4" y="600.3" width="6.8" height="6.8" fill="#000"/>
<rect x="480" y="580.9" width="6.8" height="6.8" fill="#000"/>
<rect x="499.6" y="563.7" width="6.8" height="6.8" fill="#000"/>
<rect x="519.2" y="545.6" width="6.8" height="6.8" fill="#000"/>
<rect x="538.9" y="531.8" width="6.8" height="6.8" fill="#000"/>
<rect x="558.5" y="515.9" width="6.8" height="6.8" fill="#000"/>
<rect x="578.1" y="500.4" width="6.8" height="6.8" fill="#000"/>
<rect x="597.7" y="484.2" width="6.8" height="6.8" fill="#000"/>
<rect x="617.4" y="470.8" width="6.8" height="6.8" fill="#000"/>
<rect x="637" y="459.2" width="6.8" height="6.8" fill="#000"/>
<rect x="656.6" y="446.3" width="6.8" height="6.8" fill="#000"/>
<rect x="676.2" y="432.6" width="6.8" height="6.8" fill="#000"/>
<rect x="695.9" y="421.9" width="6.8" height="6.8" fill="#000"/>
<path d="M420.2 582 L424.5 577.7 L428.8 582 L424.5 586.3Z" fill="#fff" stroke="#000" stroke-width="1.1"/>
<rect x="424" y="581.5" width="1" height="1" fill="#333"/>
<path d="M439.8 571.2 L444.1 566.9 L448.4 571.2 L444.1 575.5Z" fill="#fff" stroke="#000" stroke-width="1.1"/>
<rect x="443.6" y="570.7" width="1" height="1" fill="#333"/>
<path d="M459.4 560.7 L463.8 556.4 L468.1 560.7 L463.8 565Z" fill="#fff" stroke="#000" stroke-width="1.1"/>
<rect x="463.2" y="560.2" width="1" height="1" fill="#333"/>
<path d="M479.1 549.6 L483.4 545.3 L487.7 549.6 L483.4 553.9Z" fill="#fff" stroke="#000" stroke-width="1.1"/>
<rect x="482.9" y="549.1" width="1" height="1" fill="#333"/>
<path d="M498.7 539.3 L503 535 L507.3 539.3 L503 543.6Z" fill="#fff" stroke="#000" stroke-width="1.1"/>
<rect x="502.5" y="538.8" width="1" height="1" fill="#333"/>
<path d="M518.3 528.2 L522.6 523.9 L526.9 528.2 L522.6 532.5Z" fill="#fff" stroke="#000" stroke-width="1.1"/>
<rect x="522.1" y="527.7" width="1" height="1" fill="#333"/>
<path d="M538 517.7 L542.2 513.4 L546.5 517.7 L542.2 522Z" fill="#fff" stroke="#000" stroke-width="1.1"/>
<rect x="541.8" y="517.2" width="1" height="1" fill="#333"/>
<path d="M557.6 507.4 L561.9 503.1 L566.2 507.4 L561.9 511.7Z" fill="#fff" stroke="#000" stroke-width="1.1"/>
<rect x="561.4" y="506.9" width="1" height="1" fill="#333"/>
<path d="M577.2 495.2 L581.5 490.9 L585.8 495.2 L581.5 499.5Z" fill="#fff" stroke="#000" stroke-width="1.1"/>
<rect x="581" y="494.7" width="1" height="1" fill="#333"/>
<path d="M596.8 486.1 L601.1 481.8 L605.4 486.1 L601.1 490.4Z" fill="#fff" stroke="#000" stroke-width="1.1"/>
<rect x="600.6" y="485.6" width="1" height="1" fill="#333"/>
<path d="M616.5 473.9 L620.8 469.6 L625 473.9 L620.8 478.2Z" fill="#fff" stroke="#000" stroke-width="1.1"/>
<rect x="620.2" y="473.4" width="1" height="1" fill="#333"/>
<path d="M636.1 465.6 L640.4 461.3 L644.7 465.6 L640.4 469.9Z" fill="#fff" stroke="#000" stroke-width="1.1"/>
<rect x="639.9" y="465.1" width="1" height="1" fill="#333"/>
<path d="M655.7 453.4 L660 449.1 L664.3 453.4 L660 457.7Z" fill="#fff" stroke="#000" stroke-width="1.1"/>
<rect x="659.5" y="452.9" width="1" height="1" fill="#333"/>
<path d="M675.3 441.8 L679.6 437.5 L683.9 441.8 L679.6 446.1Z" fill="#fff" stroke="#000" stroke-width="1.1"/>
<rect x="679.1" y="441.3" width="1" height="1" fill="#333"/>
<path d="M695 429.9 L699.2 425.6 L703.5 429.9 L699.2 434.2Z" fill="#fff" stroke="#000" stroke-width="1.1"/>
<rect x="698.8" y="429.4" width="1" height="1" fill="#333"/>
<line x1="591" y1="405.6" x2="617.5" y2="405.6" stroke="#000" stroke-width="1.7"/>
<rect x="599.8" y="401.2" width="9" height="8.8" fill="#000"/>
<text transform="translate(619.5 409.6) scale(1 1.04)" font-size="11" text-anchor="start" font-weight="normal" stroke="#000" stroke-width="0.25">K</text>
<text x="627" y="403.3" font-size="5.5" text-anchor="start" font-weight="normal" stroke="#000" stroke-width="0.25">+</text>
<text x="630.5" y="413.6" font-size="6.5" text-anchor="start" font-weight="normal" stroke="#000" stroke-width="0.25">o</text>
<line x1="591" y1="425.4" x2="617.5" y2="425.4" stroke="#000" stroke-width="1.7"/>
<path d="M598.5 425.4 L604.3 419 L610.1 425.4 L604.3 431.8Z" fill="#fff" stroke="#000" stroke-width="1.1"/>
<rect x="603.8" y="424.9" width="1" height="1" fill="#333"/>
<text transform="translate(619.5 429.4) scale(1 1.04)" font-size="11" text-anchor="start" font-weight="normal" stroke="#000" stroke-width="0.25">Rb</text>
<text x="633.5" y="423.1" font-size="5.5" text-anchor="start" font-weight="normal" stroke="#000" stroke-width="0.25">+</text>
<text x="636.8" y="433.6" font-size="6.5" text-anchor="start" font-weight="normal" stroke="#000" stroke-width="0.25">o</text>
<text x="595.5" y="539.1" font-size="13.9" text-anchor="start" font-weight="normal" >Voltage (mV)</text>
<text transform="translate(528.6 446.5) rotate(-90)" font-size="14.6" text-anchor="middle">Current (pA)</text>
</svg>
</body></html>
